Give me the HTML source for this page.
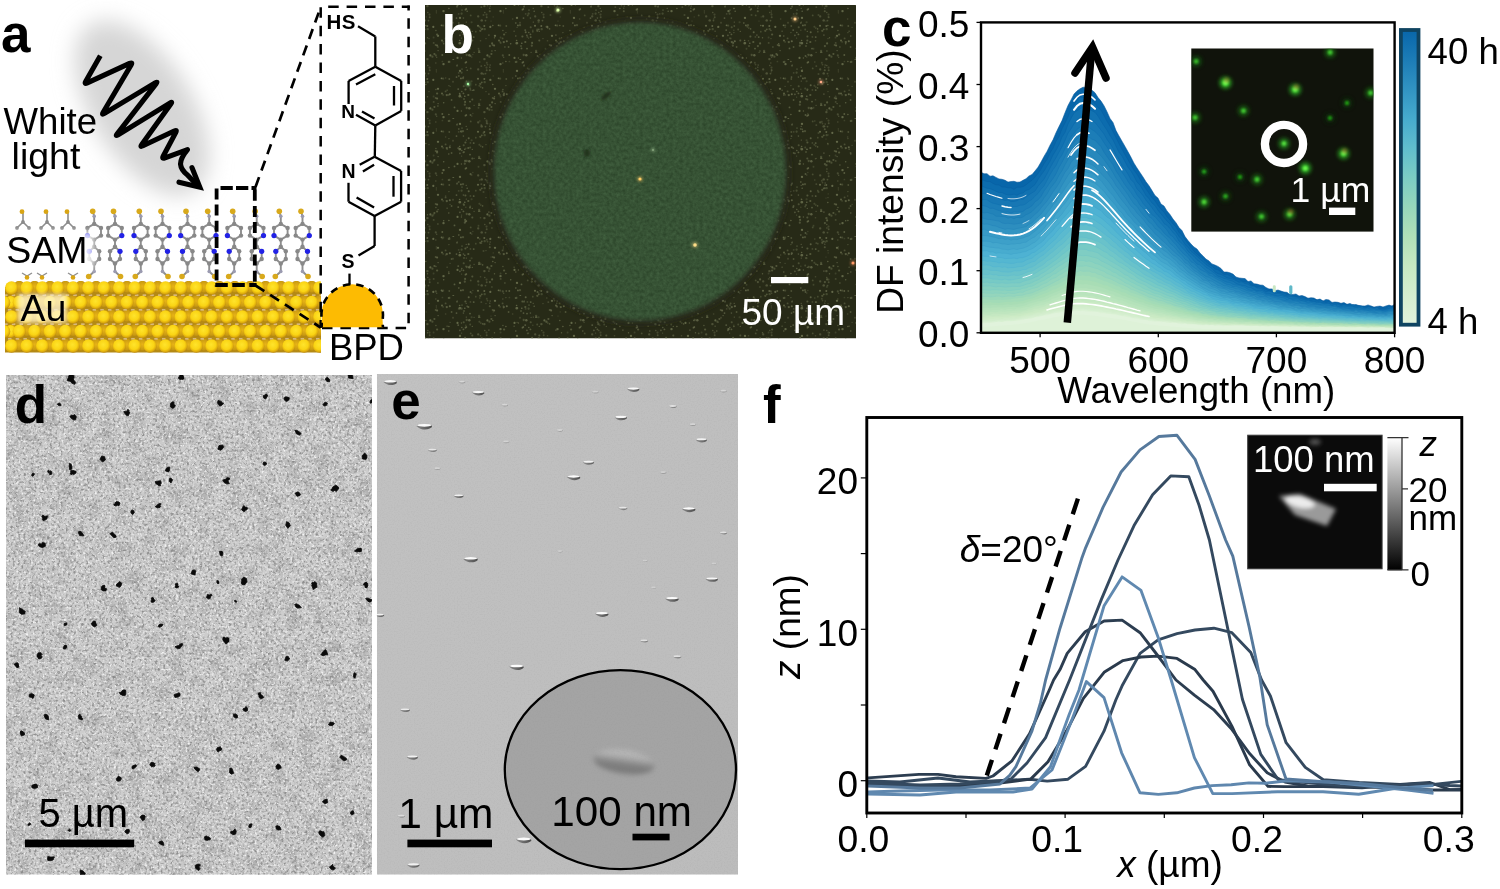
<!DOCTYPE html>
<html><head><meta charset="utf-8"><title>Figure</title>
<style>html,body{margin:0;padding:0;background:#fff;} body{width:1500px;height:889px;overflow:hidden;font-family:"Liberation Sans",sans-serif;} svg{display:block;will-change:transform;}</style>
</head><body>
<svg width="1500" height="889" viewBox="0 0 1500 889"><defs>
<filter id="blur14" x="-50%" y="-50%" width="200%" height="200%"><feGaussianBlur stdDeviation="14"/></filter>
<filter id="blur3" x="-50%" y="-50%" width="200%" height="200%"><feGaussianBlur stdDeviation="3"/></filter>
<filter id="blur1" x="-50%" y="-50%" width="200%" height="200%"><feGaussianBlur stdDeviation="1"/></filter>
<filter id="blur06" x="-50%" y="-50%" width="200%" height="200%"><feGaussianBlur stdDeviation="0.6"/></filter>
<filter id="blur2" x="-50%" y="-50%" width="200%" height="200%"><feGaussianBlur stdDeviation="2"/></filter>
<filter id="glow" x="-100%" y="-100%" width="300%" height="300%"><feGaussianBlur stdDeviation="2.2"/></filter>
<radialGradient id="au" cx="0.45" cy="0.4" r="0.6">
  <stop offset="0" stop-color="#ffe42c"/><stop offset="0.6" stop-color="#fad414"/><stop offset="0.85" stop-color="#e0ae0c"/><stop offset="1" stop-color="#bd8c12"/>
</radialGradient>
<!-- noise for panel d -->
<filter id="noiseD" x="0" y="0" width="100%" height="100%">
  <feTurbulence type="fractalNoise" baseFrequency="0.38" numOctaves="2" seed="3" result="t"/>
  <feColorMatrix in="t" type="matrix" values="0 0 0 0 0  0 0 0 0 0  0 0 0 0 0  0 0 0 -3.0 1.62" result="a1"/>
  <feFlood flood-color="#808080"/>
  <feComposite in2="a1" operator="in" result="dk"/>
  <feTurbulence type="fractalNoise" baseFrequency="0.42" numOctaves="2" seed="8" result="t2"/>
  <feColorMatrix in="t2" type="matrix" values="0 0 0 0 0  0 0 0 0 0  0 0 0 0 0  0 0 0 3.2 -1.72" result="a2"/>
  <feFlood flood-color="#ffffff"/>
  <feComposite in2="a2" operator="in" result="wt"/>
  <feMerge result="m"><feMergeNode in="dk"/><feMergeNode in="wt"/></feMerge>
  <feGaussianBlur in="m" stdDeviation="0.65"/>
</filter>
<filter id="noiseD2" x="0" y="0" width="100%" height="100%">
  <feTurbulence type="fractalNoise" baseFrequency="0.07" numOctaves="3" seed="9" result="t"/>
  <feColorMatrix in="t" type="matrix" values="0 0 0 0 0  0 0 0 0 0  0 0 0 0 0  0 0 0 -2.4 1.35" result="a1"/>
  <feFlood flood-color="#8a8a8a"/>
  <feComposite in2="a1" operator="in"/>
</filter>
<filter id="noiseE" x="0" y="0" width="100%" height="100%">
  <feTurbulence type="fractalNoise" baseFrequency="0.7" numOctaves="1" seed="5" result="t"/>
  <feColorMatrix in="t" type="matrix" values="0 0 0 0 0  0 0 0 0 0  0 0 0 0 0  0 0 0 -1.2 0.65" result="a1"/>
  <feFlood flood-color="#909090"/>
  <feComposite in2="a1" operator="in"/>
</filter>
<filter id="speck" x="0" y="0" width="100%" height="100%">
  <feTurbulence type="fractalNoise" baseFrequency="0.42" numOctaves="1" seed="11" result="t"/>
  <feColorMatrix in="t" type="matrix" values="0 0 0 0 0  0 0 0 0 0  0 0 0 0 0  0 0 0 7 -3.75" result="a1"/>
  <feGaussianBlur in="a1" stdDeviation="0.55" result="a2"/>
  <feFlood flood-color="#6a6e4c"/>
  <feComposite in2="a2" operator="in"/>
</filter>
<filter id="speckG" x="0" y="0" width="100%" height="100%">
  <feTurbulence type="fractalNoise" baseFrequency="0.5" numOctaves="1" seed="4" result="t"/>
  <feColorMatrix in="t" type="matrix" values="0 0 0 0 0  0 0 0 0 0  0 0 0 0 0  0 0 0 -3 1.6" result="a1"/>
  <feGaussianBlur in="a1" stdDeviation="0.6" result="a2"/>
  <feFlood flood-color="#2c4126"/>
  <feComposite in2="a2" operator="in"/>
</filter>
</defs><rect width="1500" height="889" fill="#fff"/><filter id="blur11" x="-50%" y="-50%" width="200%" height="200%"><feGaussianBlur stdDeviation="11"/></filter><g filter="url(#blur11)"><ellipse cx="142" cy="108" rx="98" ry="50" transform="rotate(58 142 108)" fill="#d6d6d6"/></g><path d="M100.3,55.7 L85.8,81.3 Q84.0,84.4 87.3,82.9 L129.6,63.4 Q132.9,61.9 131.1,65.0 L103.2,112.2 Q101.4,115.3 104.5,113.4 L155.1,82.9 Q158.2,81.0 156.0,83.8 L117.2,133.9 Q115.0,136.7 118.1,134.8 L169.8,103.1 Q172.9,101.2 170.8,104.1 L141.8,144.5 Q139.7,147.4 142.9,145.8 L174.2,131.0 Q177.4,129.4 175.7,132.6 L163.3,156.0 Q161.6,159.2 165.0,157.9 L187.5,149.6 Q180.5,158 180.5,164 Q181,170 187.5,175 L197,185" fill="none" stroke="#000" stroke-width="5.1" stroke-linejoin="round" stroke-linecap="butt"/><path d="M179,182.2 L199.8,187.2 L192,167.6" fill="none" stroke="#000" stroke-width="5.1" stroke-linejoin="miter" stroke-linecap="round"/><text x="1" y="51.5" font-family="Liberation Sans, sans-serif" font-weight="bold" font-size="53">a</text><text x="3.6" y="133.6" font-family="Liberation Sans, sans-serif" font-size="36.6">White</text><text x="11.6" y="168.5" font-family="Liberation Sans, sans-serif" font-size="37.5">light</text><polygon points="94.2,223.9 101.0,227.9 101.0,235.6 94.2,239.6 87.4,235.6 87.4,227.9" fill="none" stroke="#8e8e8e" stroke-width="1.9"/><polygon points="94.2,246.8 99.2,251.3 99.2,259.0 94.2,263.5 89.2,259.0 89.2,251.3" fill="none" stroke="#8e8e8e" stroke-width="1.9"/><path d="M92.7,211.3 L94.2,216.2 L94.2,223.9 M94.2,239.6 L94.2,246.8 M94.2,263.5 L94.2,271.5 L88.7,276.5" stroke="#8e8e8e" stroke-width="1.9" fill="none"/><circle cx="94.2" cy="223.9" r="2.2" fill="#888"/><circle cx="101.0" cy="227.9" r="2.2" fill="#888"/><circle cx="101.0" cy="235.6" r="2.2" fill="#888"/><circle cx="94.2" cy="239.6" r="2.2" fill="#888"/><circle cx="87.4" cy="235.6" r="2.2" fill="#888"/><circle cx="87.4" cy="227.9" r="2.2" fill="#888"/><circle cx="94.2" cy="246.8" r="2.2" fill="#888"/><circle cx="99.2" cy="251.3" r="2.2" fill="#888"/><circle cx="99.2" cy="259.0" r="2.2" fill="#888"/><circle cx="94.2" cy="263.5" r="2.2" fill="#888"/><circle cx="89.2" cy="259.0" r="2.2" fill="#888"/><circle cx="89.2" cy="251.3" r="2.2" fill="#888"/><circle cx="87.4" cy="235.6" r="2.6" fill="#2222e6"/><circle cx="89.2" cy="251.3" r="2.6" fill="#2222e6"/><circle cx="94.2" cy="216.2" r="1.8" fill="#9a9ab0"/><circle cx="94.2" cy="271.5" r="1.8" fill="#9a9ab0"/><circle cx="92.7" cy="211.3" r="2.8" fill="#d8a91c"/><circle cx="88.7" cy="276.5" r="2.8" fill="#d8a91c"/><polygon points="115.0,223.9 121.8,227.9 121.8,235.6 115.0,239.6 108.2,235.6 108.2,227.9" fill="none" stroke="#8e8e8e" stroke-width="1.9"/><polygon points="115.0,246.8 120.0,251.3 120.0,259.0 115.0,263.5 110.0,259.0 110.0,251.3" fill="none" stroke="#8e8e8e" stroke-width="1.9"/><path d="M113.5,211.3 L115,216.2 L115,223.9 M115,239.6 L115,246.8 M115,263.5 L115,271.5 L120.5,276.5" stroke="#8e8e8e" stroke-width="1.9" fill="none"/><circle cx="115.0" cy="223.9" r="2.2" fill="#888"/><circle cx="121.8" cy="227.9" r="2.2" fill="#888"/><circle cx="121.8" cy="235.6" r="2.2" fill="#888"/><circle cx="115.0" cy="239.6" r="2.2" fill="#888"/><circle cx="108.2" cy="235.6" r="2.2" fill="#888"/><circle cx="108.2" cy="227.9" r="2.2" fill="#888"/><circle cx="115.0" cy="246.8" r="2.2" fill="#888"/><circle cx="120.0" cy="251.3" r="2.2" fill="#888"/><circle cx="120.0" cy="259.0" r="2.2" fill="#888"/><circle cx="115.0" cy="263.5" r="2.2" fill="#888"/><circle cx="110.0" cy="259.0" r="2.2" fill="#888"/><circle cx="110.0" cy="251.3" r="2.2" fill="#888"/><circle cx="121.8" cy="235.6" r="2.6" fill="#2222e6"/><circle cx="120.0" cy="251.3" r="2.6" fill="#2222e6"/><circle cx="115" cy="216.2" r="1.8" fill="#9a9ab0"/><circle cx="115" cy="271.5" r="1.8" fill="#9a9ab0"/><circle cx="113.5" cy="211.3" r="2.8" fill="#d8a91c"/><circle cx="120.5" cy="276.5" r="2.8" fill="#d8a91c"/><polygon points="140.8,223.9 147.6,227.9 147.6,235.6 140.8,239.6 134.0,235.6 134.0,227.9" fill="none" stroke="#8e8e8e" stroke-width="1.9"/><polygon points="140.8,246.8 145.8,251.3 145.8,259.0 140.8,263.5 135.8,259.0 135.8,251.3" fill="none" stroke="#8e8e8e" stroke-width="1.9"/><path d="M139.3,211.3 L140.8,216.2 L140.8,223.9 M140.8,239.6 L140.8,246.8 M140.8,263.5 L140.8,271.5 L135.3,276.5" stroke="#8e8e8e" stroke-width="1.9" fill="none"/><circle cx="140.8" cy="223.9" r="2.2" fill="#888"/><circle cx="147.6" cy="227.9" r="2.2" fill="#888"/><circle cx="147.6" cy="235.6" r="2.2" fill="#888"/><circle cx="140.8" cy="239.6" r="2.2" fill="#888"/><circle cx="134.0" cy="235.6" r="2.2" fill="#888"/><circle cx="134.0" cy="227.9" r="2.2" fill="#888"/><circle cx="140.8" cy="246.8" r="2.2" fill="#888"/><circle cx="145.8" cy="251.3" r="2.2" fill="#888"/><circle cx="145.8" cy="259.0" r="2.2" fill="#888"/><circle cx="140.8" cy="263.5" r="2.2" fill="#888"/><circle cx="135.8" cy="259.0" r="2.2" fill="#888"/><circle cx="135.8" cy="251.3" r="2.2" fill="#888"/><circle cx="134.0" cy="235.6" r="2.6" fill="#2222e6"/><circle cx="135.8" cy="251.3" r="2.6" fill="#2222e6"/><circle cx="140.8" cy="216.2" r="1.8" fill="#9a9ab0"/><circle cx="140.8" cy="271.5" r="1.8" fill="#9a9ab0"/><circle cx="139.3" cy="211.3" r="2.8" fill="#d8a91c"/><circle cx="135.3" cy="276.5" r="2.8" fill="#d8a91c"/><polygon points="162.5,223.9 169.3,227.9 169.3,235.6 162.5,239.6 155.7,235.6 155.7,227.9" fill="none" stroke="#8e8e8e" stroke-width="1.9"/><polygon points="162.5,246.8 167.5,251.3 167.5,259.0 162.5,263.5 157.5,259.0 157.5,251.3" fill="none" stroke="#8e8e8e" stroke-width="1.9"/><path d="M161.0,211.3 L162.5,216.2 L162.5,223.9 M162.5,239.6 L162.5,246.8 M162.5,263.5 L162.5,271.5 L168.0,276.5" stroke="#8e8e8e" stroke-width="1.9" fill="none"/><circle cx="162.5" cy="223.9" r="2.2" fill="#888"/><circle cx="169.3" cy="227.9" r="2.2" fill="#888"/><circle cx="169.3" cy="235.6" r="2.2" fill="#888"/><circle cx="162.5" cy="239.6" r="2.2" fill="#888"/><circle cx="155.7" cy="235.6" r="2.2" fill="#888"/><circle cx="155.7" cy="227.9" r="2.2" fill="#888"/><circle cx="162.5" cy="246.8" r="2.2" fill="#888"/><circle cx="167.5" cy="251.3" r="2.2" fill="#888"/><circle cx="167.5" cy="259.0" r="2.2" fill="#888"/><circle cx="162.5" cy="263.5" r="2.2" fill="#888"/><circle cx="157.5" cy="259.0" r="2.2" fill="#888"/><circle cx="157.5" cy="251.3" r="2.2" fill="#888"/><circle cx="169.3" cy="235.6" r="2.6" fill="#2222e6"/><circle cx="167.5" cy="251.3" r="2.6" fill="#2222e6"/><circle cx="162.5" cy="216.2" r="1.8" fill="#9a9ab0"/><circle cx="162.5" cy="271.5" r="1.8" fill="#9a9ab0"/><circle cx="161.0" cy="211.3" r="2.8" fill="#d8a91c"/><circle cx="168.0" cy="276.5" r="2.8" fill="#d8a91c"/><polygon points="187.5,223.9 194.3,227.9 194.3,235.6 187.5,239.6 180.7,235.6 180.7,227.9" fill="none" stroke="#8e8e8e" stroke-width="1.9"/><polygon points="187.5,246.8 192.5,251.3 192.5,259.0 187.5,263.5 182.5,259.0 182.5,251.3" fill="none" stroke="#8e8e8e" stroke-width="1.9"/><path d="M186.0,211.3 L187.5,216.2 L187.5,223.9 M187.5,239.6 L187.5,246.8 M187.5,263.5 L187.5,271.5 L182.0,276.5" stroke="#8e8e8e" stroke-width="1.9" fill="none"/><circle cx="187.5" cy="223.9" r="2.2" fill="#888"/><circle cx="194.3" cy="227.9" r="2.2" fill="#888"/><circle cx="194.3" cy="235.6" r="2.2" fill="#888"/><circle cx="187.5" cy="239.6" r="2.2" fill="#888"/><circle cx="180.7" cy="235.6" r="2.2" fill="#888"/><circle cx="180.7" cy="227.9" r="2.2" fill="#888"/><circle cx="187.5" cy="246.8" r="2.2" fill="#888"/><circle cx="192.5" cy="251.3" r="2.2" fill="#888"/><circle cx="192.5" cy="259.0" r="2.2" fill="#888"/><circle cx="187.5" cy="263.5" r="2.2" fill="#888"/><circle cx="182.5" cy="259.0" r="2.2" fill="#888"/><circle cx="182.5" cy="251.3" r="2.2" fill="#888"/><circle cx="180.7" cy="235.6" r="2.6" fill="#2222e6"/><circle cx="182.5" cy="251.3" r="2.6" fill="#2222e6"/><circle cx="187.5" cy="216.2" r="1.8" fill="#9a9ab0"/><circle cx="187.5" cy="271.5" r="1.8" fill="#9a9ab0"/><circle cx="186.0" cy="211.3" r="2.8" fill="#d8a91c"/><circle cx="182.0" cy="276.5" r="2.8" fill="#d8a91c"/><polygon points="209.2,223.9 216.0,227.9 216.0,235.6 209.2,239.6 202.4,235.6 202.4,227.9" fill="none" stroke="#8e8e8e" stroke-width="1.9"/><polygon points="209.2,246.8 214.2,251.3 214.2,259.0 209.2,263.5 204.2,259.0 204.2,251.3" fill="none" stroke="#8e8e8e" stroke-width="1.9"/><path d="M207.7,211.3 L209.2,216.2 L209.2,223.9 M209.2,239.6 L209.2,246.8 M209.2,263.5 L209.2,271.5 L214.7,276.5" stroke="#8e8e8e" stroke-width="1.9" fill="none"/><circle cx="209.2" cy="223.9" r="2.2" fill="#888"/><circle cx="216.0" cy="227.9" r="2.2" fill="#888"/><circle cx="216.0" cy="235.6" r="2.2" fill="#888"/><circle cx="209.2" cy="239.6" r="2.2" fill="#888"/><circle cx="202.4" cy="235.6" r="2.2" fill="#888"/><circle cx="202.4" cy="227.9" r="2.2" fill="#888"/><circle cx="209.2" cy="246.8" r="2.2" fill="#888"/><circle cx="214.2" cy="251.3" r="2.2" fill="#888"/><circle cx="214.2" cy="259.0" r="2.2" fill="#888"/><circle cx="209.2" cy="263.5" r="2.2" fill="#888"/><circle cx="204.2" cy="259.0" r="2.2" fill="#888"/><circle cx="204.2" cy="251.3" r="2.2" fill="#888"/><circle cx="216.0" cy="235.6" r="2.6" fill="#2222e6"/><circle cx="214.2" cy="251.3" r="2.6" fill="#2222e6"/><circle cx="209.2" cy="216.2" r="1.8" fill="#9a9ab0"/><circle cx="209.2" cy="271.5" r="1.8" fill="#9a9ab0"/><circle cx="207.7" cy="211.3" r="2.8" fill="#d8a91c"/><circle cx="214.7" cy="276.5" r="2.8" fill="#d8a91c"/><polygon points="234.2,223.9 241.0,227.9 241.0,235.6 234.2,239.6 227.4,235.6 227.4,227.9" fill="none" stroke="#8e8e8e" stroke-width="1.9"/><polygon points="234.2,246.8 239.2,251.3 239.2,259.0 234.2,263.5 229.2,259.0 229.2,251.3" fill="none" stroke="#8e8e8e" stroke-width="1.9"/><path d="M232.7,211.3 L234.2,216.2 L234.2,223.9 M234.2,239.6 L234.2,246.8 M234.2,263.5 L234.2,271.5 L228.7,276.5" stroke="#8e8e8e" stroke-width="1.9" fill="none"/><circle cx="234.2" cy="223.9" r="2.2" fill="#888"/><circle cx="241.0" cy="227.9" r="2.2" fill="#888"/><circle cx="241.0" cy="235.6" r="2.2" fill="#888"/><circle cx="234.2" cy="239.6" r="2.2" fill="#888"/><circle cx="227.4" cy="235.6" r="2.2" fill="#888"/><circle cx="227.4" cy="227.9" r="2.2" fill="#888"/><circle cx="234.2" cy="246.8" r="2.2" fill="#888"/><circle cx="239.2" cy="251.3" r="2.2" fill="#888"/><circle cx="239.2" cy="259.0" r="2.2" fill="#888"/><circle cx="234.2" cy="263.5" r="2.2" fill="#888"/><circle cx="229.2" cy="259.0" r="2.2" fill="#888"/><circle cx="229.2" cy="251.3" r="2.2" fill="#888"/><circle cx="227.4" cy="235.6" r="2.6" fill="#2222e6"/><circle cx="229.2" cy="251.3" r="2.6" fill="#2222e6"/><circle cx="234.2" cy="216.2" r="1.8" fill="#9a9ab0"/><circle cx="234.2" cy="271.5" r="1.8" fill="#9a9ab0"/><circle cx="232.7" cy="211.3" r="2.8" fill="#d8a91c"/><circle cx="228.7" cy="276.5" r="2.8" fill="#d8a91c"/><polygon points="256.7,223.9 263.5,227.9 263.5,235.6 256.7,239.6 249.9,235.6 249.9,227.9" fill="none" stroke="#8e8e8e" stroke-width="1.9"/><polygon points="256.7,246.8 261.7,251.3 261.7,259.0 256.7,263.5 251.7,259.0 251.7,251.3" fill="none" stroke="#8e8e8e" stroke-width="1.9"/><path d="M255.2,211.3 L256.7,216.2 L256.7,223.9 M256.7,239.6 L256.7,246.8 M256.7,263.5 L256.7,271.5 L262.2,276.5" stroke="#8e8e8e" stroke-width="1.9" fill="none"/><circle cx="256.7" cy="223.9" r="2.2" fill="#888"/><circle cx="263.5" cy="227.9" r="2.2" fill="#888"/><circle cx="263.5" cy="235.6" r="2.2" fill="#888"/><circle cx="256.7" cy="239.6" r="2.2" fill="#888"/><circle cx="249.9" cy="235.6" r="2.2" fill="#888"/><circle cx="249.9" cy="227.9" r="2.2" fill="#888"/><circle cx="256.7" cy="246.8" r="2.2" fill="#888"/><circle cx="261.7" cy="251.3" r="2.2" fill="#888"/><circle cx="261.7" cy="259.0" r="2.2" fill="#888"/><circle cx="256.7" cy="263.5" r="2.2" fill="#888"/><circle cx="251.7" cy="259.0" r="2.2" fill="#888"/><circle cx="251.7" cy="251.3" r="2.2" fill="#888"/><circle cx="263.5" cy="235.6" r="2.6" fill="#2222e6"/><circle cx="261.7" cy="251.3" r="2.6" fill="#2222e6"/><circle cx="256.7" cy="216.2" r="1.8" fill="#9a9ab0"/><circle cx="256.7" cy="271.5" r="1.8" fill="#9a9ab0"/><circle cx="255.2" cy="211.3" r="2.8" fill="#d8a91c"/><circle cx="262.2" cy="276.5" r="2.8" fill="#d8a91c"/><polygon points="280.8,223.9 287.6,227.9 287.6,235.6 280.8,239.6 274.0,235.6 274.0,227.9" fill="none" stroke="#8e8e8e" stroke-width="1.9"/><polygon points="280.8,246.8 285.8,251.3 285.8,259.0 280.8,263.5 275.8,259.0 275.8,251.3" fill="none" stroke="#8e8e8e" stroke-width="1.9"/><path d="M279.3,211.3 L280.8,216.2 L280.8,223.9 M280.8,239.6 L280.8,246.8 M280.8,263.5 L280.8,271.5 L275.3,276.5" stroke="#8e8e8e" stroke-width="1.9" fill="none"/><circle cx="280.8" cy="223.9" r="2.2" fill="#888"/><circle cx="287.6" cy="227.9" r="2.2" fill="#888"/><circle cx="287.6" cy="235.6" r="2.2" fill="#888"/><circle cx="280.8" cy="239.6" r="2.2" fill="#888"/><circle cx="274.0" cy="235.6" r="2.2" fill="#888"/><circle cx="274.0" cy="227.9" r="2.2" fill="#888"/><circle cx="280.8" cy="246.8" r="2.2" fill="#888"/><circle cx="285.8" cy="251.3" r="2.2" fill="#888"/><circle cx="285.8" cy="259.0" r="2.2" fill="#888"/><circle cx="280.8" cy="263.5" r="2.2" fill="#888"/><circle cx="275.8" cy="259.0" r="2.2" fill="#888"/><circle cx="275.8" cy="251.3" r="2.2" fill="#888"/><circle cx="274.0" cy="235.6" r="2.6" fill="#2222e6"/><circle cx="275.8" cy="251.3" r="2.6" fill="#2222e6"/><circle cx="280.8" cy="216.2" r="1.8" fill="#9a9ab0"/><circle cx="280.8" cy="271.5" r="1.8" fill="#9a9ab0"/><circle cx="279.3" cy="211.3" r="2.8" fill="#d8a91c"/><circle cx="275.3" cy="276.5" r="2.8" fill="#d8a91c"/><polygon points="302.5,223.9 309.3,227.9 309.3,235.6 302.5,239.6 295.7,235.6 295.7,227.9" fill="none" stroke="#8e8e8e" stroke-width="1.9"/><polygon points="302.5,246.8 307.5,251.3 307.5,259.0 302.5,263.5 297.5,259.0 297.5,251.3" fill="none" stroke="#8e8e8e" stroke-width="1.9"/><path d="M301.0,211.3 L302.5,216.2 L302.5,223.9 M302.5,239.6 L302.5,246.8 M302.5,263.5 L302.5,271.5 L308.0,276.5" stroke="#8e8e8e" stroke-width="1.9" fill="none"/><circle cx="302.5" cy="223.9" r="2.2" fill="#888"/><circle cx="309.3" cy="227.9" r="2.2" fill="#888"/><circle cx="309.3" cy="235.6" r="2.2" fill="#888"/><circle cx="302.5" cy="239.6" r="2.2" fill="#888"/><circle cx="295.7" cy="235.6" r="2.2" fill="#888"/><circle cx="295.7" cy="227.9" r="2.2" fill="#888"/><circle cx="302.5" cy="246.8" r="2.2" fill="#888"/><circle cx="307.5" cy="251.3" r="2.2" fill="#888"/><circle cx="307.5" cy="259.0" r="2.2" fill="#888"/><circle cx="302.5" cy="263.5" r="2.2" fill="#888"/><circle cx="297.5" cy="259.0" r="2.2" fill="#888"/><circle cx="297.5" cy="251.3" r="2.2" fill="#888"/><circle cx="309.3" cy="235.6" r="2.6" fill="#2222e6"/><circle cx="307.5" cy="251.3" r="2.6" fill="#2222e6"/><circle cx="302.5" cy="216.2" r="1.8" fill="#9a9ab0"/><circle cx="302.5" cy="271.5" r="1.8" fill="#9a9ab0"/><circle cx="301.0" cy="211.3" r="2.8" fill="#d8a91c"/><circle cx="308.0" cy="276.5" r="2.8" fill="#d8a91c"/><path d="M23,212 L23,222 L17,228 M23,222 L29,228" stroke="#8c8c8c" stroke-width="1.6" fill="none"/><circle cx="17" cy="228" r="1.9" fill="#8a8a8a"/><circle cx="29" cy="228" r="1.9" fill="#8a8a8a"/><circle cx="23" cy="222" r="1.9" fill="#8a8a8a"/><circle cx="22" cy="211.7" r="2.4" fill="#d9a514"/><path d="M47,212 L47,222 L41,228 M47,222 L53,228" stroke="#8c8c8c" stroke-width="1.6" fill="none"/><circle cx="41" cy="228" r="1.9" fill="#8a8a8a"/><circle cx="53" cy="228" r="1.9" fill="#8a8a8a"/><circle cx="47" cy="222" r="1.9" fill="#8a8a8a"/><circle cx="46" cy="211.7" r="2.4" fill="#d9a514"/><path d="M68,212 L68,222 L62,228 M68,222 L74,228" stroke="#8c8c8c" stroke-width="1.6" fill="none"/><circle cx="62" cy="228" r="1.9" fill="#8a8a8a"/><circle cx="74" cy="228" r="1.9" fill="#8a8a8a"/><circle cx="68" cy="222" r="1.9" fill="#8a8a8a"/><circle cx="67" cy="211.7" r="2.4" fill="#d9a514"/><path d="M22,273 L27,276 L32,273" stroke="#8c8c8c" stroke-width="1.4" fill="none"/><circle cx="27" cy="277.5" r="2.3" fill="#d9a514"/><path d="M37,273 L42,276 L47,273" stroke="#8c8c8c" stroke-width="1.4" fill="none"/><circle cx="42" cy="277.5" r="2.3" fill="#d9a514"/><path d="M68,273 L73,276 L78,273" stroke="#8c8c8c" stroke-width="1.4" fill="none"/><circle cx="73" cy="277.5" r="2.3" fill="#d9a514"/><rect x="6" y="232" width="88" height="36" fill="#fff" opacity="0.85" filter="url(#blur3)"/><text x="6.3" y="262.6" font-family="Liberation Sans, sans-serif" font-size="37.5">SAM</text><clipPath id="auclip"><rect x="5" y="281" width="316" height="72.5"/></clipPath><g clip-path="url(#auclip)"><radialGradient id="auB" cx="0.5" cy="0.45" r="0.6"><stop offset="0" stop-color="#e8b416"/><stop offset="0.7" stop-color="#c99a12"/><stop offset="1" stop-color="#a67a10"/></radialGradient><rect x="5" y="287" width="316" height="65.5" fill="#b48a16"/><ellipse cx="19.2" cy="287" rx="5.6" ry="6.2" fill="url(#auB)"/><ellipse cx="34.6" cy="287" rx="5.6" ry="6.2" fill="url(#auB)"/><ellipse cx="50.0" cy="287" rx="5.6" ry="6.2" fill="url(#auB)"/><ellipse cx="65.4" cy="287" rx="5.6" ry="6.2" fill="url(#auB)"/><ellipse cx="80.8" cy="287" rx="5.6" ry="6.2" fill="url(#auB)"/><ellipse cx="96.2" cy="287" rx="5.6" ry="6.2" fill="url(#auB)"/><ellipse cx="111.6" cy="287" rx="5.6" ry="6.2" fill="url(#auB)"/><ellipse cx="127.0" cy="287" rx="5.6" ry="6.2" fill="url(#auB)"/><ellipse cx="142.4" cy="287" rx="5.6" ry="6.2" fill="url(#auB)"/><ellipse cx="157.8" cy="287" rx="5.6" ry="6.2" fill="url(#auB)"/><ellipse cx="173.2" cy="287" rx="5.6" ry="6.2" fill="url(#auB)"/><ellipse cx="188.6" cy="287" rx="5.6" ry="6.2" fill="url(#auB)"/><ellipse cx="204.0" cy="287" rx="5.6" ry="6.2" fill="url(#auB)"/><ellipse cx="219.4" cy="287" rx="5.6" ry="6.2" fill="url(#auB)"/><ellipse cx="234.8" cy="287" rx="5.6" ry="6.2" fill="url(#auB)"/><ellipse cx="250.2" cy="287" rx="5.6" ry="6.2" fill="url(#auB)"/><ellipse cx="265.6" cy="287" rx="5.6" ry="6.2" fill="url(#auB)"/><ellipse cx="281.0" cy="287" rx="5.6" ry="6.2" fill="url(#auB)"/><ellipse cx="296.4" cy="287" rx="5.6" ry="6.2" fill="url(#auB)"/><ellipse cx="311.8" cy="287" rx="5.6" ry="6.2" fill="url(#auB)"/><ellipse cx="327.2" cy="287" rx="5.6" ry="6.2" fill="url(#auB)"/><ellipse cx="11.5" cy="301.5" rx="5.6" ry="6.2" fill="url(#auB)"/><ellipse cx="26.9" cy="301.5" rx="5.6" ry="6.2" fill="url(#auB)"/><ellipse cx="42.3" cy="301.5" rx="5.6" ry="6.2" fill="url(#auB)"/><ellipse cx="57.7" cy="301.5" rx="5.6" ry="6.2" fill="url(#auB)"/><ellipse cx="73.1" cy="301.5" rx="5.6" ry="6.2" fill="url(#auB)"/><ellipse cx="88.5" cy="301.5" rx="5.6" ry="6.2" fill="url(#auB)"/><ellipse cx="103.9" cy="301.5" rx="5.6" ry="6.2" fill="url(#auB)"/><ellipse cx="119.3" cy="301.5" rx="5.6" ry="6.2" fill="url(#auB)"/><ellipse cx="134.7" cy="301.5" rx="5.6" ry="6.2" fill="url(#auB)"/><ellipse cx="150.1" cy="301.5" rx="5.6" ry="6.2" fill="url(#auB)"/><ellipse cx="165.5" cy="301.5" rx="5.6" ry="6.2" fill="url(#auB)"/><ellipse cx="180.9" cy="301.5" rx="5.6" ry="6.2" fill="url(#auB)"/><ellipse cx="196.3" cy="301.5" rx="5.6" ry="6.2" fill="url(#auB)"/><ellipse cx="211.7" cy="301.5" rx="5.6" ry="6.2" fill="url(#auB)"/><ellipse cx="227.1" cy="301.5" rx="5.6" ry="6.2" fill="url(#auB)"/><ellipse cx="242.5" cy="301.5" rx="5.6" ry="6.2" fill="url(#auB)"/><ellipse cx="257.9" cy="301.5" rx="5.6" ry="6.2" fill="url(#auB)"/><ellipse cx="273.3" cy="301.5" rx="5.6" ry="6.2" fill="url(#auB)"/><ellipse cx="288.7" cy="301.5" rx="5.6" ry="6.2" fill="url(#auB)"/><ellipse cx="304.1" cy="301.5" rx="5.6" ry="6.2" fill="url(#auB)"/><ellipse cx="319.5" cy="301.5" rx="5.6" ry="6.2" fill="url(#auB)"/><ellipse cx="19.2" cy="316" rx="5.6" ry="6.2" fill="url(#auB)"/><ellipse cx="34.6" cy="316" rx="5.6" ry="6.2" fill="url(#auB)"/><ellipse cx="50.0" cy="316" rx="5.6" ry="6.2" fill="url(#auB)"/><ellipse cx="65.4" cy="316" rx="5.6" ry="6.2" fill="url(#auB)"/><ellipse cx="80.8" cy="316" rx="5.6" ry="6.2" fill="url(#auB)"/><ellipse cx="96.2" cy="316" rx="5.6" ry="6.2" fill="url(#auB)"/><ellipse cx="111.6" cy="316" rx="5.6" ry="6.2" fill="url(#auB)"/><ellipse cx="127.0" cy="316" rx="5.6" ry="6.2" fill="url(#auB)"/><ellipse cx="142.4" cy="316" rx="5.6" ry="6.2" fill="url(#auB)"/><ellipse cx="157.8" cy="316" rx="5.6" ry="6.2" fill="url(#auB)"/><ellipse cx="173.2" cy="316" rx="5.6" ry="6.2" fill="url(#auB)"/><ellipse cx="188.6" cy="316" rx="5.6" ry="6.2" fill="url(#auB)"/><ellipse cx="204.0" cy="316" rx="5.6" ry="6.2" fill="url(#auB)"/><ellipse cx="219.4" cy="316" rx="5.6" ry="6.2" fill="url(#auB)"/><ellipse cx="234.8" cy="316" rx="5.6" ry="6.2" fill="url(#auB)"/><ellipse cx="250.2" cy="316" rx="5.6" ry="6.2" fill="url(#auB)"/><ellipse cx="265.6" cy="316" rx="5.6" ry="6.2" fill="url(#auB)"/><ellipse cx="281.0" cy="316" rx="5.6" ry="6.2" fill="url(#auB)"/><ellipse cx="296.4" cy="316" rx="5.6" ry="6.2" fill="url(#auB)"/><ellipse cx="311.8" cy="316" rx="5.6" ry="6.2" fill="url(#auB)"/><ellipse cx="327.2" cy="316" rx="5.6" ry="6.2" fill="url(#auB)"/><ellipse cx="11.5" cy="330.5" rx="5.6" ry="6.2" fill="url(#auB)"/><ellipse cx="26.9" cy="330.5" rx="5.6" ry="6.2" fill="url(#auB)"/><ellipse cx="42.3" cy="330.5" rx="5.6" ry="6.2" fill="url(#auB)"/><ellipse cx="57.7" cy="330.5" rx="5.6" ry="6.2" fill="url(#auB)"/><ellipse cx="73.1" cy="330.5" rx="5.6" ry="6.2" fill="url(#auB)"/><ellipse cx="88.5" cy="330.5" rx="5.6" ry="6.2" fill="url(#auB)"/><ellipse cx="103.9" cy="330.5" rx="5.6" ry="6.2" fill="url(#auB)"/><ellipse cx="119.3" cy="330.5" rx="5.6" ry="6.2" fill="url(#auB)"/><ellipse cx="134.7" cy="330.5" rx="5.6" ry="6.2" fill="url(#auB)"/><ellipse cx="150.1" cy="330.5" rx="5.6" ry="6.2" fill="url(#auB)"/><ellipse cx="165.5" cy="330.5" rx="5.6" ry="6.2" fill="url(#auB)"/><ellipse cx="180.9" cy="330.5" rx="5.6" ry="6.2" fill="url(#auB)"/><ellipse cx="196.3" cy="330.5" rx="5.6" ry="6.2" fill="url(#auB)"/><ellipse cx="211.7" cy="330.5" rx="5.6" ry="6.2" fill="url(#auB)"/><ellipse cx="227.1" cy="330.5" rx="5.6" ry="6.2" fill="url(#auB)"/><ellipse cx="242.5" cy="330.5" rx="5.6" ry="6.2" fill="url(#auB)"/><ellipse cx="257.9" cy="330.5" rx="5.6" ry="6.2" fill="url(#auB)"/><ellipse cx="273.3" cy="330.5" rx="5.6" ry="6.2" fill="url(#auB)"/><ellipse cx="288.7" cy="330.5" rx="5.6" ry="6.2" fill="url(#auB)"/><ellipse cx="304.1" cy="330.5" rx="5.6" ry="6.2" fill="url(#auB)"/><ellipse cx="319.5" cy="330.5" rx="5.6" ry="6.2" fill="url(#auB)"/><ellipse cx="19.2" cy="345" rx="5.6" ry="6.2" fill="url(#auB)"/><ellipse cx="34.6" cy="345" rx="5.6" ry="6.2" fill="url(#auB)"/><ellipse cx="50.0" cy="345" rx="5.6" ry="6.2" fill="url(#auB)"/><ellipse cx="65.4" cy="345" rx="5.6" ry="6.2" fill="url(#auB)"/><ellipse cx="80.8" cy="345" rx="5.6" ry="6.2" fill="url(#auB)"/><ellipse cx="96.2" cy="345" rx="5.6" ry="6.2" fill="url(#auB)"/><ellipse cx="111.6" cy="345" rx="5.6" ry="6.2" fill="url(#auB)"/><ellipse cx="127.0" cy="345" rx="5.6" ry="6.2" fill="url(#auB)"/><ellipse cx="142.4" cy="345" rx="5.6" ry="6.2" fill="url(#auB)"/><ellipse cx="157.8" cy="345" rx="5.6" ry="6.2" fill="url(#auB)"/><ellipse cx="173.2" cy="345" rx="5.6" ry="6.2" fill="url(#auB)"/><ellipse cx="188.6" cy="345" rx="5.6" ry="6.2" fill="url(#auB)"/><ellipse cx="204.0" cy="345" rx="5.6" ry="6.2" fill="url(#auB)"/><ellipse cx="219.4" cy="345" rx="5.6" ry="6.2" fill="url(#auB)"/><ellipse cx="234.8" cy="345" rx="5.6" ry="6.2" fill="url(#auB)"/><ellipse cx="250.2" cy="345" rx="5.6" ry="6.2" fill="url(#auB)"/><ellipse cx="265.6" cy="345" rx="5.6" ry="6.2" fill="url(#auB)"/><ellipse cx="281.0" cy="345" rx="5.6" ry="6.2" fill="url(#auB)"/><ellipse cx="296.4" cy="345" rx="5.6" ry="6.2" fill="url(#auB)"/><ellipse cx="311.8" cy="345" rx="5.6" ry="6.2" fill="url(#auB)"/><ellipse cx="327.2" cy="345" rx="5.6" ry="6.2" fill="url(#auB)"/><line x1="5" y1="295.2" x2="321" y2="295.2" stroke="#f0d8c4" stroke-width="1.3" opacity="0.8" stroke-dasharray="3.5 4.2" stroke-dashoffset="1.0"/><line x1="5" y1="309.8" x2="321" y2="309.8" stroke="#f0d8c4" stroke-width="1.3" opacity="0.8" stroke-dasharray="3.5 4.2" stroke-dashoffset="4.8"/><line x1="5" y1="324.2" x2="321" y2="324.2" stroke="#f0d8c4" stroke-width="1.3" opacity="0.8" stroke-dasharray="3.5 4.2" stroke-dashoffset="8.6"/><line x1="5" y1="338.8" x2="321" y2="338.8" stroke="#f0d8c4" stroke-width="1.3" opacity="0.8" stroke-dasharray="3.5 4.2" stroke-dashoffset="12.4"/><ellipse cx="11.5" cy="288" rx="6.5" ry="6.7" fill="url(#au)"/><ellipse cx="26.9" cy="288" rx="6.5" ry="6.7" fill="url(#au)"/><ellipse cx="42.3" cy="288" rx="6.5" ry="6.7" fill="url(#au)"/><ellipse cx="57.7" cy="288" rx="6.5" ry="6.7" fill="url(#au)"/><ellipse cx="73.1" cy="288" rx="6.5" ry="6.7" fill="url(#au)"/><ellipse cx="88.5" cy="288" rx="6.5" ry="6.7" fill="url(#au)"/><ellipse cx="103.9" cy="288" rx="6.5" ry="6.7" fill="url(#au)"/><ellipse cx="119.3" cy="288" rx="6.5" ry="6.7" fill="url(#au)"/><ellipse cx="134.7" cy="288" rx="6.5" ry="6.7" fill="url(#au)"/><ellipse cx="150.1" cy="288" rx="6.5" ry="6.7" fill="url(#au)"/><ellipse cx="165.5" cy="288" rx="6.5" ry="6.7" fill="url(#au)"/><ellipse cx="180.9" cy="288" rx="6.5" ry="6.7" fill="url(#au)"/><ellipse cx="196.3" cy="288" rx="6.5" ry="6.7" fill="url(#au)"/><ellipse cx="211.7" cy="288" rx="6.5" ry="6.7" fill="url(#au)"/><ellipse cx="227.1" cy="288" rx="6.5" ry="6.7" fill="url(#au)"/><ellipse cx="242.5" cy="288" rx="6.5" ry="6.7" fill="url(#au)"/><ellipse cx="257.9" cy="288" rx="6.5" ry="6.7" fill="url(#au)"/><ellipse cx="273.3" cy="288" rx="6.5" ry="6.7" fill="url(#au)"/><ellipse cx="288.7" cy="288" rx="6.5" ry="6.7" fill="url(#au)"/><ellipse cx="304.1" cy="288" rx="6.5" ry="6.7" fill="url(#au)"/><ellipse cx="319.5" cy="288" rx="6.5" ry="6.7" fill="url(#au)"/><ellipse cx="10.6" cy="302.5" rx="5.6" ry="6.5" fill="url(#au)"/><ellipse cx="3.8" cy="302.5" rx="6.5" ry="6.7" fill="url(#au)"/><ellipse cx="19.2" cy="302.5" rx="6.5" ry="6.7" fill="url(#au)"/><ellipse cx="34.6" cy="302.5" rx="6.5" ry="6.7" fill="url(#au)"/><ellipse cx="50.0" cy="302.5" rx="6.5" ry="6.7" fill="url(#au)"/><ellipse cx="65.4" cy="302.5" rx="6.5" ry="6.7" fill="url(#au)"/><ellipse cx="80.8" cy="302.5" rx="6.5" ry="6.7" fill="url(#au)"/><ellipse cx="96.2" cy="302.5" rx="6.5" ry="6.7" fill="url(#au)"/><ellipse cx="111.6" cy="302.5" rx="6.5" ry="6.7" fill="url(#au)"/><ellipse cx="127.0" cy="302.5" rx="6.5" ry="6.7" fill="url(#au)"/><ellipse cx="142.4" cy="302.5" rx="6.5" ry="6.7" fill="url(#au)"/><ellipse cx="157.8" cy="302.5" rx="6.5" ry="6.7" fill="url(#au)"/><ellipse cx="173.2" cy="302.5" rx="6.5" ry="6.7" fill="url(#au)"/><ellipse cx="188.6" cy="302.5" rx="6.5" ry="6.7" fill="url(#au)"/><ellipse cx="204.0" cy="302.5" rx="6.5" ry="6.7" fill="url(#au)"/><ellipse cx="219.4" cy="302.5" rx="6.5" ry="6.7" fill="url(#au)"/><ellipse cx="234.8" cy="302.5" rx="6.5" ry="6.7" fill="url(#au)"/><ellipse cx="250.2" cy="302.5" rx="6.5" ry="6.7" fill="url(#au)"/><ellipse cx="265.6" cy="302.5" rx="6.5" ry="6.7" fill="url(#au)"/><ellipse cx="281.0" cy="302.5" rx="6.5" ry="6.7" fill="url(#au)"/><ellipse cx="296.4" cy="302.5" rx="6.5" ry="6.7" fill="url(#au)"/><ellipse cx="311.8" cy="302.5" rx="6.5" ry="6.7" fill="url(#au)"/><ellipse cx="327.2" cy="302.5" rx="6.5" ry="6.7" fill="url(#au)"/><ellipse cx="11.5" cy="317" rx="6.5" ry="6.7" fill="url(#au)"/><ellipse cx="26.9" cy="317" rx="6.5" ry="6.7" fill="url(#au)"/><ellipse cx="42.3" cy="317" rx="6.5" ry="6.7" fill="url(#au)"/><ellipse cx="57.7" cy="317" rx="6.5" ry="6.7" fill="url(#au)"/><ellipse cx="73.1" cy="317" rx="6.5" ry="6.7" fill="url(#au)"/><ellipse cx="88.5" cy="317" rx="6.5" ry="6.7" fill="url(#au)"/><ellipse cx="103.9" cy="317" rx="6.5" ry="6.7" fill="url(#au)"/><ellipse cx="119.3" cy="317" rx="6.5" ry="6.7" fill="url(#au)"/><ellipse cx="134.7" cy="317" rx="6.5" ry="6.7" fill="url(#au)"/><ellipse cx="150.1" cy="317" rx="6.5" ry="6.7" fill="url(#au)"/><ellipse cx="165.5" cy="317" rx="6.5" ry="6.7" fill="url(#au)"/><ellipse cx="180.9" cy="317" rx="6.5" ry="6.7" fill="url(#au)"/><ellipse cx="196.3" cy="317" rx="6.5" ry="6.7" fill="url(#au)"/><ellipse cx="211.7" cy="317" rx="6.5" ry="6.7" fill="url(#au)"/><ellipse cx="227.1" cy="317" rx="6.5" ry="6.7" fill="url(#au)"/><ellipse cx="242.5" cy="317" rx="6.5" ry="6.7" fill="url(#au)"/><ellipse cx="257.9" cy="317" rx="6.5" ry="6.7" fill="url(#au)"/><ellipse cx="273.3" cy="317" rx="6.5" ry="6.7" fill="url(#au)"/><ellipse cx="288.7" cy="317" rx="6.5" ry="6.7" fill="url(#au)"/><ellipse cx="304.1" cy="317" rx="6.5" ry="6.7" fill="url(#au)"/><ellipse cx="319.5" cy="317" rx="6.5" ry="6.7" fill="url(#au)"/><ellipse cx="10.6" cy="331.5" rx="5.6" ry="6.5" fill="url(#au)"/><ellipse cx="3.8" cy="331.5" rx="6.5" ry="6.7" fill="url(#au)"/><ellipse cx="19.2" cy="331.5" rx="6.5" ry="6.7" fill="url(#au)"/><ellipse cx="34.6" cy="331.5" rx="6.5" ry="6.7" fill="url(#au)"/><ellipse cx="50.0" cy="331.5" rx="6.5" ry="6.7" fill="url(#au)"/><ellipse cx="65.4" cy="331.5" rx="6.5" ry="6.7" fill="url(#au)"/><ellipse cx="80.8" cy="331.5" rx="6.5" ry="6.7" fill="url(#au)"/><ellipse cx="96.2" cy="331.5" rx="6.5" ry="6.7" fill="url(#au)"/><ellipse cx="111.6" cy="331.5" rx="6.5" ry="6.7" fill="url(#au)"/><ellipse cx="127.0" cy="331.5" rx="6.5" ry="6.7" fill="url(#au)"/><ellipse cx="142.4" cy="331.5" rx="6.5" ry="6.7" fill="url(#au)"/><ellipse cx="157.8" cy="331.5" rx="6.5" ry="6.7" fill="url(#au)"/><ellipse cx="173.2" cy="331.5" rx="6.5" ry="6.7" fill="url(#au)"/><ellipse cx="188.6" cy="331.5" rx="6.5" ry="6.7" fill="url(#au)"/><ellipse cx="204.0" cy="331.5" rx="6.5" ry="6.7" fill="url(#au)"/><ellipse cx="219.4" cy="331.5" rx="6.5" ry="6.7" fill="url(#au)"/><ellipse cx="234.8" cy="331.5" rx="6.5" ry="6.7" fill="url(#au)"/><ellipse cx="250.2" cy="331.5" rx="6.5" ry="6.7" fill="url(#au)"/><ellipse cx="265.6" cy="331.5" rx="6.5" ry="6.7" fill="url(#au)"/><ellipse cx="281.0" cy="331.5" rx="6.5" ry="6.7" fill="url(#au)"/><ellipse cx="296.4" cy="331.5" rx="6.5" ry="6.7" fill="url(#au)"/><ellipse cx="311.8" cy="331.5" rx="6.5" ry="6.7" fill="url(#au)"/><ellipse cx="327.2" cy="331.5" rx="6.5" ry="6.7" fill="url(#au)"/><ellipse cx="11.5" cy="346" rx="6.5" ry="6.7" fill="url(#au)"/><ellipse cx="26.9" cy="346" rx="6.5" ry="6.7" fill="url(#au)"/><ellipse cx="42.3" cy="346" rx="6.5" ry="6.7" fill="url(#au)"/><ellipse cx="57.7" cy="346" rx="6.5" ry="6.7" fill="url(#au)"/><ellipse cx="73.1" cy="346" rx="6.5" ry="6.7" fill="url(#au)"/><ellipse cx="88.5" cy="346" rx="6.5" ry="6.7" fill="url(#au)"/><ellipse cx="103.9" cy="346" rx="6.5" ry="6.7" fill="url(#au)"/><ellipse cx="119.3" cy="346" rx="6.5" ry="6.7" fill="url(#au)"/><ellipse cx="134.7" cy="346" rx="6.5" ry="6.7" fill="url(#au)"/><ellipse cx="150.1" cy="346" rx="6.5" ry="6.7" fill="url(#au)"/><ellipse cx="165.5" cy="346" rx="6.5" ry="6.7" fill="url(#au)"/><ellipse cx="180.9" cy="346" rx="6.5" ry="6.7" fill="url(#au)"/><ellipse cx="196.3" cy="346" rx="6.5" ry="6.7" fill="url(#au)"/><ellipse cx="211.7" cy="346" rx="6.5" ry="6.7" fill="url(#au)"/><ellipse cx="227.1" cy="346" rx="6.5" ry="6.7" fill="url(#au)"/><ellipse cx="242.5" cy="346" rx="6.5" ry="6.7" fill="url(#au)"/><ellipse cx="257.9" cy="346" rx="6.5" ry="6.7" fill="url(#au)"/><ellipse cx="273.3" cy="346" rx="6.5" ry="6.7" fill="url(#au)"/><ellipse cx="288.7" cy="346" rx="6.5" ry="6.7" fill="url(#au)"/><ellipse cx="304.1" cy="346" rx="6.5" ry="6.7" fill="url(#au)"/><ellipse cx="319.5" cy="346" rx="6.5" ry="6.7" fill="url(#au)"/></g><rect x="18" y="294" width="49" height="29" fill="#fff6d8" opacity="0.75" filter="url(#blur2)"/><text x="20.6" y="321" font-family="Liberation Sans, sans-serif" font-size="37.5">Au</text><g stroke="#000" stroke-width="3.8" fill="none"><path d="M216.6,188.4 L216.6,286.5" stroke-dasharray="11 5.2"/><path d="M220.5,188 L256.5,188" stroke-dasharray="12.3 3.2"/><path d="M254.8,186.2 L254.8,286.5" stroke-dasharray="11 5.2" stroke-dashoffset="-3.5"/><path d="M215.3,285 L256.6,285" stroke-dasharray="12.5 4.5"/></g><path d="M255.5,187 L320.6,7.3" stroke="#000" stroke-width="2.7" stroke-dasharray="10.5 7" fill="none"/><path d="M255.5,285.5 L320.6,327.5" stroke="#000" stroke-width="2.7" stroke-dasharray="10.5 7" fill="none"/><g stroke="#000" stroke-width="2.5" fill="none" stroke-dasharray="10.5 7.9"><path d="M328.2,6.8 L409.8,6.8"/><path d="M408.6,5.6 L408.6,328" stroke-dashoffset="5.7"/><path d="M320.7,7.3 L320.7,328"/><path d="M322,328 L409.8,328"/></g><path d="M321.3,327.2 L321.8,320 A30.8,30.8 0 1 1 382.6,320 L382.9,327.2 Z" fill="#fdbb02"/><path d="M321.6,327.2 L321.8,320 A30.8,30.8 0 1 1 382.6,320 L382.9,327.2" fill="none" stroke="#000" stroke-width="2.6" stroke-dasharray="7.5 6" stroke-dashoffset="3"/><g stroke="#000" stroke-width="2.3" stroke-linecap="butt"><line x1="358" y1="26.3" x2="375.3" y2="36.4"/><line x1="375.3" y1="36.4" x2="375.3" y2="66.8"/><line x1="375.3" y1="66.8" x2="401.2" y2="80.9"/><line x1="401.2" y1="80.9" x2="401.2" y2="110.9"/><line x1="401.2" y1="110.9" x2="375.3" y2="125.5"/><line x1="375.3" y1="125.5" x2="356" y2="114.8"/><line x1="348.6" y1="104" x2="348.6" y2="80.9"/><line x1="348.6" y1="80.9" x2="375.3" y2="66.8"/><line x1="356" y1="84.5" x2="375.3" y2="74.3"/><line x1="394" y1="86" x2="394" y2="105.5"/><line x1="362" y1="111.5" x2="374.5" y2="118.5"/><line x1="375.3" y1="125.5" x2="374.8" y2="156.7"/><line x1="374.6" y1="156.7" x2="401.1" y2="171"/><line x1="401.1" y1="171" x2="401.1" y2="201.7"/><line x1="401.1" y1="201.7" x2="374.6" y2="216"/><line x1="374.6" y1="216" x2="348.5" y2="201.7"/><line x1="348.5" y1="201.7" x2="348.5" y2="182.8"/><line x1="359.7" y1="164.8" x2="374.6" y2="156.7"/><line x1="362.9" y1="171.5" x2="374.1" y2="164.8"/><line x1="393.5" y1="176" x2="393.5" y2="196.7"/><line x1="356.6" y1="197.6" x2="374.1" y2="207.5"/><line x1="374.6" y1="216" x2="374.6" y2="246"/><line x1="374.6" y1="246" x2="358.5" y2="255.5"/><line x1="349.5" y1="273.6" x2="349.5" y2="284.7"/></g><text x="326.6" y="28.7" font-family="Liberation Sans, sans-serif" font-weight="bold" font-size="20.5" letter-spacing="0.3">HS</text><text x="341.2" y="118.4" font-family="Liberation Sans, sans-serif" font-weight="bold" font-size="19">N</text><text x="341.5" y="178.3" font-family="Liberation Sans, sans-serif" font-weight="bold" font-size="19.5">N</text><text x="341.4" y="267.7" font-family="Liberation Sans, sans-serif" font-weight="bold" font-size="19.5">S</text><text x="328.9" y="360" font-family="Liberation Sans, sans-serif" font-size="36.5">BPD</text><clipPath id="bclip"><rect x="425" y="5" width="431" height="333.5"/></clipPath><g clip-path="url(#bclip)"><rect x="425" y="5" width="431" height="333.5" fill="#272a17"/><pattern id="dp1" width="57" height="53" patternUnits="userSpaceOnUse"><g fill="#646949"><circle cx="9.4" cy="36.6" r="1.02" opacity="0.71"/><circle cx="12.3" cy="42.0" r="1.10" opacity="0.73"/><circle cx="28.8" cy="12.5" r="0.70" opacity="0.65"/><circle cx="33.4" cy="3.7" r="1.10" opacity="0.58"/><circle cx="13.3" cy="2.2" r="1.20" opacity="0.86"/><circle cx="49.9" cy="32.6" r="0.72" opacity="0.63"/><circle cx="28.4" cy="6.1" r="1.18" opacity="0.65"/><circle cx="8.8" cy="43.3" r="0.76" opacity="0.96"/><circle cx="25.8" cy="29.3" r="0.87" opacity="0.72"/><circle cx="10.7" cy="2.0" r="1.13" opacity="0.58"/><circle cx="44.5" cy="11.1" r="1.18" opacity="0.94"/><circle cx="43.0" cy="40.4" r="0.99" opacity="0.85"/><circle cx="7.0" cy="25.2" r="1.11" opacity="0.56"/><circle cx="52.6" cy="47.0" r="0.90" opacity="0.65"/><circle cx="25.7" cy="20.4" r="1.20" opacity="0.66"/><circle cx="1.5" cy="4.9" r="1.06" opacity="1.00"/><circle cx="28.3" cy="26.1" r="0.98" opacity="0.86"/><circle cx="12.7" cy="32.3" r="0.98" opacity="0.79"/><circle cx="10.3" cy="9.0" r="0.87" opacity="0.96"/><circle cx="19.8" cy="31.7" r="0.85" opacity="0.51"/><circle cx="3.7" cy="43.1" r="1.09" opacity="0.66"/><circle cx="39.0" cy="35.8" r="1.15" opacity="0.98"/><circle cx="23.2" cy="52.4" r="1.18" opacity="0.77"/><circle cx="50.3" cy="26.0" r="0.89" opacity="0.59"/><circle cx="49.9" cy="8.6" r="0.73" opacity="0.89"/><circle cx="44.1" cy="25.6" r="1.12" opacity="0.48"/><circle cx="14.7" cy="15.4" r="0.91" opacity="0.54"/><circle cx="4.0" cy="17.9" r="1.15" opacity="0.99"/><circle cx="42.5" cy="25.4" r="0.83" opacity="0.98"/><circle cx="30.0" cy="38.6" r="0.71" opacity="0.57"/><circle cx="47.8" cy="42.1" r="1.14" opacity="0.78"/><circle cx="24.3" cy="30.8" r="1.12" opacity="0.62"/><circle cx="30.5" cy="14.6" r="1.08" opacity="0.46"/><circle cx="39.1" cy="50.6" r="0.71" opacity="0.78"/><circle cx="36.7" cy="45.1" r="0.99" opacity="0.59"/><circle cx="23.1" cy="50.8" r="1.15" opacity="0.52"/><circle cx="5.4" cy="5.0" r="0.71" opacity="0.70"/><circle cx="8.0" cy="46.0" r="1.03" opacity="0.52"/><circle cx="30.7" cy="17.2" r="0.95" opacity="0.57"/><circle cx="9.5" cy="9.7" r="0.89" opacity="0.84"/><circle cx="31.4" cy="2.4" r="1.06" opacity="0.93"/><circle cx="44.1" cy="41.9" r="0.70" opacity="0.71"/><circle cx="3.6" cy="40.5" r="0.79" opacity="0.84"/><circle cx="14.4" cy="36.9" r="0.86" opacity="0.47"/><circle cx="22.2" cy="16.4" r="1.15" opacity="0.61"/><circle cx="28.7" cy="29.1" r="1.17" opacity="0.50"/><circle cx="34.3" cy="26.9" r="1.07" opacity="0.98"/><circle cx="17.7" cy="37.1" r="0.96" opacity="0.76"/><circle cx="3.6" cy="43.2" r="1.19" opacity="0.65"/><circle cx="18.1" cy="52.6" r="0.75" opacity="0.49"/><circle cx="4.2" cy="43.2" r="1.08" opacity="0.70"/><circle cx="35.4" cy="1.0" r="1.02" opacity="0.69"/><circle cx="29.5" cy="20.6" r="0.90" opacity="0.57"/><circle cx="2.8" cy="23.0" r="0.82" opacity="0.84"/><circle cx="46.6" cy="38.4" r="0.93" opacity="0.58"/><circle cx="22.0" cy="25.8" r="1.02" opacity="0.98"/><circle cx="4.9" cy="25.4" r="0.95" opacity="0.84"/><circle cx="50.8" cy="41.3" r="1.01" opacity="0.87"/><circle cx="38.1" cy="45.5" r="1.05" opacity="0.83"/><circle cx="14.0" cy="48.6" r="0.89" opacity="0.79"/></g></pattern><pattern id="dp2" width="67" height="59" patternUnits="userSpaceOnUse"><g fill="#585d40"><circle cx="64.2" cy="8.3" r="0.61" opacity="1.00"/><circle cx="12.3" cy="7.1" r="0.93" opacity="0.64"/><circle cx="59.6" cy="13.7" r="1.08" opacity="0.63"/><circle cx="40.3" cy="55.0" r="0.94" opacity="0.96"/><circle cx="47.4" cy="2.9" r="1.04" opacity="0.77"/><circle cx="20.8" cy="11.2" r="1.02" opacity="0.77"/><circle cx="62.8" cy="45.7" r="1.08" opacity="0.76"/><circle cx="46.8" cy="36.1" r="0.73" opacity="0.98"/><circle cx="20.9" cy="46.1" r="1.08" opacity="0.81"/><circle cx="9.5" cy="48.7" r="0.93" opacity="0.55"/><circle cx="3.3" cy="31.4" r="0.62" opacity="0.96"/><circle cx="33.9" cy="30.5" r="0.80" opacity="0.81"/><circle cx="61.4" cy="18.1" r="0.79" opacity="0.77"/><circle cx="19.9" cy="35.1" r="0.87" opacity="0.69"/><circle cx="45.1" cy="31.2" r="0.64" opacity="1.00"/><circle cx="23.8" cy="25.5" r="0.80" opacity="0.96"/><circle cx="63.8" cy="30.2" r="0.80" opacity="0.50"/><circle cx="60.0" cy="10.1" r="0.87" opacity="0.64"/><circle cx="22.0" cy="21.1" r="0.70" opacity="0.47"/><circle cx="35.9" cy="47.0" r="0.92" opacity="0.56"/><circle cx="46.5" cy="3.1" r="0.81" opacity="0.91"/><circle cx="61.7" cy="27.2" r="1.02" opacity="0.72"/><circle cx="35.1" cy="34.5" r="1.10" opacity="0.86"/><circle cx="31.7" cy="42.9" r="0.92" opacity="0.64"/><circle cx="52.5" cy="48.4" r="0.90" opacity="0.97"/><circle cx="1.2" cy="29.5" r="0.92" opacity="0.64"/><circle cx="11.5" cy="40.8" r="0.82" opacity="0.60"/><circle cx="2.8" cy="57.1" r="0.78" opacity="0.51"/><circle cx="14.5" cy="15.0" r="1.03" opacity="0.55"/><circle cx="18.5" cy="5.7" r="0.83" opacity="0.56"/><circle cx="23.1" cy="43.4" r="1.06" opacity="0.91"/><circle cx="2.6" cy="22.3" r="1.02" opacity="0.47"/><circle cx="13.6" cy="28.9" r="0.79" opacity="0.86"/><circle cx="48.1" cy="27.4" r="0.72" opacity="0.58"/><circle cx="17.8" cy="3.8" r="0.93" opacity="0.54"/><circle cx="59.6" cy="38.1" r="0.63" opacity="0.72"/><circle cx="40.4" cy="2.5" r="0.84" opacity="0.47"/><circle cx="51.3" cy="0.2" r="0.92" opacity="0.99"/><circle cx="56.7" cy="13.8" r="0.87" opacity="0.53"/><circle cx="22.9" cy="51.0" r="1.01" opacity="0.46"/><circle cx="25.5" cy="37.8" r="0.69" opacity="0.89"/><circle cx="59.8" cy="32.5" r="0.78" opacity="0.92"/><circle cx="34.4" cy="11.1" r="0.74" opacity="0.54"/><circle cx="56.2" cy="30.1" r="0.95" opacity="0.90"/><circle cx="65.2" cy="11.2" r="0.80" opacity="0.93"/><circle cx="51.0" cy="22.8" r="0.93" opacity="0.56"/><circle cx="10.8" cy="3.0" r="0.79" opacity="0.58"/><circle cx="34.7" cy="57.2" r="0.68" opacity="0.76"/><circle cx="57.9" cy="35.3" r="0.86" opacity="0.87"/><circle cx="1.5" cy="56.0" r="0.94" opacity="0.89"/><circle cx="55.3" cy="5.8" r="0.63" opacity="0.55"/><circle cx="33.8" cy="55.4" r="1.05" opacity="0.68"/><circle cx="41.7" cy="43.7" r="0.77" opacity="0.98"/><circle cx="63.1" cy="42.9" r="1.05" opacity="0.89"/><circle cx="43.7" cy="19.0" r="0.74" opacity="0.58"/><circle cx="3.8" cy="54.6" r="0.75" opacity="0.46"/><circle cx="21.2" cy="6.1" r="0.82" opacity="0.63"/><circle cx="11.8" cy="28.1" r="0.81" opacity="0.64"/><circle cx="54.5" cy="18.1" r="0.87" opacity="0.93"/><circle cx="64.3" cy="22.1" r="0.62" opacity="0.97"/><circle cx="34.4" cy="12.8" r="0.66" opacity="0.58"/><circle cx="20.8" cy="8.2" r="0.62" opacity="1.00"/><circle cx="55.0" cy="6.7" r="0.84" opacity="0.89"/><circle cx="33.8" cy="4.1" r="0.77" opacity="0.66"/><circle cx="61.3" cy="34.4" r="0.83" opacity="0.80"/><circle cx="3.3" cy="40.5" r="1.00" opacity="0.82"/><circle cx="24.2" cy="16.9" r="0.61" opacity="0.50"/><circle cx="10.4" cy="26.7" r="0.99" opacity="0.57"/><circle cx="31.6" cy="37.5" r="0.91" opacity="0.46"/><circle cx="61.7" cy="34.5" r="0.75" opacity="0.58"/></g></pattern><pattern id="dp3" width="49" height="61" patternUnits="userSpaceOnUse"><g fill="#4c6a45"><circle cx="45.3" cy="57.9" r="1.05" opacity="0.50"/><circle cx="29.0" cy="25.8" r="0.87" opacity="0.52"/><circle cx="9.4" cy="27.1" r="0.71" opacity="0.70"/><circle cx="1.2" cy="5.2" r="0.96" opacity="0.68"/><circle cx="25.1" cy="44.8" r="0.78" opacity="0.48"/><circle cx="38.4" cy="35.9" r="0.93" opacity="0.79"/><circle cx="47.6" cy="22.1" r="0.98" opacity="0.65"/><circle cx="28.0" cy="40.3" r="0.76" opacity="0.50"/><circle cx="23.2" cy="43.8" r="0.90" opacity="0.70"/><circle cx="31.5" cy="11.1" r="0.69" opacity="0.63"/><circle cx="40.0" cy="11.9" r="0.66" opacity="0.50"/><circle cx="1.9" cy="16.8" r="0.89" opacity="0.90"/><circle cx="16.2" cy="22.5" r="0.74" opacity="0.62"/><circle cx="38.1" cy="33.5" r="0.73" opacity="0.51"/><circle cx="38.4" cy="43.1" r="1.01" opacity="0.58"/><circle cx="26.7" cy="56.0" r="0.90" opacity="0.97"/><circle cx="8.2" cy="59.5" r="0.63" opacity="0.68"/><circle cx="1.1" cy="49.4" r="0.94" opacity="0.99"/><circle cx="39.4" cy="57.9" r="0.87" opacity="0.99"/><circle cx="36.7" cy="21.1" r="1.09" opacity="0.66"/><circle cx="9.5" cy="4.6" r="0.83" opacity="0.56"/><circle cx="45.7" cy="58.0" r="0.71" opacity="0.51"/><circle cx="25.9" cy="10.4" r="0.87" opacity="0.90"/><circle cx="12.4" cy="25.7" r="1.05" opacity="0.69"/><circle cx="16.8" cy="54.4" r="1.01" opacity="0.94"/><circle cx="33.7" cy="25.2" r="0.95" opacity="0.91"/><circle cx="31.3" cy="14.5" r="0.75" opacity="0.68"/><circle cx="37.8" cy="34.0" r="0.87" opacity="0.90"/><circle cx="5.3" cy="38.5" r="0.77" opacity="0.76"/><circle cx="40.9" cy="15.1" r="1.08" opacity="0.49"/><circle cx="27.5" cy="33.1" r="0.72" opacity="0.76"/><circle cx="23.1" cy="27.4" r="0.96" opacity="0.45"/><circle cx="18.5" cy="47.9" r="0.67" opacity="0.93"/><circle cx="10.0" cy="41.5" r="0.69" opacity="0.70"/><circle cx="20.7" cy="5.0" r="0.95" opacity="0.71"/><circle cx="33.8" cy="32.9" r="0.88" opacity="0.74"/><circle cx="14.6" cy="54.8" r="0.64" opacity="0.93"/><circle cx="42.3" cy="30.4" r="0.99" opacity="0.82"/><circle cx="29.6" cy="17.8" r="0.76" opacity="0.64"/><circle cx="14.8" cy="58.5" r="0.77" opacity="0.66"/></g></pattern><g filter="url(#blur06)"><rect x="425" y="5" width="431" height="333.5" fill="url(#dp1)"/><rect x="425" y="5" width="431" height="333.5" fill="url(#dp2)"/></g><g filter="url(#blur3)"><ellipse cx="640" cy="171.5" rx="150" ry="153" fill="#24271a" opacity="0.6"/></g><filter id="mottle" x="0" y="0" width="100%" height="100%" color-interpolation-filters="sRGB"><feTurbulence type="fractalNoise" baseFrequency="0.3" numOctaves="3" seed="31"/><feColorMatrix type="matrix" values="0.11 0 0 0 0.158  0.14 0 0 0 0.252  0.11 0 0 0 0.15  0 0 0 0 1"/></filter><mask id="cmask"><g filter="url(#blur2)"><ellipse cx="640" cy="171.5" rx="146" ry="149" fill="#fff"/></g></mask><g mask="url(#cmask)"><rect x="490" y="18" width="300" height="308" filter="url(#mottle)"/></g><ellipse cx="587" cy="153" rx="3" ry="4" fill="#24351f" filter="url(#blur1)"/><ellipse cx="606" cy="96" rx="2.5" ry="6" fill="#22331f" transform="rotate(50 606 96)" filter="url(#blur1)"/><circle cx="640" cy="179" r="3.1" fill="#ffcc66" opacity="0.35" filter="url(#blur1)"/><circle cx="640" cy="179" r="1.6" fill="#ffcc66"/><circle cx="695" cy="245" r="3.3" fill="#ffdd88" opacity="0.35" filter="url(#blur1)"/><circle cx="695" cy="245" r="1.8" fill="#ffdd88"/><circle cx="853" cy="263" r="3.0" fill="#ff9966" opacity="0.35" filter="url(#blur1)"/><circle cx="853" cy="263" r="1.5" fill="#ff9966"/><circle cx="795" cy="19" r="3.0" fill="#ffcc88" opacity="0.35" filter="url(#blur1)"/><circle cx="795" cy="19" r="1.5" fill="#ffcc88"/><circle cx="821" cy="82" r="2.8" fill="#ffaa88" opacity="0.35" filter="url(#blur1)"/><circle cx="821" cy="82" r="1.3" fill="#ffaa88"/><circle cx="653" cy="150" r="2.2" fill="#b8d8a8" opacity="0.35" filter="url(#blur1)"/><circle cx="653" cy="150" r="0.7" fill="#b8d8a8"/><circle cx="558" cy="10" r="3.1" fill="#ddffaa" opacity="0.35" filter="url(#blur1)"/><circle cx="558" cy="10" r="1.6" fill="#ddffaa"/><circle cx="468" cy="84" r="2.7" fill="#aaffaa" opacity="0.35" filter="url(#blur1)"/><circle cx="468" cy="84" r="1.2" fill="#aaffaa"/></g><text x="441.5" y="53.3" font-family="Liberation Sans, sans-serif" font-weight="bold" font-size="53" fill="#fff">b</text><rect x="771" y="277" width="37.3" height="6.2" fill="#fff"/><text x="741.5" y="325.3" font-family="Liberation Sans, sans-serif" font-size="37" fill="#fff">50 µm</text><clipPath id="cclip"><rect x="982" y="23" width="412" height="309"/></clipPath><g clip-path="url(#cclip)"><path d="M981,172.3 L984,173.7 L987,173.7 L990,176.2 L993,175.8 L996,177.4 L999,178.9 L1002,179.3 L1005,180.2 L1008,182.1 L1011,181.5 L1014,181.3 L1017,182.2 L1020,182.0 L1023,180.3 L1026,178.7 L1029,175.9 L1032,174.6 L1035,171.0 L1038,167.2 L1041,162.1 L1044,156.4 L1047,151.4 L1050,145.2 L1053,139.8 L1056,132.7 L1059,126.5 L1062,120.6 L1065,112.7 L1068,105.5 L1071,99.9 L1074,94.1 L1077,90.9 L1080,88.8 L1083,87.2 L1086,87.4 L1089,88.0 L1092,90.3 L1095,92.7 L1098,97.5 L1101,101.1 L1104,105.7 L1107,111.7 L1110,118.4 L1113,122.5 L1116,130.6 L1119,136.0 L1122,141.2 L1125,146.4 L1128,151.8 L1131,157.3 L1134,163.2 L1137,168.0 L1140,172.5 L1143,177.0 L1146,181.8 L1149,185.7 L1152,190.6 L1155,195.5 L1158,198.1 L1161,204.1 L1164,206.0 L1167,210.9 L1170,214.5 L1173,219.1 L1176,222.7 L1179,227.6 L1182,230.6 L1185,236.6 L1188,240.5 L1191,244.0 L1194,247.0 L1197,249.0 L1200,253.1 L1203,255.9 L1206,259.1 L1209,260.9 L1212,263.9 L1215,265.1 L1218,266.4 L1221,268.5 L1224,272.0 L1227,272.0 L1230,272.8 L1233,274.1 L1236,277.0 L1239,277.9 L1242,278.3 L1245,278.6 L1248,281.5 L1251,280.9 L1254,283.7 L1257,284.1 L1260,285.0 L1263,285.2 L1266,287.6 L1269,288.9 L1272,288.9 L1275,290.7 L1278,290.0 L1281,291.1 L1284,292.0 L1287,292.3 L1290,294.8 L1293,294.4 L1296,294.0 L1299,296.0 L1302,295.5 L1305,296.6 L1308,298.2 L1311,297.7 L1314,298.0 L1317,299.8 L1320,299.0 L1323,300.9 L1326,299.4 L1329,299.9 L1332,302.4 L1335,302.0 L1338,302.3 L1341,303.3 L1344,302.6 L1347,304.3 L1350,303.4 L1353,305.0 L1356,304.5 L1359,305.7 L1362,306.1 L1365,306.0 L1368,304.9 L1371,305.9 L1374,307.1 L1377,306.4 L1380,306.1 L1383,307.0 L1386,305.9 L1389,305.1 L1392,305.9 L1395,304.1 L1395,334 L981,334Z" fill="#0866aa"/><path d="M981,172.3 L984,173.7 L987,173.7 L990,176.2 L993,175.8 L996,177.4 L999,178.9 L1002,179.3 L1005,180.2 L1008,182.1 L1011,181.5 L1014,181.3 L1017,182.2 L1020,182.0 L1023,180.3 L1026,178.7 L1029,175.9 L1032,174.6 L1035,171.0 L1038,167.2 L1041,162.1 L1044,156.4 L1047,151.4 L1050,145.2 L1053,139.8 L1056,132.7 L1059,126.5 L1062,120.6 L1065,112.7 L1068,105.5 L1071,99.9 L1074,94.1 L1077,90.9 L1080,88.8 L1083,87.2 L1086,87.4 L1089,88.0 L1092,90.3 L1095,92.7 L1098,97.5 L1101,101.1 L1104,105.7 L1107,111.7 L1110,118.4 L1113,122.5 L1116,130.6 L1119,136.0 L1122,141.2 L1125,146.4 L1128,151.8 L1131,157.3 L1134,163.2 L1137,168.0 L1140,172.5 L1143,177.0 L1146,181.8 L1149,185.7 L1152,190.6 L1155,195.5 L1158,198.1 L1161,204.1 L1164,206.0 L1167,210.9 L1170,214.5 L1173,219.1 L1176,222.7 L1179,227.6 L1182,230.6 L1185,236.6 L1188,240.5 L1191,244.0 L1194,247.0 L1197,249.0 L1200,253.1 L1203,255.9 L1206,259.1 L1209,260.9 L1212,263.9 L1215,265.1 L1218,266.4 L1221,268.5 L1224,272.0 L1227,272.0 L1230,272.8 L1233,274.1 L1236,277.0 L1239,277.9 L1242,278.3 L1245,278.6 L1248,281.5 L1251,280.9 L1254,283.7 L1257,284.1 L1260,285.0 L1263,285.2 L1266,287.6 L1269,288.9 L1272,288.9 L1275,290.7 L1278,290.0 L1281,291.1 L1284,292.0 L1287,292.3 L1290,294.8 L1293,294.4 L1296,294.0 L1299,296.0 L1302,295.5 L1305,296.6 L1308,298.2 L1311,297.7 L1314,298.0 L1317,299.8 L1320,299.0 L1323,300.9 L1326,299.4 L1329,299.9 L1332,302.4 L1335,302.0 L1338,302.3 L1341,303.3 L1344,302.6 L1347,304.3 L1350,303.4 L1353,305.0 L1356,304.5 L1359,305.7 L1362,306.1 L1365,306.0 L1368,304.9 L1371,305.9 L1374,307.1 L1377,306.4 L1380,306.1 L1383,307.0 L1386,305.9 L1389,305.1 L1392,305.9 L1395,304.1" fill="none" stroke="#085699" stroke-width="0.9" opacity="0.6"/><path d="M981,179.2 L984,180.5 L987,181.5 L990,181.5 L993,183.4 L996,184.8 L999,185.0 L1002,187.0 L1005,187.0 L1008,187.8 L1011,187.8 L1014,189.4 L1017,187.2 L1020,187.2 L1023,186.7 L1026,184.9 L1029,182.3 L1032,180.3 L1035,177.0 L1038,173.5 L1041,169.0 L1044,163.6 L1047,159.4 L1050,152.9 L1053,148.1 L1056,141.3 L1059,136.4 L1062,128.7 L1065,122.9 L1068,116.7 L1071,109.0 L1074,104.8 L1077,100.4 L1080,96.9 L1083,97.5 L1086,97.1 L1089,97.5 L1092,100.9 L1095,103.4 L1098,107.4 L1101,110.0 L1104,115.4 L1107,121.2 L1110,126.3 L1113,131.5 L1116,137.7 L1119,143.5 L1122,149.2 L1125,154.5 L1128,159.7 L1131,164.9 L1134,170.2 L1137,174.1 L1140,179.2 L1143,184.5 L1146,188.9 L1149,193.2 L1152,197.7 L1155,200.8 L1158,205.5 L1161,209.2 L1164,212.0 L1167,216.7 L1170,219.9 L1173,223.9 L1176,227.0 L1179,232.3 L1182,235.5 L1185,239.6 L1188,243.5 L1191,247.5 L1194,251.2 L1197,254.0 L1200,256.5 L1203,258.5 L1206,261.6 L1209,264.2 L1212,265.8 L1215,269.1 L1218,269.7 L1221,271.9 L1224,274.4 L1227,274.2 L1230,275.8 L1233,278.0 L1236,279.2 L1239,279.3 L1242,281.0 L1245,281.9 L1248,282.0 L1251,284.9 L1254,285.9 L1257,287.1 L1260,286.6 L1263,288.2 L1266,289.7 L1269,290.6 L1272,291.5 L1275,290.6 L1278,292.7 L1281,292.7 L1284,293.0 L1287,294.5 L1290,294.3 L1293,295.5 L1296,296.4 L1299,296.9 L1302,297.3 L1305,298.3 L1308,298.9 L1311,298.6 L1314,299.3 L1317,300.0 L1320,299.8 L1323,301.2 L1326,302.5 L1329,301.5 L1332,303.3 L1335,302.6 L1338,303.2 L1341,304.4 L1344,304.1 L1347,304.6 L1350,305.8 L1353,304.4 L1356,305.4 L1359,305.4 L1362,306.1 L1365,306.5 L1368,307.1 L1371,306.5 L1374,308.1 L1377,308.4 L1380,308.3 L1383,308.2 L1386,308.3 L1389,306.1 L1392,307.0 L1395,306.2 L1395,334 L981,334Z" fill="#0c6cae"/><path d="M981,179.2 L984,180.5 L987,181.5 L990,181.5 L993,183.4 L996,184.8 L999,185.0 L1002,187.0 L1005,187.0 L1008,187.8 L1011,187.8 L1014,189.4 L1017,187.2 L1020,187.2 L1023,186.7 L1026,184.9 L1029,182.3 L1032,180.3 L1035,177.0 L1038,173.5 L1041,169.0 L1044,163.6 L1047,159.4 L1050,152.9 L1053,148.1 L1056,141.3 L1059,136.4 L1062,128.7 L1065,122.9 L1068,116.7 L1071,109.0 L1074,104.8 L1077,100.4 L1080,96.9 L1083,97.5 L1086,97.1 L1089,97.5 L1092,100.9 L1095,103.4 L1098,107.4 L1101,110.0 L1104,115.4 L1107,121.2 L1110,126.3 L1113,131.5 L1116,137.7 L1119,143.5 L1122,149.2 L1125,154.5 L1128,159.7 L1131,164.9 L1134,170.2 L1137,174.1 L1140,179.2 L1143,184.5 L1146,188.9 L1149,193.2 L1152,197.7 L1155,200.8 L1158,205.5 L1161,209.2 L1164,212.0 L1167,216.7 L1170,219.9 L1173,223.9 L1176,227.0 L1179,232.3 L1182,235.5 L1185,239.6 L1188,243.5 L1191,247.5 L1194,251.2 L1197,254.0 L1200,256.5 L1203,258.5 L1206,261.6 L1209,264.2 L1212,265.8 L1215,269.1 L1218,269.7 L1221,271.9 L1224,274.4 L1227,274.2 L1230,275.8 L1233,278.0 L1236,279.2 L1239,279.3 L1242,281.0 L1245,281.9 L1248,282.0 L1251,284.9 L1254,285.9 L1257,287.1 L1260,286.6 L1263,288.2 L1266,289.7 L1269,290.6 L1272,291.5 L1275,290.6 L1278,292.7 L1281,292.7 L1284,293.0 L1287,294.5 L1290,294.3 L1293,295.5 L1296,296.4 L1299,296.9 L1302,297.3 L1305,298.3 L1308,298.9 L1311,298.6 L1314,299.3 L1317,300.0 L1320,299.8 L1323,301.2 L1326,302.5 L1329,301.5 L1332,303.3 L1335,302.6 L1338,303.2 L1341,304.4 L1344,304.1 L1347,304.6 L1350,305.8 L1353,304.4 L1356,305.4 L1359,305.4 L1362,306.1 L1365,306.5 L1368,307.1 L1371,306.5 L1374,308.1 L1377,308.4 L1380,308.3 L1383,308.2 L1386,308.3 L1389,306.1 L1392,307.0 L1395,306.2" fill="none" stroke="#085da0" stroke-width="0.9" opacity="0.6"/><path d="M981,185.4 L984,187.0 L987,188.2 L990,188.6 L993,189.8 L996,191.3 L999,192.5 L1002,192.5 L1005,194.0 L1008,195.0 L1011,194.9 L1014,194.1 L1017,195.4 L1020,193.5 L1023,193.0 L1026,190.3 L1029,189.6 L1032,186.9 L1035,184.5 L1038,179.5 L1041,175.0 L1044,171.0 L1047,166.1 L1050,161.2 L1053,154.9 L1056,150.3 L1059,144.6 L1062,136.9 L1065,132.5 L1068,124.0 L1071,118.4 L1074,113.0 L1077,110.7 L1080,108.9 L1083,106.8 L1086,107.5 L1089,109.3 L1092,110.7 L1095,112.3 L1098,116.1 L1101,121.1 L1104,125.8 L1107,130.1 L1110,135.6 L1113,139.9 L1116,146.1 L1119,152.3 L1122,156.1 L1125,161.6 L1128,167.3 L1131,171.1 L1134,176.2 L1137,181.9 L1140,185.2 L1143,190.2 L1146,195.4 L1149,198.7 L1152,203.0 L1155,205.6 L1158,210.3 L1161,213.9 L1164,217.5 L1167,221.1 L1170,223.9 L1173,228.7 L1176,231.9 L1179,236.5 L1182,239.5 L1185,244.5 L1188,247.1 L1191,251.2 L1194,253.7 L1197,256.1 L1200,259.3 L1203,261.6 L1206,264.6 L1209,266.5 L1212,268.5 L1215,271.9 L1218,273.7 L1221,274.4 L1224,276.0 L1227,277.8 L1230,278.6 L1233,279.2 L1236,280.5 L1239,282.2 L1242,281.8 L1245,283.6 L1248,284.1 L1251,286.1 L1254,286.1 L1257,287.9 L1260,288.3 L1263,289.6 L1266,291.7 L1269,291.0 L1272,292.1 L1275,293.8 L1278,293.3 L1281,294.1 L1284,295.2 L1287,296.2 L1290,296.1 L1293,296.8 L1296,297.1 L1299,298.1 L1302,298.9 L1305,299.8 L1308,299.8 L1311,300.7 L1314,301.7 L1317,301.1 L1320,302.5 L1323,302.9 L1326,303.7 L1329,303.7 L1332,303.9 L1335,304.4 L1338,304.2 L1341,305.7 L1344,304.7 L1347,305.4 L1350,305.2 L1353,306.3 L1356,307.4 L1359,307.2 L1362,306.2 L1365,308.2 L1368,306.8 L1371,307.3 L1374,308.1 L1377,307.4 L1380,309.3 L1383,309.3 L1386,309.6 L1389,308.3 L1392,307.6 L1395,306.8 L1395,334 L981,334Z" fill="#1272b1"/><path d="M981,185.4 L984,187.0 L987,188.2 L990,188.6 L993,189.8 L996,191.3 L999,192.5 L1002,192.5 L1005,194.0 L1008,195.0 L1011,194.9 L1014,194.1 L1017,195.4 L1020,193.5 L1023,193.0 L1026,190.3 L1029,189.6 L1032,186.9 L1035,184.5 L1038,179.5 L1041,175.0 L1044,171.0 L1047,166.1 L1050,161.2 L1053,154.9 L1056,150.3 L1059,144.6 L1062,136.9 L1065,132.5 L1068,124.0 L1071,118.4 L1074,113.0 L1077,110.7 L1080,108.9 L1083,106.8 L1086,107.5 L1089,109.3 L1092,110.7 L1095,112.3 L1098,116.1 L1101,121.1 L1104,125.8 L1107,130.1 L1110,135.6 L1113,139.9 L1116,146.1 L1119,152.3 L1122,156.1 L1125,161.6 L1128,167.3 L1131,171.1 L1134,176.2 L1137,181.9 L1140,185.2 L1143,190.2 L1146,195.4 L1149,198.7 L1152,203.0 L1155,205.6 L1158,210.3 L1161,213.9 L1164,217.5 L1167,221.1 L1170,223.9 L1173,228.7 L1176,231.9 L1179,236.5 L1182,239.5 L1185,244.5 L1188,247.1 L1191,251.2 L1194,253.7 L1197,256.1 L1200,259.3 L1203,261.6 L1206,264.6 L1209,266.5 L1212,268.5 L1215,271.9 L1218,273.7 L1221,274.4 L1224,276.0 L1227,277.8 L1230,278.6 L1233,279.2 L1236,280.5 L1239,282.2 L1242,281.8 L1245,283.6 L1248,284.1 L1251,286.1 L1254,286.1 L1257,287.9 L1260,288.3 L1263,289.6 L1266,291.7 L1269,291.0 L1272,292.1 L1275,293.8 L1278,293.3 L1281,294.1 L1284,295.2 L1287,296.2 L1290,296.1 L1293,296.8 L1296,297.1 L1299,298.1 L1302,298.9 L1305,299.8 L1308,299.8 L1311,300.7 L1314,301.7 L1317,301.1 L1320,302.5 L1323,302.9 L1326,303.7 L1329,303.7 L1332,303.9 L1335,304.4 L1338,304.2 L1341,305.7 L1344,304.7 L1347,305.4 L1350,305.2 L1353,306.3 L1356,307.4 L1359,307.2 L1362,306.2 L1365,308.2 L1368,306.8 L1371,307.3 L1374,308.1 L1377,307.4 L1380,309.3 L1383,309.3 L1386,309.6 L1389,308.3 L1392,307.6 L1395,306.8" fill="none" stroke="#0863a6" stroke-width="0.9" opacity="0.6"/><path d="M981,193.7 L984,193.6 L987,193.5 L990,196.1 L993,195.8 L996,196.5 L999,198.8 L1002,199.4 L1005,200.6 L1008,199.9 L1011,201.6 L1014,201.4 L1017,200.7 L1020,198.9 L1023,199.4 L1026,197.1 L1029,194.7 L1032,192.8 L1035,191.0 L1038,186.3 L1041,182.7 L1044,179.1 L1047,173.8 L1050,167.9 L1053,162.6 L1056,157.7 L1059,152.1 L1062,146.7 L1065,140.4 L1068,133.2 L1071,128.9 L1074,123.9 L1077,119.8 L1080,117.0 L1083,117.0 L1086,117.9 L1089,117.7 L1092,119.5 L1095,122.7 L1098,126.1 L1101,130.2 L1104,133.9 L1107,139.4 L1110,143.5 L1113,148.3 L1116,154.8 L1119,159.1 L1122,165.4 L1125,169.3 L1128,174.1 L1131,179.7 L1134,182.7 L1137,188.9 L1140,191.9 L1143,195.5 L1146,200.2 L1149,203.8 L1152,207.8 L1155,212.0 L1158,215.7 L1161,218.5 L1164,223.5 L1167,225.3 L1170,228.7 L1173,232.5 L1176,235.6 L1179,241.0 L1182,243.3 L1185,246.6 L1188,251.2 L1191,253.8 L1194,256.3 L1197,259.8 L1200,261.9 L1203,264.3 L1206,267.4 L1209,269.1 L1212,271.3 L1215,273.5 L1218,276.2 L1221,277.1 L1224,278.4 L1227,279.1 L1230,280.5 L1233,281.2 L1236,283.4 L1239,284.6 L1242,285.4 L1245,285.7 L1248,287.3 L1251,287.5 L1254,289.5 L1257,290.8 L1260,290.2 L1263,290.9 L1266,293.4 L1269,293.4 L1272,294.6 L1275,295.4 L1278,296.1 L1281,295.4 L1284,296.4 L1287,297.2 L1290,298.9 L1293,299.2 L1296,298.8 L1299,299.2 L1302,301.0 L1305,301.7 L1308,300.5 L1311,301.6 L1314,301.6 L1317,302.7 L1320,302.3 L1323,303.4 L1326,303.4 L1329,303.5 L1332,305.7 L1335,304.5 L1338,306.4 L1341,306.4 L1344,306.1 L1347,306.5 L1350,306.8 L1353,306.9 L1356,307.8 L1359,307.2 L1362,308.3 L1365,308.4 L1368,308.0 L1371,309.8 L1374,308.7 L1377,309.6 L1380,310.0 L1383,310.3 L1386,309.8 L1389,308.9 L1392,308.6 L1395,308.8 L1395,334 L981,334Z" fill="#1777b4"/><path d="M981,193.7 L984,193.6 L987,193.5 L990,196.1 L993,195.8 L996,196.5 L999,198.8 L1002,199.4 L1005,200.6 L1008,199.9 L1011,201.6 L1014,201.4 L1017,200.7 L1020,198.9 L1023,199.4 L1026,197.1 L1029,194.7 L1032,192.8 L1035,191.0 L1038,186.3 L1041,182.7 L1044,179.1 L1047,173.8 L1050,167.9 L1053,162.6 L1056,157.7 L1059,152.1 L1062,146.7 L1065,140.4 L1068,133.2 L1071,128.9 L1074,123.9 L1077,119.8 L1080,117.0 L1083,117.0 L1086,117.9 L1089,117.7 L1092,119.5 L1095,122.7 L1098,126.1 L1101,130.2 L1104,133.9 L1107,139.4 L1110,143.5 L1113,148.3 L1116,154.8 L1119,159.1 L1122,165.4 L1125,169.3 L1128,174.1 L1131,179.7 L1134,182.7 L1137,188.9 L1140,191.9 L1143,195.5 L1146,200.2 L1149,203.8 L1152,207.8 L1155,212.0 L1158,215.7 L1161,218.5 L1164,223.5 L1167,225.3 L1170,228.7 L1173,232.5 L1176,235.6 L1179,241.0 L1182,243.3 L1185,246.6 L1188,251.2 L1191,253.8 L1194,256.3 L1197,259.8 L1200,261.9 L1203,264.3 L1206,267.4 L1209,269.1 L1212,271.3 L1215,273.5 L1218,276.2 L1221,277.1 L1224,278.4 L1227,279.1 L1230,280.5 L1233,281.2 L1236,283.4 L1239,284.6 L1242,285.4 L1245,285.7 L1248,287.3 L1251,287.5 L1254,289.5 L1257,290.8 L1260,290.2 L1263,290.9 L1266,293.4 L1269,293.4 L1272,294.6 L1275,295.4 L1278,296.1 L1281,295.4 L1284,296.4 L1287,297.2 L1290,298.9 L1293,299.2 L1296,298.8 L1299,299.2 L1302,301.0 L1305,301.7 L1308,300.5 L1311,301.6 L1314,301.6 L1317,302.7 L1320,302.3 L1323,303.4 L1326,303.4 L1329,303.5 L1332,305.7 L1335,304.5 L1338,306.4 L1341,306.4 L1344,306.1 L1347,306.5 L1350,306.8 L1353,306.9 L1356,307.8 L1359,307.2 L1362,308.3 L1365,308.4 L1368,308.0 L1371,309.8 L1374,308.7 L1377,309.6 L1380,310.0 L1383,310.3 L1386,309.8 L1389,308.9 L1392,308.6 L1395,308.8" fill="none" stroke="#0969ac" stroke-width="0.9" opacity="0.6"/><path d="M981,199.7 L984,199.5 L987,199.6 L990,201.9 L993,203.3 L996,203.9 L999,204.7 L1002,206.0 L1005,206.3 L1008,205.7 L1011,206.6 L1014,206.5 L1017,206.5 L1020,205.2 L1023,205.1 L1026,203.8 L1029,201.1 L1032,199.5 L1035,196.1 L1038,193.4 L1041,189.3 L1044,186.0 L1047,180.4 L1050,174.6 L1053,169.6 L1056,165.7 L1059,159.2 L1062,154.9 L1065,148.6 L1068,142.3 L1071,137.0 L1074,133.2 L1077,129.3 L1080,127.1 L1083,126.6 L1086,127.0 L1089,127.6 L1092,129.7 L1095,131.6 L1098,134.5 L1101,137.9 L1104,142.8 L1107,147.0 L1110,151.8 L1113,156.7 L1116,162.1 L1119,168.1 L1122,172.2 L1125,176.5 L1128,181.4 L1131,185.8 L1134,189.4 L1137,195.0 L1140,198.5 L1143,203.4 L1146,206.7 L1149,209.8 L1152,214.8 L1155,216.7 L1158,220.2 L1161,223.5 L1164,226.8 L1167,230.1 L1170,234.8 L1173,236.8 L1176,240.9 L1179,243.8 L1182,247.6 L1185,250.6 L1188,254.3 L1191,257.2 L1194,260.8 L1197,264.0 L1200,265.1 L1203,268.0 L1206,270.5 L1209,273.3 L1212,273.5 L1215,276.4 L1218,277.6 L1221,279.3 L1224,281.0 L1227,282.2 L1230,282.6 L1233,284.4 L1236,285.0 L1239,285.3 L1242,286.3 L1245,287.3 L1248,289.4 L1251,290.5 L1254,290.2 L1257,291.9 L1260,291.8 L1263,292.6 L1266,294.5 L1269,295.0 L1272,295.5 L1275,296.2 L1278,296.9 L1281,297.5 L1284,297.9 L1287,299.8 L1290,298.8 L1293,300.3 L1296,300.1 L1299,301.0 L1302,300.9 L1305,301.6 L1308,302.9 L1311,302.3 L1314,303.5 L1317,304.2 L1320,304.6 L1323,304.1 L1326,305.0 L1329,305.2 L1332,306.5 L1335,307.0 L1338,306.8 L1341,307.6 L1344,307.2 L1347,308.6 L1350,308.5 L1353,309.1 L1356,308.0 L1359,309.2 L1362,309.4 L1365,309.7 L1368,310.3 L1371,309.3 L1374,309.3 L1377,310.4 L1380,310.0 L1383,311.6 L1386,311.3 L1389,309.9 L1392,310.3 L1395,309.6 L1395,334 L981,334Z" fill="#1c7db7"/><path d="M981,199.7 L984,199.5 L987,199.6 L990,201.9 L993,203.3 L996,203.9 L999,204.7 L1002,206.0 L1005,206.3 L1008,205.7 L1011,206.6 L1014,206.5 L1017,206.5 L1020,205.2 L1023,205.1 L1026,203.8 L1029,201.1 L1032,199.5 L1035,196.1 L1038,193.4 L1041,189.3 L1044,186.0 L1047,180.4 L1050,174.6 L1053,169.6 L1056,165.7 L1059,159.2 L1062,154.9 L1065,148.6 L1068,142.3 L1071,137.0 L1074,133.2 L1077,129.3 L1080,127.1 L1083,126.6 L1086,127.0 L1089,127.6 L1092,129.7 L1095,131.6 L1098,134.5 L1101,137.9 L1104,142.8 L1107,147.0 L1110,151.8 L1113,156.7 L1116,162.1 L1119,168.1 L1122,172.2 L1125,176.5 L1128,181.4 L1131,185.8 L1134,189.4 L1137,195.0 L1140,198.5 L1143,203.4 L1146,206.7 L1149,209.8 L1152,214.8 L1155,216.7 L1158,220.2 L1161,223.5 L1164,226.8 L1167,230.1 L1170,234.8 L1173,236.8 L1176,240.9 L1179,243.8 L1182,247.6 L1185,250.6 L1188,254.3 L1191,257.2 L1194,260.8 L1197,264.0 L1200,265.1 L1203,268.0 L1206,270.5 L1209,273.3 L1212,273.5 L1215,276.4 L1218,277.6 L1221,279.3 L1224,281.0 L1227,282.2 L1230,282.6 L1233,284.4 L1236,285.0 L1239,285.3 L1242,286.3 L1245,287.3 L1248,289.4 L1251,290.5 L1254,290.2 L1257,291.9 L1260,291.8 L1263,292.6 L1266,294.5 L1269,295.0 L1272,295.5 L1275,296.2 L1278,296.9 L1281,297.5 L1284,297.9 L1287,299.8 L1290,298.8 L1293,300.3 L1296,300.1 L1299,301.0 L1302,300.9 L1305,301.6 L1308,302.9 L1311,302.3 L1314,303.5 L1317,304.2 L1320,304.6 L1323,304.1 L1326,305.0 L1329,305.2 L1332,306.5 L1335,307.0 L1338,306.8 L1341,307.6 L1344,307.2 L1347,308.6 L1350,308.5 L1353,309.1 L1356,308.0 L1359,309.2 L1362,309.4 L1365,309.7 L1368,310.3 L1371,309.3 L1374,309.3 L1377,310.4 L1380,310.0 L1383,311.6 L1386,311.3 L1389,309.9 L1392,310.3 L1395,309.6" fill="none" stroke="#0e6faf" stroke-width="0.9" opacity="0.6"/><path d="M981,205.2 L984,205.8 L987,206.6 L990,208.4 L993,208.2 L996,209.6 L999,210.6 L1002,211.6 L1005,212.5 L1008,211.8 L1011,213.2 L1014,211.7 L1017,212.1 L1020,212.1 L1023,211.4 L1026,209.0 L1029,207.8 L1032,205.7 L1035,201.8 L1038,199.9 L1041,196.4 L1044,191.1 L1047,187.0 L1050,182.4 L1053,178.5 L1056,173.7 L1059,167.2 L1062,162.3 L1065,156.3 L1068,150.4 L1071,145.5 L1074,142.4 L1077,139.2 L1080,136.1 L1083,136.3 L1086,136.4 L1089,137.0 L1092,139.3 L1095,140.2 L1098,143.5 L1101,146.7 L1104,152.3 L1107,156.6 L1110,160.6 L1113,164.6 L1116,170.8 L1119,175.3 L1122,180.1 L1125,184.8 L1128,188.7 L1131,192.6 L1134,197.3 L1137,200.1 L1140,205.2 L1143,208.1 L1146,212.1 L1149,216.5 L1152,218.5 L1155,222.4 L1158,226.6 L1161,229.0 L1164,233.0 L1167,235.8 L1170,238.1 L1173,241.8 L1176,244.8 L1179,248.7 L1182,252.2 L1185,255.0 L1188,257.3 L1191,261.7 L1194,263.1 L1197,266.5 L1200,269.3 L1203,270.9 L1206,272.3 L1209,275.2 L1212,276.2 L1215,278.1 L1218,279.7 L1221,281.0 L1224,283.0 L1227,284.5 L1230,284.9 L1233,286.8 L1236,286.2 L1239,287.6 L1242,288.5 L1245,289.8 L1248,291.0 L1251,291.3 L1254,292.5 L1257,293.3 L1260,294.0 L1263,294.3 L1266,296.2 L1269,295.7 L1272,297.1 L1275,297.4 L1278,298.4 L1281,299.5 L1284,300.3 L1287,301.0 L1290,301.2 L1293,301.1 L1296,301.2 L1299,301.9 L1302,303.7 L1305,303.3 L1308,303.8 L1311,304.2 L1314,304.5 L1317,304.7 L1320,305.2 L1323,305.9 L1326,306.2 L1329,305.9 L1332,306.3 L1335,306.5 L1338,307.7 L1341,308.4 L1344,309.1 L1347,308.6 L1350,309.2 L1353,309.8 L1356,309.6 L1359,309.9 L1362,309.4 L1365,310.6 L1368,310.9 L1371,310.4 L1374,311.2 L1377,310.6 L1380,310.7 L1383,311.3 L1386,311.5 L1389,310.7 L1392,310.3 L1395,311.2 L1395,334 L981,334Z" fill="#2283b9"/><path d="M981,205.2 L984,205.8 L987,206.6 L990,208.4 L993,208.2 L996,209.6 L999,210.6 L1002,211.6 L1005,212.5 L1008,211.8 L1011,213.2 L1014,211.7 L1017,212.1 L1020,212.1 L1023,211.4 L1026,209.0 L1029,207.8 L1032,205.7 L1035,201.8 L1038,199.9 L1041,196.4 L1044,191.1 L1047,187.0 L1050,182.4 L1053,178.5 L1056,173.7 L1059,167.2 L1062,162.3 L1065,156.3 L1068,150.4 L1071,145.5 L1074,142.4 L1077,139.2 L1080,136.1 L1083,136.3 L1086,136.4 L1089,137.0 L1092,139.3 L1095,140.2 L1098,143.5 L1101,146.7 L1104,152.3 L1107,156.6 L1110,160.6 L1113,164.6 L1116,170.8 L1119,175.3 L1122,180.1 L1125,184.8 L1128,188.7 L1131,192.6 L1134,197.3 L1137,200.1 L1140,205.2 L1143,208.1 L1146,212.1 L1149,216.5 L1152,218.5 L1155,222.4 L1158,226.6 L1161,229.0 L1164,233.0 L1167,235.8 L1170,238.1 L1173,241.8 L1176,244.8 L1179,248.7 L1182,252.2 L1185,255.0 L1188,257.3 L1191,261.7 L1194,263.1 L1197,266.5 L1200,269.3 L1203,270.9 L1206,272.3 L1209,275.2 L1212,276.2 L1215,278.1 L1218,279.7 L1221,281.0 L1224,283.0 L1227,284.5 L1230,284.9 L1233,286.8 L1236,286.2 L1239,287.6 L1242,288.5 L1245,289.8 L1248,291.0 L1251,291.3 L1254,292.5 L1257,293.3 L1260,294.0 L1263,294.3 L1266,296.2 L1269,295.7 L1272,297.1 L1275,297.4 L1278,298.4 L1281,299.5 L1284,300.3 L1287,301.0 L1290,301.2 L1293,301.1 L1296,301.2 L1299,301.9 L1302,303.7 L1305,303.3 L1308,303.8 L1311,304.2 L1314,304.5 L1317,304.7 L1320,305.2 L1323,305.9 L1326,306.2 L1329,305.9 L1332,306.3 L1335,306.5 L1338,307.7 L1341,308.4 L1344,309.1 L1347,308.6 L1350,309.2 L1353,309.8 L1356,309.6 L1359,309.9 L1362,309.4 L1365,310.6 L1368,310.9 L1371,310.4 L1374,311.2 L1377,310.6 L1380,310.7 L1383,311.3 L1386,311.5 L1389,310.7 L1392,310.3 L1395,311.2" fill="none" stroke="#1474b2" stroke-width="0.9" opacity="0.6"/><path d="M981,211.6 L984,213.1 L987,212.3 L990,213.3 L993,214.1 L996,216.2 L999,216.3 L1002,216.5 L1005,216.8 L1008,218.2 L1011,217.4 L1014,218.8 L1017,217.3 L1020,217.8 L1023,217.0 L1026,214.7 L1029,213.5 L1032,211.5 L1035,208.5 L1038,205.4 L1041,202.8 L1044,197.8 L1047,194.1 L1050,188.6 L1053,184.9 L1056,181.0 L1059,175.2 L1062,170.7 L1065,164.7 L1068,159.4 L1071,154.5 L1074,151.2 L1077,147.2 L1080,144.9 L1083,145.3 L1086,145.5 L1089,146.4 L1092,147.6 L1095,149.5 L1098,153.1 L1101,155.7 L1104,159.6 L1107,163.7 L1110,167.9 L1113,172.7 L1116,178.0 L1119,182.0 L1122,186.5 L1125,190.5 L1128,194.7 L1131,199.5 L1134,203.9 L1137,206.3 L1140,211.0 L1143,215.1 L1146,218.0 L1149,222.0 L1152,224.1 L1155,228.4 L1158,230.3 L1161,233.5 L1164,236.3 L1167,239.1 L1170,243.4 L1173,245.8 L1176,248.9 L1179,252.8 L1182,255.1 L1185,259.2 L1188,261.0 L1191,265.2 L1194,267.5 L1197,269.3 L1200,272.4 L1203,274.4 L1206,276.6 L1209,277.3 L1212,279.3 L1215,280.8 L1218,282.5 L1221,284.0 L1224,285.8 L1227,285.9 L1230,287.3 L1233,287.7 L1236,288.9 L1239,289.1 L1242,290.8 L1245,291.9 L1248,292.7 L1251,294.1 L1254,294.4 L1257,294.8 L1260,296.7 L1263,296.5 L1266,296.9 L1269,298.1 L1272,299.1 L1275,299.0 L1278,299.6 L1281,299.9 L1284,301.3 L1287,301.5 L1290,302.8 L1293,302.3 L1296,303.5 L1299,303.2 L1302,303.8 L1305,304.1 L1308,305.4 L1311,306.0 L1314,305.9 L1317,306.9 L1320,307.2 L1323,307.7 L1326,307.7 L1329,307.7 L1332,307.9 L1335,308.9 L1338,308.4 L1341,308.7 L1344,310.3 L1347,310.5 L1350,310.3 L1353,310.9 L1356,309.7 L1359,311.2 L1362,311.1 L1365,310.8 L1368,311.0 L1371,311.9 L1374,312.5 L1377,312.5 L1380,311.5 L1383,312.6 L1386,312.0 L1389,311.3 L1392,310.9 L1395,311.4 L1395,334 L981,334Z" fill="#2788bc"/><path d="M981,211.6 L984,213.1 L987,212.3 L990,213.3 L993,214.1 L996,216.2 L999,216.3 L1002,216.5 L1005,216.8 L1008,218.2 L1011,217.4 L1014,218.8 L1017,217.3 L1020,217.8 L1023,217.0 L1026,214.7 L1029,213.5 L1032,211.5 L1035,208.5 L1038,205.4 L1041,202.8 L1044,197.8 L1047,194.1 L1050,188.6 L1053,184.9 L1056,181.0 L1059,175.2 L1062,170.7 L1065,164.7 L1068,159.4 L1071,154.5 L1074,151.2 L1077,147.2 L1080,144.9 L1083,145.3 L1086,145.5 L1089,146.4 L1092,147.6 L1095,149.5 L1098,153.1 L1101,155.7 L1104,159.6 L1107,163.7 L1110,167.9 L1113,172.7 L1116,178.0 L1119,182.0 L1122,186.5 L1125,190.5 L1128,194.7 L1131,199.5 L1134,203.9 L1137,206.3 L1140,211.0 L1143,215.1 L1146,218.0 L1149,222.0 L1152,224.1 L1155,228.4 L1158,230.3 L1161,233.5 L1164,236.3 L1167,239.1 L1170,243.4 L1173,245.8 L1176,248.9 L1179,252.8 L1182,255.1 L1185,259.2 L1188,261.0 L1191,265.2 L1194,267.5 L1197,269.3 L1200,272.4 L1203,274.4 L1206,276.6 L1209,277.3 L1212,279.3 L1215,280.8 L1218,282.5 L1221,284.0 L1224,285.8 L1227,285.9 L1230,287.3 L1233,287.7 L1236,288.9 L1239,289.1 L1242,290.8 L1245,291.9 L1248,292.7 L1251,294.1 L1254,294.4 L1257,294.8 L1260,296.7 L1263,296.5 L1266,296.9 L1269,298.1 L1272,299.1 L1275,299.0 L1278,299.6 L1281,299.9 L1284,301.3 L1287,301.5 L1290,302.8 L1293,302.3 L1296,303.5 L1299,303.2 L1302,303.8 L1305,304.1 L1308,305.4 L1311,306.0 L1314,305.9 L1317,306.9 L1320,307.2 L1323,307.7 L1326,307.7 L1329,307.7 L1332,307.9 L1335,308.9 L1338,308.4 L1341,308.7 L1344,310.3 L1347,310.5 L1350,310.3 L1353,310.9 L1356,309.7 L1359,311.2 L1362,311.1 L1365,310.8 L1368,311.0 L1371,311.9 L1374,312.5 L1377,312.5 L1380,311.5 L1383,312.6 L1386,312.0 L1389,311.3 L1392,310.9 L1395,311.4" fill="none" stroke="#197ab5" stroke-width="0.9" opacity="0.6"/><path d="M981,217.3 L984,218.6 L987,219.3 L990,219.5 L993,220.0 L996,220.6 L999,221.1 L1002,222.9 L1005,223.6 L1008,223.3 L1011,223.7 L1014,224.2 L1017,223.8 L1020,223.2 L1023,222.7 L1026,220.3 L1029,219.8 L1032,217.2 L1035,214.2 L1038,211.9 L1041,208.0 L1044,204.5 L1047,201.1 L1050,196.7 L1053,191.9 L1056,187.9 L1059,183.4 L1062,177.8 L1065,172.2 L1068,168.5 L1071,162.4 L1074,159.1 L1077,155.6 L1080,154.7 L1083,154.6 L1086,153.5 L1089,155.1 L1092,156.4 L1095,158.9 L1098,162.0 L1101,164.8 L1104,167.6 L1107,172.1 L1110,176.5 L1113,180.2 L1116,185.7 L1119,189.2 L1122,193.4 L1125,197.2 L1128,201.7 L1131,206.1 L1134,208.7 L1137,213.0 L1140,216.1 L1143,219.2 L1146,223.2 L1149,226.9 L1152,230.1 L1155,233.8 L1158,236.2 L1161,239.5 L1164,242.0 L1167,244.7 L1170,247.9 L1173,250.8 L1176,253.6 L1179,255.9 L1182,258.9 L1185,262.8 L1188,264.1 L1191,267.4 L1194,270.6 L1197,272.0 L1200,274.5 L1203,276.4 L1206,278.7 L1209,280.8 L1212,281.2 L1215,283.3 L1218,285.5 L1221,286.0 L1224,288.1 L1227,288.0 L1230,289.3 L1233,289.6 L1236,291.6 L1239,291.8 L1242,293.2 L1245,293.8 L1248,294.0 L1251,295.8 L1254,295.4 L1257,297.6 L1260,298.1 L1263,297.9 L1266,299.1 L1269,299.4 L1272,300.2 L1275,301.6 L1278,301.4 L1281,302.2 L1284,301.8 L1287,302.4 L1290,303.6 L1293,304.0 L1296,305.4 L1299,305.2 L1302,306.2 L1305,306.1 L1308,307.1 L1311,306.5 L1314,306.4 L1317,307.9 L1320,308.1 L1323,307.6 L1326,308.0 L1329,308.8 L1332,309.8 L1335,309.7 L1338,309.7 L1341,310.2 L1344,310.2 L1347,310.5 L1350,310.4 L1353,311.5 L1356,310.6 L1359,311.7 L1362,311.2 L1365,311.5 L1368,312.7 L1371,313.1 L1374,312.7 L1377,313.7 L1380,313.4 L1383,313.4 L1386,313.3 L1389,311.9 L1392,311.9 L1395,312.7 L1395,334 L981,334Z" fill="#2d8ebf"/><path d="M981,217.3 L984,218.6 L987,219.3 L990,219.5 L993,220.0 L996,220.6 L999,221.1 L1002,222.9 L1005,223.6 L1008,223.3 L1011,223.7 L1014,224.2 L1017,223.8 L1020,223.2 L1023,222.7 L1026,220.3 L1029,219.8 L1032,217.2 L1035,214.2 L1038,211.9 L1041,208.0 L1044,204.5 L1047,201.1 L1050,196.7 L1053,191.9 L1056,187.9 L1059,183.4 L1062,177.8 L1065,172.2 L1068,168.5 L1071,162.4 L1074,159.1 L1077,155.6 L1080,154.7 L1083,154.6 L1086,153.5 L1089,155.1 L1092,156.4 L1095,158.9 L1098,162.0 L1101,164.8 L1104,167.6 L1107,172.1 L1110,176.5 L1113,180.2 L1116,185.7 L1119,189.2 L1122,193.4 L1125,197.2 L1128,201.7 L1131,206.1 L1134,208.7 L1137,213.0 L1140,216.1 L1143,219.2 L1146,223.2 L1149,226.9 L1152,230.1 L1155,233.8 L1158,236.2 L1161,239.5 L1164,242.0 L1167,244.7 L1170,247.9 L1173,250.8 L1176,253.6 L1179,255.9 L1182,258.9 L1185,262.8 L1188,264.1 L1191,267.4 L1194,270.6 L1197,272.0 L1200,274.5 L1203,276.4 L1206,278.7 L1209,280.8 L1212,281.2 L1215,283.3 L1218,285.5 L1221,286.0 L1224,288.1 L1227,288.0 L1230,289.3 L1233,289.6 L1236,291.6 L1239,291.8 L1242,293.2 L1245,293.8 L1248,294.0 L1251,295.8 L1254,295.4 L1257,297.6 L1260,298.1 L1263,297.9 L1266,299.1 L1269,299.4 L1272,300.2 L1275,301.6 L1278,301.4 L1281,302.2 L1284,301.8 L1287,302.4 L1290,303.6 L1293,304.0 L1296,305.4 L1299,305.2 L1302,306.2 L1305,306.1 L1308,307.1 L1311,306.5 L1314,306.4 L1317,307.9 L1320,308.1 L1323,307.6 L1326,308.0 L1329,308.8 L1332,309.8 L1335,309.7 L1338,309.7 L1341,310.2 L1344,310.2 L1347,310.5 L1350,310.4 L1353,311.5 L1356,310.6 L1359,311.7 L1362,311.2 L1365,311.5 L1368,312.7 L1371,313.1 L1374,312.7 L1377,313.7 L1380,313.4 L1383,313.4 L1386,313.3 L1389,311.9 L1392,311.9 L1395,312.7" fill="none" stroke="#1f7fb8" stroke-width="0.9" opacity="0.6"/><path d="M981,223.2 L984,224.2 L987,223.9 L990,224.6 L993,225.7 L996,226.1 L999,227.4 L1002,228.4 L1005,229.3 L1008,228.6 L1011,229.1 L1014,229.4 L1017,228.5 L1020,228.0 L1023,227.2 L1026,226.7 L1029,224.3 L1032,223.0 L1035,219.6 L1038,217.1 L1041,214.0 L1044,210.3 L1047,206.3 L1050,202.6 L1053,199.1 L1056,194.6 L1059,190.8 L1062,185.1 L1065,180.3 L1068,175.3 L1071,171.3 L1074,167.0 L1077,165.4 L1080,163.2 L1083,162.1 L1086,163.0 L1089,163.7 L1092,164.7 L1095,166.8 L1098,170.0 L1101,173.6 L1104,176.5 L1107,179.8 L1110,183.4 L1113,187.9 L1116,191.9 L1119,196.3 L1122,200.3 L1125,203.9 L1128,207.5 L1131,212.5 L1134,216.1 L1137,219.2 L1140,222.9 L1143,225.6 L1146,229.2 L1149,231.8 L1152,235.2 L1155,238.4 L1158,241.0 L1161,243.8 L1164,246.3 L1167,248.5 L1170,252.0 L1173,254.9 L1176,256.6 L1179,259.4 L1182,262.0 L1185,265.2 L1188,267.7 L1191,270.3 L1194,272.5 L1197,274.9 L1200,276.8 L1203,280.1 L1206,280.4 L1209,282.0 L1212,285.0 L1215,285.6 L1218,287.6 L1221,288.1 L1224,288.7 L1227,289.7 L1230,292.0 L1233,291.4 L1236,292.8 L1239,293.3 L1242,294.8 L1245,295.1 L1248,296.6 L1251,296.5 L1254,297.8 L1257,299.3 L1260,299.3 L1263,300.6 L1266,299.8 L1269,301.7 L1272,301.5 L1275,303.1 L1278,303.2 L1281,303.0 L1284,304.3 L1287,303.9 L1290,305.0 L1293,305.8 L1296,305.3 L1299,305.6 L1302,307.3 L1305,306.6 L1308,308.0 L1311,307.9 L1314,307.8 L1317,309.2 L1320,308.7 L1323,308.8 L1326,310.2 L1329,310.6 L1332,309.9 L1335,311.2 L1338,310.1 L1341,311.5 L1344,311.5 L1347,311.2 L1350,311.7 L1353,311.8 L1356,312.6 L1359,312.4 L1362,312.6 L1365,313.2 L1368,312.9 L1371,312.7 L1374,313.5 L1377,314.3 L1380,313.5 L1383,313.7 L1386,314.6 L1389,313.0 L1392,314.2 L1395,312.8 L1395,334 L981,334Z" fill="#3294c2"/><path d="M981,223.2 L984,224.2 L987,223.9 L990,224.6 L993,225.7 L996,226.1 L999,227.4 L1002,228.4 L1005,229.3 L1008,228.6 L1011,229.1 L1014,229.4 L1017,228.5 L1020,228.0 L1023,227.2 L1026,226.7 L1029,224.3 L1032,223.0 L1035,219.6 L1038,217.1 L1041,214.0 L1044,210.3 L1047,206.3 L1050,202.6 L1053,199.1 L1056,194.6 L1059,190.8 L1062,185.1 L1065,180.3 L1068,175.3 L1071,171.3 L1074,167.0 L1077,165.4 L1080,163.2 L1083,162.1 L1086,163.0 L1089,163.7 L1092,164.7 L1095,166.8 L1098,170.0 L1101,173.6 L1104,176.5 L1107,179.8 L1110,183.4 L1113,187.9 L1116,191.9 L1119,196.3 L1122,200.3 L1125,203.9 L1128,207.5 L1131,212.5 L1134,216.1 L1137,219.2 L1140,222.9 L1143,225.6 L1146,229.2 L1149,231.8 L1152,235.2 L1155,238.4 L1158,241.0 L1161,243.8 L1164,246.3 L1167,248.5 L1170,252.0 L1173,254.9 L1176,256.6 L1179,259.4 L1182,262.0 L1185,265.2 L1188,267.7 L1191,270.3 L1194,272.5 L1197,274.9 L1200,276.8 L1203,280.1 L1206,280.4 L1209,282.0 L1212,285.0 L1215,285.6 L1218,287.6 L1221,288.1 L1224,288.7 L1227,289.7 L1230,292.0 L1233,291.4 L1236,292.8 L1239,293.3 L1242,294.8 L1245,295.1 L1248,296.6 L1251,296.5 L1254,297.8 L1257,299.3 L1260,299.3 L1263,300.6 L1266,299.8 L1269,301.7 L1272,301.5 L1275,303.1 L1278,303.2 L1281,303.0 L1284,304.3 L1287,303.9 L1290,305.0 L1293,305.8 L1296,305.3 L1299,305.6 L1302,307.3 L1305,306.6 L1308,308.0 L1311,307.9 L1314,307.8 L1317,309.2 L1320,308.7 L1323,308.8 L1326,310.2 L1329,310.6 L1332,309.9 L1335,311.2 L1338,310.1 L1341,311.5 L1344,311.5 L1347,311.2 L1350,311.7 L1353,311.8 L1356,312.6 L1359,312.4 L1362,312.6 L1365,313.2 L1368,312.9 L1371,312.7 L1374,313.5 L1377,314.3 L1380,313.5 L1383,313.7 L1386,314.6 L1389,313.0 L1392,314.2 L1395,312.8" fill="none" stroke="#2485bb" stroke-width="0.9" opacity="0.6"/><path d="M981,230.0 L984,229.1 L987,230.4 L990,230.9 L993,232.0 L996,231.7 L999,233.1 L1002,232.7 L1005,233.3 L1008,234.2 L1011,234.2 L1014,234.3 L1017,233.7 L1020,234.4 L1023,232.6 L1026,231.5 L1029,229.7 L1032,228.7 L1035,225.3 L1038,223.8 L1041,219.7 L1044,217.4 L1047,213.0 L1050,209.3 L1053,204.8 L1056,201.7 L1059,196.6 L1062,193.1 L1065,188.4 L1068,184.1 L1071,180.1 L1074,176.3 L1077,172.7 L1080,172.3 L1083,170.7 L1086,172.0 L1089,172.9 L1092,173.0 L1095,174.8 L1098,178.4 L1101,180.6 L1104,184.5 L1107,188.4 L1110,192.3 L1113,195.5 L1116,199.9 L1119,203.9 L1122,207.4 L1125,210.5 L1128,215.0 L1131,217.7 L1134,221.9 L1137,224.4 L1140,227.7 L1143,230.2 L1146,233.4 L1149,237.7 L1152,239.8 L1155,243.0 L1158,245.3 L1161,248.2 L1164,250.5 L1167,252.4 L1170,255.3 L1173,258.4 L1176,260.3 L1179,264.3 L1182,265.6 L1185,269.0 L1188,272.0 L1191,274.2 L1194,275.5 L1197,277.5 L1200,280.4 L1203,281.8 L1206,283.0 L1209,284.6 L1212,287.0 L1215,287.4 L1218,289.0 L1221,291.2 L1224,291.2 L1227,293.0 L1230,292.5 L1233,293.6 L1236,294.1 L1239,295.9 L1242,296.4 L1245,297.5 L1248,298.4 L1251,299.0 L1254,298.8 L1257,300.0 L1260,300.0 L1263,301.9 L1266,301.8 L1269,302.5 L1272,303.7 L1275,304.4 L1278,304.4 L1281,304.6 L1284,305.8 L1287,306.2 L1290,305.8 L1293,306.6 L1296,307.8 L1299,308.3 L1302,308.5 L1305,308.3 L1308,308.1 L1311,309.6 L1314,308.9 L1317,309.8 L1320,309.8 L1323,310.8 L1326,310.3 L1329,310.7 L1332,311.7 L1335,311.8 L1338,312.5 L1341,311.4 L1344,311.7 L1347,312.8 L1350,312.8 L1353,313.6 L1356,313.2 L1359,312.7 L1362,313.6 L1365,313.4 L1368,314.5 L1371,314.7 L1374,314.9 L1377,313.9 L1380,314.8 L1383,314.4 L1386,315.5 L1389,313.9 L1392,314.5 L1395,314.4 L1395,334 L981,334Z" fill="#389ac6"/><path d="M981,230.0 L984,229.1 L987,230.4 L990,230.9 L993,232.0 L996,231.7 L999,233.1 L1002,232.7 L1005,233.3 L1008,234.2 L1011,234.2 L1014,234.3 L1017,233.7 L1020,234.4 L1023,232.6 L1026,231.5 L1029,229.7 L1032,228.7 L1035,225.3 L1038,223.8 L1041,219.7 L1044,217.4 L1047,213.0 L1050,209.3 L1053,204.8 L1056,201.7 L1059,196.6 L1062,193.1 L1065,188.4 L1068,184.1 L1071,180.1 L1074,176.3 L1077,172.7 L1080,172.3 L1083,170.7 L1086,172.0 L1089,172.9 L1092,173.0 L1095,174.8 L1098,178.4 L1101,180.6 L1104,184.5 L1107,188.4 L1110,192.3 L1113,195.5 L1116,199.9 L1119,203.9 L1122,207.4 L1125,210.5 L1128,215.0 L1131,217.7 L1134,221.9 L1137,224.4 L1140,227.7 L1143,230.2 L1146,233.4 L1149,237.7 L1152,239.8 L1155,243.0 L1158,245.3 L1161,248.2 L1164,250.5 L1167,252.4 L1170,255.3 L1173,258.4 L1176,260.3 L1179,264.3 L1182,265.6 L1185,269.0 L1188,272.0 L1191,274.2 L1194,275.5 L1197,277.5 L1200,280.4 L1203,281.8 L1206,283.0 L1209,284.6 L1212,287.0 L1215,287.4 L1218,289.0 L1221,291.2 L1224,291.2 L1227,293.0 L1230,292.5 L1233,293.6 L1236,294.1 L1239,295.9 L1242,296.4 L1245,297.5 L1248,298.4 L1251,299.0 L1254,298.8 L1257,300.0 L1260,300.0 L1263,301.9 L1266,301.8 L1269,302.5 L1272,303.7 L1275,304.4 L1278,304.4 L1281,304.6 L1284,305.8 L1287,306.2 L1290,305.8 L1293,306.6 L1296,307.8 L1299,308.3 L1302,308.5 L1305,308.3 L1308,308.1 L1311,309.6 L1314,308.9 L1317,309.8 L1320,309.8 L1323,310.8 L1326,310.3 L1329,310.7 L1332,311.7 L1335,311.8 L1338,312.5 L1341,311.4 L1344,311.7 L1347,312.8 L1350,312.8 L1353,313.6 L1356,313.2 L1359,312.7 L1362,313.6 L1365,313.4 L1368,314.5 L1371,314.7 L1374,314.9 L1377,313.9 L1380,314.8 L1383,314.4 L1386,315.5 L1389,313.9 L1392,314.5 L1395,314.4" fill="none" stroke="#2a8bbd" stroke-width="0.9" opacity="0.6"/><path d="M981,235.0 L984,235.6 L987,235.7 L990,236.3 L993,236.9 L996,237.6 L999,238.7 L1002,238.1 L1005,239.4 L1008,238.9 L1011,240.1 L1014,239.2 L1017,239.7 L1020,238.5 L1023,238.1 L1026,236.7 L1029,235.9 L1032,233.4 L1035,231.2 L1038,228.7 L1041,225.5 L1044,223.3 L1047,218.9 L1050,214.9 L1053,211.2 L1056,208.2 L1059,204.5 L1062,199.9 L1065,196.2 L1068,190.7 L1071,187.7 L1074,184.2 L1077,181.0 L1080,179.4 L1083,179.5 L1086,179.7 L1089,180.5 L1092,182.1 L1095,183.2 L1098,185.5 L1101,188.4 L1104,191.4 L1107,195.2 L1110,199.0 L1113,202.2 L1116,205.7 L1119,210.2 L1122,212.9 L1125,217.5 L1128,220.6 L1131,223.3 L1134,226.3 L1137,230.6 L1140,232.5 L1143,236.6 L1146,239.2 L1149,242.3 L1152,244.3 L1155,247.7 L1158,249.5 L1161,252.4 L1164,255.4 L1167,257.3 L1170,259.0 L1173,261.6 L1176,264.4 L1179,267.6 L1182,270.2 L1185,272.0 L1188,274.7 L1191,276.6 L1194,278.9 L1197,280.6 L1200,283.4 L1203,284.3 L1206,285.8 L1209,287.8 L1212,288.6 L1215,289.7 L1218,291.4 L1221,293.1 L1224,293.4 L1227,294.1 L1230,294.9 L1233,296.1 L1236,296.3 L1239,297.4 L1242,298.1 L1245,298.1 L1248,299.3 L1251,300.8 L1254,300.5 L1257,302.0 L1260,301.6 L1263,302.9 L1266,303.3 L1269,304.2 L1272,303.8 L1275,304.5 L1278,305.4 L1281,306.7 L1284,306.5 L1287,307.5 L1290,307.5 L1293,308.6 L1296,307.6 L1299,309.2 L1302,308.7 L1305,309.0 L1308,309.8 L1311,310.0 L1314,311.1 L1317,311.4 L1320,311.3 L1323,310.9 L1326,311.1 L1329,311.7 L1332,311.8 L1335,312.0 L1338,312.2 L1341,312.6 L1344,312.9 L1347,312.9 L1350,313.4 L1353,314.6 L1356,314.6 L1359,314.4 L1362,315.1 L1365,315.3 L1368,314.2 L1371,314.3 L1374,314.9 L1377,315.4 L1380,316.2 L1383,315.0 L1386,315.9 L1389,315.7 L1392,314.8 L1395,315.3 L1395,334 L981,334Z" fill="#3da0c9"/><path d="M981,235.0 L984,235.6 L987,235.7 L990,236.3 L993,236.9 L996,237.6 L999,238.7 L1002,238.1 L1005,239.4 L1008,238.9 L1011,240.1 L1014,239.2 L1017,239.7 L1020,238.5 L1023,238.1 L1026,236.7 L1029,235.9 L1032,233.4 L1035,231.2 L1038,228.7 L1041,225.5 L1044,223.3 L1047,218.9 L1050,214.9 L1053,211.2 L1056,208.2 L1059,204.5 L1062,199.9 L1065,196.2 L1068,190.7 L1071,187.7 L1074,184.2 L1077,181.0 L1080,179.4 L1083,179.5 L1086,179.7 L1089,180.5 L1092,182.1 L1095,183.2 L1098,185.5 L1101,188.4 L1104,191.4 L1107,195.2 L1110,199.0 L1113,202.2 L1116,205.7 L1119,210.2 L1122,212.9 L1125,217.5 L1128,220.6 L1131,223.3 L1134,226.3 L1137,230.6 L1140,232.5 L1143,236.6 L1146,239.2 L1149,242.3 L1152,244.3 L1155,247.7 L1158,249.5 L1161,252.4 L1164,255.4 L1167,257.3 L1170,259.0 L1173,261.6 L1176,264.4 L1179,267.6 L1182,270.2 L1185,272.0 L1188,274.7 L1191,276.6 L1194,278.9 L1197,280.6 L1200,283.4 L1203,284.3 L1206,285.8 L1209,287.8 L1212,288.6 L1215,289.7 L1218,291.4 L1221,293.1 L1224,293.4 L1227,294.1 L1230,294.9 L1233,296.1 L1236,296.3 L1239,297.4 L1242,298.1 L1245,298.1 L1248,299.3 L1251,300.8 L1254,300.5 L1257,302.0 L1260,301.6 L1263,302.9 L1266,303.3 L1269,304.2 L1272,303.8 L1275,304.5 L1278,305.4 L1281,306.7 L1284,306.5 L1287,307.5 L1290,307.5 L1293,308.6 L1296,307.6 L1299,309.2 L1302,308.7 L1305,309.0 L1308,309.8 L1311,310.0 L1314,311.1 L1317,311.4 L1320,311.3 L1323,310.9 L1326,311.1 L1329,311.7 L1332,311.8 L1335,312.0 L1338,312.2 L1341,312.6 L1344,312.9 L1347,312.9 L1350,313.4 L1353,314.6 L1356,314.6 L1359,314.4 L1362,315.1 L1365,315.3 L1368,314.2 L1371,314.3 L1374,314.9 L1377,315.4 L1380,316.2 L1383,315.0 L1386,315.9 L1389,315.7 L1392,314.8 L1395,315.3" fill="none" stroke="#2f91c0" stroke-width="0.9" opacity="0.6"/><path d="M981,241.0 L984,241.2 L987,241.2 L990,241.5 L993,242.9 L996,242.4 L999,243.1 L1002,243.9 L1005,244.0 L1008,244.6 L1011,244.0 L1014,244.1 L1017,243.5 L1020,243.6 L1023,242.5 L1026,242.2 L1029,240.0 L1032,238.2 L1035,236.8 L1038,233.7 L1041,231.9 L1044,228.4 L1047,224.5 L1050,221.8 L1053,218.6 L1056,214.0 L1059,210.6 L1062,206.7 L1065,203.3 L1068,199.2 L1071,194.1 L1074,191.4 L1077,189.8 L1080,187.9 L1083,187.7 L1086,187.9 L1089,187.8 L1092,189.1 L1095,192.0 L1098,193.5 L1101,196.2 L1104,199.4 L1107,202.9 L1110,206.5 L1113,208.8 L1116,213.1 L1119,215.6 L1122,219.8 L1125,223.5 L1128,226.3 L1131,229.3 L1134,233.1 L1137,235.8 L1140,239.0 L1143,241.4 L1146,243.8 L1149,247.1 L1152,249.4 L1155,251.1 L1158,253.7 L1161,257.2 L1164,259.0 L1167,260.4 L1170,263.8 L1173,266.1 L1176,267.5 L1179,271.3 L1182,272.6 L1185,275.4 L1188,277.9 L1191,279.7 L1194,281.5 L1197,283.5 L1200,285.5 L1203,287.7 L1206,289.1 L1209,290.6 L1212,291.7 L1215,292.5 L1218,293.4 L1221,295.2 L1224,296.1 L1227,296.1 L1230,297.5 L1233,297.5 L1236,297.8 L1239,299.1 L1242,300.4 L1245,300.5 L1248,301.6 L1251,302.4 L1254,303.0 L1257,302.9 L1260,304.3 L1263,303.7 L1266,304.9 L1269,304.8 L1272,305.7 L1275,306.9 L1278,307.3 L1281,308.0 L1284,307.8 L1287,308.2 L1290,308.1 L1293,309.0 L1296,310.0 L1299,309.6 L1302,310.7 L1305,310.2 L1308,311.3 L1311,310.7 L1314,312.1 L1317,311.2 L1320,311.4 L1323,312.4 L1326,312.9 L1329,313.1 L1332,312.9 L1335,313.6 L1338,313.1 L1341,313.6 L1344,313.8 L1347,313.9 L1350,313.9 L1353,314.3 L1356,315.0 L1359,315.2 L1362,315.0 L1365,315.6 L1368,315.4 L1371,316.2 L1374,315.2 L1377,316.5 L1380,316.8 L1383,316.5 L1386,316.5 L1389,316.8 L1392,315.5 L1395,315.2 L1395,334 L981,334Z" fill="#43a6cc"/><path d="M981,241.0 L984,241.2 L987,241.2 L990,241.5 L993,242.9 L996,242.4 L999,243.1 L1002,243.9 L1005,244.0 L1008,244.6 L1011,244.0 L1014,244.1 L1017,243.5 L1020,243.6 L1023,242.5 L1026,242.2 L1029,240.0 L1032,238.2 L1035,236.8 L1038,233.7 L1041,231.9 L1044,228.4 L1047,224.5 L1050,221.8 L1053,218.6 L1056,214.0 L1059,210.6 L1062,206.7 L1065,203.3 L1068,199.2 L1071,194.1 L1074,191.4 L1077,189.8 L1080,187.9 L1083,187.7 L1086,187.9 L1089,187.8 L1092,189.1 L1095,192.0 L1098,193.5 L1101,196.2 L1104,199.4 L1107,202.9 L1110,206.5 L1113,208.8 L1116,213.1 L1119,215.6 L1122,219.8 L1125,223.5 L1128,226.3 L1131,229.3 L1134,233.1 L1137,235.8 L1140,239.0 L1143,241.4 L1146,243.8 L1149,247.1 L1152,249.4 L1155,251.1 L1158,253.7 L1161,257.2 L1164,259.0 L1167,260.4 L1170,263.8 L1173,266.1 L1176,267.5 L1179,271.3 L1182,272.6 L1185,275.4 L1188,277.9 L1191,279.7 L1194,281.5 L1197,283.5 L1200,285.5 L1203,287.7 L1206,289.1 L1209,290.6 L1212,291.7 L1215,292.5 L1218,293.4 L1221,295.2 L1224,296.1 L1227,296.1 L1230,297.5 L1233,297.5 L1236,297.8 L1239,299.1 L1242,300.4 L1245,300.5 L1248,301.6 L1251,302.4 L1254,303.0 L1257,302.9 L1260,304.3 L1263,303.7 L1266,304.9 L1269,304.8 L1272,305.7 L1275,306.9 L1278,307.3 L1281,308.0 L1284,307.8 L1287,308.2 L1290,308.1 L1293,309.0 L1296,310.0 L1299,309.6 L1302,310.7 L1305,310.2 L1308,311.3 L1311,310.7 L1314,312.1 L1317,311.2 L1320,311.4 L1323,312.4 L1326,312.9 L1329,313.1 L1332,312.9 L1335,313.6 L1338,313.1 L1341,313.6 L1344,313.8 L1347,313.9 L1350,313.9 L1353,314.3 L1356,315.0 L1359,315.2 L1362,315.0 L1365,315.6 L1368,315.4 L1371,316.2 L1374,315.2 L1377,316.5 L1380,316.8 L1383,316.5 L1386,316.5 L1389,316.8 L1392,315.5 L1395,315.2" fill="none" stroke="#3597c4" stroke-width="0.9" opacity="0.6"/><path d="M981,245.5 L984,245.6 L987,246.6 L990,247.2 L993,247.4 L996,248.0 L999,248.1 L1002,249.1 L1005,249.3 L1008,249.9 L1011,249.2 L1014,248.8 L1017,249.6 L1020,248.7 L1023,248.2 L1026,247.0 L1029,245.7 L1032,243.5 L1035,242.2 L1038,239.5 L1041,236.6 L1044,233.4 L1047,230.2 L1050,227.0 L1053,223.7 L1056,220.3 L1059,217.2 L1062,214.0 L1065,209.6 L1068,205.8 L1071,201.4 L1074,199.4 L1077,197.1 L1080,196.2 L1083,195.3 L1086,195.9 L1089,196.3 L1092,197.9 L1095,199.0 L1098,201.6 L1101,204.2 L1104,206.6 L1107,209.6 L1110,213.1 L1113,216.1 L1116,220.0 L1119,223.2 L1122,225.8 L1125,229.3 L1128,231.5 L1131,235.6 L1134,238.2 L1137,240.2 L1140,242.9 L1143,246.8 L1146,249.3 L1149,251.7 L1152,253.8 L1155,255.9 L1158,258.5 L1161,261.3 L1164,263.0 L1167,264.4 L1170,266.8 L1173,268.8 L1176,272.2 L1179,274.4 L1182,276.8 L1185,278.4 L1188,280.3 L1191,282.0 L1194,284.1 L1197,286.0 L1200,287.7 L1203,289.2 L1206,291.2 L1209,292.7 L1212,293.3 L1215,295.0 L1218,295.3 L1221,296.3 L1224,297.9 L1227,297.6 L1230,298.3 L1233,300.2 L1236,300.1 L1239,300.7 L1242,301.9 L1245,302.7 L1248,302.6 L1251,303.8 L1254,303.5 L1257,305.2 L1260,305.1 L1263,305.6 L1266,305.5 L1269,306.1 L1272,307.0 L1275,307.1 L1278,308.3 L1281,309.2 L1284,308.7 L1287,309.7 L1290,309.9 L1293,310.3 L1296,310.9 L1299,310.9 L1302,311.7 L1305,311.1 L1308,312.1 L1311,312.2 L1314,312.0 L1317,312.3 L1320,313.6 L1323,313.4 L1326,313.4 L1329,313.7 L1332,314.4 L1335,314.4 L1338,314.0 L1341,315.3 L1344,315.4 L1347,315.5 L1350,315.6 L1353,315.8 L1356,315.5 L1359,316.5 L1362,316.3 L1365,315.7 L1368,316.8 L1371,316.4 L1374,316.1 L1377,317.4 L1380,316.6 L1383,317.0 L1386,316.5 L1389,316.9 L1392,316.8 L1395,317.0 L1395,334 L981,334Z" fill="#48accf"/><path d="M981,245.5 L984,245.6 L987,246.6 L990,247.2 L993,247.4 L996,248.0 L999,248.1 L1002,249.1 L1005,249.3 L1008,249.9 L1011,249.2 L1014,248.8 L1017,249.6 L1020,248.7 L1023,248.2 L1026,247.0 L1029,245.7 L1032,243.5 L1035,242.2 L1038,239.5 L1041,236.6 L1044,233.4 L1047,230.2 L1050,227.0 L1053,223.7 L1056,220.3 L1059,217.2 L1062,214.0 L1065,209.6 L1068,205.8 L1071,201.4 L1074,199.4 L1077,197.1 L1080,196.2 L1083,195.3 L1086,195.9 L1089,196.3 L1092,197.9 L1095,199.0 L1098,201.6 L1101,204.2 L1104,206.6 L1107,209.6 L1110,213.1 L1113,216.1 L1116,220.0 L1119,223.2 L1122,225.8 L1125,229.3 L1128,231.5 L1131,235.6 L1134,238.2 L1137,240.2 L1140,242.9 L1143,246.8 L1146,249.3 L1149,251.7 L1152,253.8 L1155,255.9 L1158,258.5 L1161,261.3 L1164,263.0 L1167,264.4 L1170,266.8 L1173,268.8 L1176,272.2 L1179,274.4 L1182,276.8 L1185,278.4 L1188,280.3 L1191,282.0 L1194,284.1 L1197,286.0 L1200,287.7 L1203,289.2 L1206,291.2 L1209,292.7 L1212,293.3 L1215,295.0 L1218,295.3 L1221,296.3 L1224,297.9 L1227,297.6 L1230,298.3 L1233,300.2 L1236,300.1 L1239,300.7 L1242,301.9 L1245,302.7 L1248,302.6 L1251,303.8 L1254,303.5 L1257,305.2 L1260,305.1 L1263,305.6 L1266,305.5 L1269,306.1 L1272,307.0 L1275,307.1 L1278,308.3 L1281,309.2 L1284,308.7 L1287,309.7 L1290,309.9 L1293,310.3 L1296,310.9 L1299,310.9 L1302,311.7 L1305,311.1 L1308,312.1 L1311,312.2 L1314,312.0 L1317,312.3 L1320,313.6 L1323,313.4 L1326,313.4 L1329,313.7 L1332,314.4 L1335,314.4 L1338,314.0 L1341,315.3 L1344,315.4 L1347,315.5 L1350,315.6 L1353,315.8 L1356,315.5 L1359,316.5 L1362,316.3 L1365,315.7 L1368,316.8 L1371,316.4 L1374,316.1 L1377,317.4 L1380,316.6 L1383,317.0 L1386,316.5 L1389,316.9 L1392,316.8 L1395,317.0" fill="none" stroke="#3a9dc7" stroke-width="0.9" opacity="0.6"/><path d="M981,251.1 L984,250.9 L987,250.7 L990,252.1 L993,251.8 L996,253.3 L999,252.7 L1002,253.3 L1005,253.2 L1008,253.7 L1011,254.4 L1014,253.5 L1017,253.3 L1020,252.7 L1023,251.9 L1026,251.5 L1029,249.8 L1032,248.9 L1035,246.9 L1038,244.5 L1041,242.6 L1044,239.9 L1047,236.0 L1050,233.5 L1053,230.2 L1056,226.2 L1059,223.7 L1062,219.2 L1065,216.5 L1068,213.1 L1071,209.5 L1074,206.8 L1077,204.7 L1080,203.3 L1083,202.6 L1086,203.1 L1089,203.6 L1092,205.4 L1095,207.0 L1098,209.1 L1101,210.6 L1104,214.1 L1107,217.0 L1110,218.8 L1113,222.6 L1116,225.1 L1119,228.2 L1122,231.7 L1125,235.0 L1128,237.2 L1131,240.2 L1134,243.2 L1137,246.0 L1140,248.0 L1143,250.7 L1146,253.0 L1149,255.8 L1152,259.0 L1155,260.1 L1158,263.0 L1161,264.9 L1164,267.2 L1167,269.2 L1170,270.2 L1173,272.7 L1176,275.5 L1179,277.4 L1182,279.8 L1185,280.8 L1188,283.9 L1191,285.2 L1194,287.5 L1197,288.9 L1200,290.1 L1203,291.8 L1206,292.5 L1209,295.0 L1212,296.0 L1215,296.8 L1218,297.8 L1221,298.8 L1224,299.2 L1227,299.7 L1230,300.9 L1233,301.9 L1236,302.4 L1239,302.9 L1242,302.6 L1245,303.4 L1248,304.0 L1251,305.0 L1254,306.0 L1257,306.2 L1260,306.7 L1263,307.0 L1266,307.1 L1269,307.7 L1272,309.1 L1275,309.5 L1278,309.5 L1281,310.0 L1284,309.8 L1287,309.9 L1290,310.3 L1293,310.6 L1296,311.2 L1299,312.6 L1302,312.4 L1305,312.2 L1308,312.3 L1311,312.5 L1314,312.8 L1317,313.2 L1320,313.7 L1323,313.7 L1326,314.0 L1329,314.8 L1332,314.3 L1335,314.6 L1338,315.7 L1341,315.2 L1344,315.9 L1347,315.7 L1350,316.4 L1353,315.7 L1356,316.2 L1359,317.2 L1362,316.5 L1365,317.2 L1368,316.7 L1371,316.7 L1374,317.3 L1377,317.5 L1380,317.1 L1383,317.9 L1386,317.7 L1389,317.4 L1392,317.9 L1395,317.9 L1395,334 L981,334Z" fill="#4eb2d3"/><path d="M981,251.1 L984,250.9 L987,250.7 L990,252.1 L993,251.8 L996,253.3 L999,252.7 L1002,253.3 L1005,253.2 L1008,253.7 L1011,254.4 L1014,253.5 L1017,253.3 L1020,252.7 L1023,251.9 L1026,251.5 L1029,249.8 L1032,248.9 L1035,246.9 L1038,244.5 L1041,242.6 L1044,239.9 L1047,236.0 L1050,233.5 L1053,230.2 L1056,226.2 L1059,223.7 L1062,219.2 L1065,216.5 L1068,213.1 L1071,209.5 L1074,206.8 L1077,204.7 L1080,203.3 L1083,202.6 L1086,203.1 L1089,203.6 L1092,205.4 L1095,207.0 L1098,209.1 L1101,210.6 L1104,214.1 L1107,217.0 L1110,218.8 L1113,222.6 L1116,225.1 L1119,228.2 L1122,231.7 L1125,235.0 L1128,237.2 L1131,240.2 L1134,243.2 L1137,246.0 L1140,248.0 L1143,250.7 L1146,253.0 L1149,255.8 L1152,259.0 L1155,260.1 L1158,263.0 L1161,264.9 L1164,267.2 L1167,269.2 L1170,270.2 L1173,272.7 L1176,275.5 L1179,277.4 L1182,279.8 L1185,280.8 L1188,283.9 L1191,285.2 L1194,287.5 L1197,288.9 L1200,290.1 L1203,291.8 L1206,292.5 L1209,295.0 L1212,296.0 L1215,296.8 L1218,297.8 L1221,298.8 L1224,299.2 L1227,299.7 L1230,300.9 L1233,301.9 L1236,302.4 L1239,302.9 L1242,302.6 L1245,303.4 L1248,304.0 L1251,305.0 L1254,306.0 L1257,306.2 L1260,306.7 L1263,307.0 L1266,307.1 L1269,307.7 L1272,309.1 L1275,309.5 L1278,309.5 L1281,310.0 L1284,309.8 L1287,309.9 L1290,310.3 L1293,310.6 L1296,311.2 L1299,312.6 L1302,312.4 L1305,312.2 L1308,312.3 L1311,312.5 L1314,312.8 L1317,313.2 L1320,313.7 L1323,313.7 L1326,314.0 L1329,314.8 L1332,314.3 L1335,314.6 L1338,315.7 L1341,315.2 L1344,315.9 L1347,315.7 L1350,316.4 L1353,315.7 L1356,316.2 L1359,317.2 L1362,316.5 L1365,317.2 L1368,316.7 L1371,316.7 L1374,317.3 L1377,317.5 L1380,317.1 L1383,317.9 L1386,317.7 L1389,317.4 L1392,317.9 L1395,317.9" fill="none" stroke="#40a3ca" stroke-width="0.9" opacity="0.6"/><path d="M981,255.3 L984,256.2 L987,256.3 L990,256.4 L993,257.5 L996,257.3 L999,257.4 L1002,257.6 L1005,258.7 L1008,258.4 L1011,258.3 L1014,258.0 L1017,258.7 L1020,257.6 L1023,257.6 L1026,256.6 L1029,255.2 L1032,252.9 L1035,252.1 L1038,249.6 L1041,247.5 L1044,245.0 L1047,241.4 L1050,238.5 L1053,236.1 L1056,232.3 L1059,228.9 L1062,225.5 L1065,222.8 L1068,219.0 L1071,216.8 L1074,213.0 L1077,211.6 L1080,211.0 L1083,210.6 L1086,211.1 L1089,211.4 L1092,212.8 L1095,214.3 L1098,216.1 L1101,217.9 L1104,220.2 L1107,223.1 L1110,225.5 L1113,228.5 L1116,231.8 L1119,234.6 L1122,237.4 L1125,239.8 L1128,243.7 L1131,245.5 L1134,248.3 L1137,250.7 L1140,253.4 L1143,256.2 L1146,258.8 L1149,260.6 L1152,263.2 L1155,264.5 L1158,266.7 L1161,268.4 L1164,271.2 L1167,272.0 L1170,274.0 L1173,276.7 L1176,278.0 L1179,279.8 L1182,282.2 L1185,284.3 L1188,286.2 L1191,287.7 L1194,289.5 L1197,290.9 L1200,292.3 L1203,294.1 L1206,295.0 L1209,296.1 L1212,298.1 L1215,299.1 L1218,299.4 L1221,300.4 L1224,300.6 L1227,301.1 L1230,302.4 L1233,303.5 L1236,303.0 L1239,304.0 L1242,305.0 L1245,304.6 L1248,305.9 L1251,306.0 L1254,307.2 L1257,307.9 L1260,308.4 L1263,308.8 L1266,308.3 L1269,309.5 L1272,309.8 L1275,309.9 L1278,310.1 L1281,310.9 L1284,311.2 L1287,311.5 L1290,312.6 L1293,312.0 L1296,313.1 L1299,312.5 L1302,313.5 L1305,313.5 L1308,313.7 L1311,314.1 L1314,313.9 L1317,314.2 L1320,314.7 L1323,314.6 L1326,315.7 L1329,315.7 L1332,315.9 L1335,316.2 L1338,315.7 L1341,315.7 L1344,316.0 L1347,317.3 L1350,316.9 L1353,317.7 L1356,317.0 L1359,317.3 L1362,317.8 L1365,318.2 L1368,317.8 L1371,318.0 L1374,317.9 L1377,317.9 L1380,318.9 L1383,319.1 L1386,318.4 L1389,317.9 L1392,318.8 L1395,318.1 L1395,334 L981,334Z" fill="#54b7d1"/><path d="M981,255.3 L984,256.2 L987,256.3 L990,256.4 L993,257.5 L996,257.3 L999,257.4 L1002,257.6 L1005,258.7 L1008,258.4 L1011,258.3 L1014,258.0 L1017,258.7 L1020,257.6 L1023,257.6 L1026,256.6 L1029,255.2 L1032,252.9 L1035,252.1 L1038,249.6 L1041,247.5 L1044,245.0 L1047,241.4 L1050,238.5 L1053,236.1 L1056,232.3 L1059,228.9 L1062,225.5 L1065,222.8 L1068,219.0 L1071,216.8 L1074,213.0 L1077,211.6 L1080,211.0 L1083,210.6 L1086,211.1 L1089,211.4 L1092,212.8 L1095,214.3 L1098,216.1 L1101,217.9 L1104,220.2 L1107,223.1 L1110,225.5 L1113,228.5 L1116,231.8 L1119,234.6 L1122,237.4 L1125,239.8 L1128,243.7 L1131,245.5 L1134,248.3 L1137,250.7 L1140,253.4 L1143,256.2 L1146,258.8 L1149,260.6 L1152,263.2 L1155,264.5 L1158,266.7 L1161,268.4 L1164,271.2 L1167,272.0 L1170,274.0 L1173,276.7 L1176,278.0 L1179,279.8 L1182,282.2 L1185,284.3 L1188,286.2 L1191,287.7 L1194,289.5 L1197,290.9 L1200,292.3 L1203,294.1 L1206,295.0 L1209,296.1 L1212,298.1 L1215,299.1 L1218,299.4 L1221,300.4 L1224,300.6 L1227,301.1 L1230,302.4 L1233,303.5 L1236,303.0 L1239,304.0 L1242,305.0 L1245,304.6 L1248,305.9 L1251,306.0 L1254,307.2 L1257,307.9 L1260,308.4 L1263,308.8 L1266,308.3 L1269,309.5 L1272,309.8 L1275,309.9 L1278,310.1 L1281,310.9 L1284,311.2 L1287,311.5 L1290,312.6 L1293,312.0 L1296,313.1 L1299,312.5 L1302,313.5 L1305,313.5 L1308,313.7 L1311,314.1 L1314,313.9 L1317,314.2 L1320,314.7 L1323,314.6 L1326,315.7 L1329,315.7 L1332,315.9 L1335,316.2 L1338,315.7 L1341,315.7 L1344,316.0 L1347,317.3 L1350,316.9 L1353,317.7 L1356,317.0 L1359,317.3 L1362,317.8 L1365,318.2 L1368,317.8 L1371,318.0 L1374,317.9 L1377,317.9 L1380,318.9 L1383,319.1 L1386,318.4 L1389,317.9 L1392,318.8 L1395,318.1" fill="none" stroke="#45a9ce" stroke-width="0.9" opacity="0.6"/><path d="M981,261.0 L984,260.5 L987,261.3 L990,261.0 L993,261.5 L996,261.8 L999,263.0 L1002,262.2 L1005,262.7 L1008,263.1 L1011,263.4 L1014,263.3 L1017,262.3 L1020,262.2 L1023,261.9 L1026,260.1 L1029,258.9 L1032,258.3 L1035,255.5 L1038,253.6 L1041,251.6 L1044,250.0 L1047,246.7 L1050,243.9 L1053,241.2 L1056,238.8 L1059,234.7 L1062,231.8 L1065,229.0 L1068,226.0 L1071,222.5 L1074,220.4 L1077,218.9 L1080,217.2 L1083,217.4 L1086,217.2 L1089,218.9 L1092,218.7 L1095,220.3 L1098,222.6 L1101,224.2 L1104,227.0 L1107,229.3 L1110,232.8 L1113,235.0 L1116,237.4 L1119,240.0 L1122,243.0 L1125,246.1 L1128,248.6 L1131,251.1 L1134,253.3 L1137,256.3 L1140,257.9 L1143,260.4 L1146,263.2 L1149,265.1 L1152,266.7 L1155,269.1 L1158,271.0 L1161,272.1 L1164,274.1 L1167,276.3 L1170,277.6 L1173,279.4 L1176,281.6 L1179,282.9 L1182,285.0 L1185,287.8 L1188,288.6 L1191,291.0 L1194,291.5 L1197,293.4 L1200,295.0 L1203,296.1 L1206,298.0 L1209,299.1 L1212,299.3 L1215,300.0 L1218,301.9 L1221,302.5 L1224,302.9 L1227,302.9 L1230,303.4 L1233,304.8 L1236,305.3 L1239,305.6 L1242,306.0 L1245,306.4 L1248,307.1 L1251,307.7 L1254,308.4 L1257,308.7 L1260,309.0 L1263,309.3 L1266,310.3 L1269,311.1 L1272,310.5 L1275,311.6 L1278,311.8 L1281,311.7 L1284,311.9 L1287,313.1 L1290,312.6 L1293,312.9 L1296,313.2 L1299,314.4 L1302,314.1 L1305,313.9 L1308,314.5 L1311,315.1 L1314,315.2 L1317,315.0 L1320,316.1 L1323,316.2 L1326,315.8 L1329,316.1 L1332,316.2 L1335,316.1 L1338,317.1 L1341,316.8 L1344,317.5 L1347,317.9 L1350,317.5 L1353,317.6 L1356,317.8 L1359,318.1 L1362,317.7 L1365,318.3 L1368,318.3 L1371,318.2 L1374,319.2 L1377,319.2 L1380,319.1 L1383,318.7 L1386,319.5 L1389,318.9 L1392,319.5 L1395,319.1 L1395,334 L981,334Z" fill="#5bbacf"/><path d="M981,261.0 L984,260.5 L987,261.3 L990,261.0 L993,261.5 L996,261.8 L999,263.0 L1002,262.2 L1005,262.7 L1008,263.1 L1011,263.4 L1014,263.3 L1017,262.3 L1020,262.2 L1023,261.9 L1026,260.1 L1029,258.9 L1032,258.3 L1035,255.5 L1038,253.6 L1041,251.6 L1044,250.0 L1047,246.7 L1050,243.9 L1053,241.2 L1056,238.8 L1059,234.7 L1062,231.8 L1065,229.0 L1068,226.0 L1071,222.5 L1074,220.4 L1077,218.9 L1080,217.2 L1083,217.4 L1086,217.2 L1089,218.9 L1092,218.7 L1095,220.3 L1098,222.6 L1101,224.2 L1104,227.0 L1107,229.3 L1110,232.8 L1113,235.0 L1116,237.4 L1119,240.0 L1122,243.0 L1125,246.1 L1128,248.6 L1131,251.1 L1134,253.3 L1137,256.3 L1140,257.9 L1143,260.4 L1146,263.2 L1149,265.1 L1152,266.7 L1155,269.1 L1158,271.0 L1161,272.1 L1164,274.1 L1167,276.3 L1170,277.6 L1173,279.4 L1176,281.6 L1179,282.9 L1182,285.0 L1185,287.8 L1188,288.6 L1191,291.0 L1194,291.5 L1197,293.4 L1200,295.0 L1203,296.1 L1206,298.0 L1209,299.1 L1212,299.3 L1215,300.0 L1218,301.9 L1221,302.5 L1224,302.9 L1227,302.9 L1230,303.4 L1233,304.8 L1236,305.3 L1239,305.6 L1242,306.0 L1245,306.4 L1248,307.1 L1251,307.7 L1254,308.4 L1257,308.7 L1260,309.0 L1263,309.3 L1266,310.3 L1269,311.1 L1272,310.5 L1275,311.6 L1278,311.8 L1281,311.7 L1284,311.9 L1287,313.1 L1290,312.6 L1293,312.9 L1296,313.2 L1299,314.4 L1302,314.1 L1305,313.9 L1308,314.5 L1311,315.1 L1314,315.2 L1317,315.0 L1320,316.1 L1323,316.2 L1326,315.8 L1329,316.1 L1332,316.2 L1335,316.1 L1338,317.1 L1341,316.8 L1344,317.5 L1347,317.9 L1350,317.5 L1353,317.6 L1356,317.8 L1359,318.1 L1362,317.7 L1365,318.3 L1368,318.3 L1371,318.2 L1374,319.2 L1377,319.2 L1380,319.1 L1383,318.7 L1386,319.5 L1389,318.9 L1392,319.5 L1395,319.1" fill="none" stroke="#4aafd1" stroke-width="0.9" opacity="0.6"/><path d="M981,264.8 L984,265.1 L987,264.9 L990,265.3 L993,266.8 L996,266.9 L999,266.5 L1002,267.3 L1005,266.8 L1008,267.9 L1011,267.6 L1014,267.6 L1017,267.0 L1020,266.5 L1023,266.3 L1026,264.7 L1029,263.2 L1032,261.9 L1035,261.2 L1038,258.5 L1041,256.2 L1044,254.5 L1047,251.5 L1050,249.1 L1053,246.9 L1056,243.5 L1059,240.9 L1062,238.7 L1065,235.6 L1068,232.6 L1071,228.9 L1074,227.8 L1077,225.7 L1080,224.2 L1083,225.1 L1086,224.2 L1089,225.8 L1092,225.6 L1095,226.9 L1098,229.1 L1101,231.2 L1104,233.4 L1107,236.1 L1110,237.7 L1113,241.0 L1116,243.1 L1119,246.5 L1122,248.6 L1125,251.2 L1128,252.9 L1131,256.3 L1134,257.8 L1137,260.0 L1140,262.4 L1143,265.1 L1146,266.6 L1149,268.8 L1152,270.9 L1155,272.3 L1158,273.9 L1161,275.9 L1164,278.0 L1167,279.7 L1170,280.8 L1173,283.0 L1176,285.0 L1179,286.6 L1182,287.8 L1185,289.3 L1188,292.1 L1191,293.4 L1194,294.3 L1197,296.2 L1200,297.3 L1203,298.6 L1206,299.3 L1209,300.7 L1212,301.3 L1215,302.2 L1218,302.9 L1221,304.2 L1224,305.0 L1227,304.9 L1230,305.1 L1233,305.8 L1236,307.0 L1239,307.0 L1242,307.0 L1245,308.6 L1248,308.5 L1251,308.6 L1254,309.9 L1257,310.1 L1260,310.9 L1263,311.3 L1266,311.7 L1269,312.2 L1272,311.9 L1275,312.8 L1278,312.8 L1281,313.3 L1284,313.1 L1287,313.9 L1290,313.5 L1293,314.8 L1296,314.3 L1299,315.0 L1302,315.6 L1305,315.9 L1308,316.1 L1311,315.8 L1314,315.6 L1317,317.0 L1320,316.3 L1323,317.2 L1326,316.8 L1329,317.1 L1332,317.4 L1335,317.6 L1338,318.1 L1341,318.0 L1344,317.7 L1347,318.3 L1350,317.9 L1353,319.0 L1356,318.3 L1359,318.7 L1362,319.1 L1365,318.9 L1368,319.7 L1371,319.7 L1374,319.3 L1377,319.5 L1380,320.0 L1383,319.9 L1386,320.0 L1389,319.5 L1392,319.8 L1395,319.7 L1395,334 L981,334Z" fill="#62becc"/><path d="M981,264.8 L984,265.1 L987,264.9 L990,265.3 L993,266.8 L996,266.9 L999,266.5 L1002,267.3 L1005,266.8 L1008,267.9 L1011,267.6 L1014,267.6 L1017,267.0 L1020,266.5 L1023,266.3 L1026,264.7 L1029,263.2 L1032,261.9 L1035,261.2 L1038,258.5 L1041,256.2 L1044,254.5 L1047,251.5 L1050,249.1 L1053,246.9 L1056,243.5 L1059,240.9 L1062,238.7 L1065,235.6 L1068,232.6 L1071,228.9 L1074,227.8 L1077,225.7 L1080,224.2 L1083,225.1 L1086,224.2 L1089,225.8 L1092,225.6 L1095,226.9 L1098,229.1 L1101,231.2 L1104,233.4 L1107,236.1 L1110,237.7 L1113,241.0 L1116,243.1 L1119,246.5 L1122,248.6 L1125,251.2 L1128,252.9 L1131,256.3 L1134,257.8 L1137,260.0 L1140,262.4 L1143,265.1 L1146,266.6 L1149,268.8 L1152,270.9 L1155,272.3 L1158,273.9 L1161,275.9 L1164,278.0 L1167,279.7 L1170,280.8 L1173,283.0 L1176,285.0 L1179,286.6 L1182,287.8 L1185,289.3 L1188,292.1 L1191,293.4 L1194,294.3 L1197,296.2 L1200,297.3 L1203,298.6 L1206,299.3 L1209,300.7 L1212,301.3 L1215,302.2 L1218,302.9 L1221,304.2 L1224,305.0 L1227,304.9 L1230,305.1 L1233,305.8 L1236,307.0 L1239,307.0 L1242,307.0 L1245,308.6 L1248,308.5 L1251,308.6 L1254,309.9 L1257,310.1 L1260,310.9 L1263,311.3 L1266,311.7 L1269,312.2 L1272,311.9 L1275,312.8 L1278,312.8 L1281,313.3 L1284,313.1 L1287,313.9 L1290,313.5 L1293,314.8 L1296,314.3 L1299,315.0 L1302,315.6 L1305,315.9 L1308,316.1 L1311,315.8 L1314,315.6 L1317,317.0 L1320,316.3 L1323,317.2 L1326,316.8 L1329,317.1 L1332,317.4 L1335,317.6 L1338,318.1 L1341,318.0 L1344,317.7 L1347,318.3 L1350,317.9 L1353,319.0 L1356,318.3 L1359,318.7 L1362,319.1 L1365,318.9 L1368,319.7 L1371,319.7 L1374,319.3 L1377,319.5 L1380,320.0 L1383,319.9 L1386,320.0 L1389,319.5 L1392,319.8 L1395,319.7" fill="none" stroke="#50b4d2" stroke-width="0.9" opacity="0.6"/><path d="M981,270.0 L984,269.3 L987,269.3 L990,270.2 L993,270.5 L996,270.4 L999,271.0 L1002,271.7 L1005,272.0 L1008,272.1 L1011,272.0 L1014,270.9 L1017,271.0 L1020,270.7 L1023,269.5 L1026,269.5 L1029,267.7 L1032,267.0 L1035,265.3 L1038,263.0 L1041,261.1 L1044,259.1 L1047,256.4 L1050,253.7 L1053,251.6 L1056,248.9 L1059,246.3 L1062,244.2 L1065,241.4 L1068,238.1 L1071,235.1 L1074,234.0 L1077,231.9 L1080,230.8 L1083,231.4 L1086,231.8 L1089,231.6 L1092,232.8 L1095,234.4 L1098,235.5 L1101,237.2 L1104,239.1 L1107,241.2 L1110,244.5 L1113,246.8 L1116,248.5 L1119,251.4 L1122,253.3 L1125,256.3 L1128,258.1 L1131,260.8 L1134,262.8 L1137,264.3 L1140,267.0 L1143,269.1 L1146,270.4 L1149,272.3 L1152,274.4 L1155,276.7 L1158,278.6 L1161,279.5 L1164,281.6 L1167,283.0 L1170,284.0 L1173,285.9 L1176,288.0 L1179,289.2 L1182,290.9 L1185,292.8 L1188,293.6 L1191,295.5 L1194,296.9 L1197,298.2 L1200,299.6 L1203,300.2 L1206,301.5 L1209,302.4 L1212,302.8 L1215,304.5 L1218,305.4 L1221,305.6 L1224,306.1 L1227,306.6 L1230,307.1 L1233,307.5 L1236,307.8 L1239,309.1 L1242,308.9 L1245,309.2 L1248,310.2 L1251,309.8 L1254,310.7 L1257,311.4 L1260,312.1 L1263,311.9 L1266,311.9 L1269,313.4 L1272,312.6 L1275,313.4 L1278,313.9 L1281,314.7 L1284,314.3 L1287,314.5 L1290,314.8 L1293,315.2 L1296,315.2 L1299,316.4 L1302,316.1 L1305,316.6 L1308,316.3 L1311,317.0 L1314,317.5 L1317,316.9 L1320,317.9 L1323,317.3 L1326,318.0 L1329,318.5 L1332,318.1 L1335,318.8 L1338,318.3 L1341,318.6 L1344,319.3 L1347,319.1 L1350,318.6 L1353,318.8 L1356,319.4 L1359,319.3 L1362,319.1 L1365,320.2 L1368,319.7 L1371,320.5 L1374,320.0 L1377,319.9 L1380,320.3 L1383,320.9 L1386,321.0 L1389,320.5 L1392,320.1 L1395,320.4 L1395,334 L981,334Z" fill="#69c2ca"/><path d="M981,270.0 L984,269.3 L987,269.3 L990,270.2 L993,270.5 L996,270.4 L999,271.0 L1002,271.7 L1005,272.0 L1008,272.1 L1011,272.0 L1014,270.9 L1017,271.0 L1020,270.7 L1023,269.5 L1026,269.5 L1029,267.7 L1032,267.0 L1035,265.3 L1038,263.0 L1041,261.1 L1044,259.1 L1047,256.4 L1050,253.7 L1053,251.6 L1056,248.9 L1059,246.3 L1062,244.2 L1065,241.4 L1068,238.1 L1071,235.1 L1074,234.0 L1077,231.9 L1080,230.8 L1083,231.4 L1086,231.8 L1089,231.6 L1092,232.8 L1095,234.4 L1098,235.5 L1101,237.2 L1104,239.1 L1107,241.2 L1110,244.5 L1113,246.8 L1116,248.5 L1119,251.4 L1122,253.3 L1125,256.3 L1128,258.1 L1131,260.8 L1134,262.8 L1137,264.3 L1140,267.0 L1143,269.1 L1146,270.4 L1149,272.3 L1152,274.4 L1155,276.7 L1158,278.6 L1161,279.5 L1164,281.6 L1167,283.0 L1170,284.0 L1173,285.9 L1176,288.0 L1179,289.2 L1182,290.9 L1185,292.8 L1188,293.6 L1191,295.5 L1194,296.9 L1197,298.2 L1200,299.6 L1203,300.2 L1206,301.5 L1209,302.4 L1212,302.8 L1215,304.5 L1218,305.4 L1221,305.6 L1224,306.1 L1227,306.6 L1230,307.1 L1233,307.5 L1236,307.8 L1239,309.1 L1242,308.9 L1245,309.2 L1248,310.2 L1251,309.8 L1254,310.7 L1257,311.4 L1260,312.1 L1263,311.9 L1266,311.9 L1269,313.4 L1272,312.6 L1275,313.4 L1278,313.9 L1281,314.7 L1284,314.3 L1287,314.5 L1290,314.8 L1293,315.2 L1296,315.2 L1299,316.4 L1302,316.1 L1305,316.6 L1308,316.3 L1311,317.0 L1314,317.5 L1317,316.9 L1320,317.9 L1323,317.3 L1326,318.0 L1329,318.5 L1332,318.1 L1335,318.8 L1338,318.3 L1341,318.6 L1344,319.3 L1347,319.1 L1350,318.6 L1353,318.8 L1356,319.4 L1359,319.3 L1362,319.1 L1365,320.2 L1368,319.7 L1371,320.5 L1374,320.0 L1377,319.9 L1380,320.3 L1383,320.9 L1386,321.0 L1389,320.5 L1392,320.1 L1395,320.4" fill="none" stroke="#57b8d0" stroke-width="0.9" opacity="0.6"/><path d="M981,274.4 L984,274.3 L987,274.7 L990,274.0 L993,274.9 L996,274.7 L999,275.7 L1002,275.4 L1005,275.8 L1008,276.0 L1011,275.2 L1014,275.0 L1017,275.5 L1020,275.1 L1023,274.0 L1026,272.6 L1029,271.5 L1032,271.1 L1035,269.5 L1038,267.5 L1041,266.0 L1044,264.1 L1047,260.9 L1050,259.4 L1053,257.3 L1056,254.8 L1059,252.3 L1062,249.3 L1065,246.9 L1068,243.7 L1071,242.1 L1074,240.0 L1077,238.4 L1080,237.2 L1083,237.2 L1086,237.6 L1089,238.8 L1092,239.1 L1095,240.7 L1098,241.3 L1101,243.1 L1104,245.1 L1107,247.3 L1110,250.0 L1113,251.8 L1116,254.0 L1119,256.6 L1122,258.6 L1125,261.3 L1128,263.2 L1131,265.5 L1134,267.1 L1137,269.0 L1140,271.1 L1143,273.6 L1146,275.4 L1149,276.8 L1152,278.4 L1155,279.5 L1158,282.0 L1161,283.1 L1164,284.4 L1167,285.5 L1170,287.4 L1173,289.2 L1176,290.2 L1179,291.7 L1182,293.6 L1185,295.0 L1188,295.9 L1191,297.3 L1194,299.0 L1197,300.6 L1200,301.3 L1203,301.9 L1206,303.1 L1209,303.9 L1212,305.4 L1215,305.5 L1218,307.1 L1221,306.9 L1224,307.4 L1227,307.7 L1230,308.7 L1233,309.1 L1236,309.9 L1239,310.2 L1242,310.5 L1245,310.3 L1248,311.8 L1251,311.4 L1254,311.8 L1257,312.1 L1260,313.0 L1263,313.4 L1266,313.4 L1269,313.6 L1272,313.7 L1275,314.7 L1278,315.1 L1281,314.7 L1284,315.1 L1287,316.0 L1290,316.3 L1293,315.8 L1296,317.1 L1299,317.0 L1302,317.3 L1305,317.0 L1308,318.0 L1311,317.6 L1314,318.0 L1317,318.6 L1320,318.6 L1323,318.0 L1326,318.1 L1329,318.3 L1332,318.4 L1335,319.5 L1338,319.2 L1341,319.3 L1344,319.4 L1347,319.7 L1350,319.7 L1353,320.2 L1356,320.0 L1359,320.6 L1362,320.7 L1365,320.8 L1368,320.8 L1371,320.2 L1374,320.6 L1377,321.3 L1380,320.8 L1383,321.2 L1386,320.7 L1389,321.4 L1392,320.8 L1395,320.8 L1395,334 L981,334Z" fill="#70c6c8"/><path d="M981,274.4 L984,274.3 L987,274.7 L990,274.0 L993,274.9 L996,274.7 L999,275.7 L1002,275.4 L1005,275.8 L1008,276.0 L1011,275.2 L1014,275.0 L1017,275.5 L1020,275.1 L1023,274.0 L1026,272.6 L1029,271.5 L1032,271.1 L1035,269.5 L1038,267.5 L1041,266.0 L1044,264.1 L1047,260.9 L1050,259.4 L1053,257.3 L1056,254.8 L1059,252.3 L1062,249.3 L1065,246.9 L1068,243.7 L1071,242.1 L1074,240.0 L1077,238.4 L1080,237.2 L1083,237.2 L1086,237.6 L1089,238.8 L1092,239.1 L1095,240.7 L1098,241.3 L1101,243.1 L1104,245.1 L1107,247.3 L1110,250.0 L1113,251.8 L1116,254.0 L1119,256.6 L1122,258.6 L1125,261.3 L1128,263.2 L1131,265.5 L1134,267.1 L1137,269.0 L1140,271.1 L1143,273.6 L1146,275.4 L1149,276.8 L1152,278.4 L1155,279.5 L1158,282.0 L1161,283.1 L1164,284.4 L1167,285.5 L1170,287.4 L1173,289.2 L1176,290.2 L1179,291.7 L1182,293.6 L1185,295.0 L1188,295.9 L1191,297.3 L1194,299.0 L1197,300.6 L1200,301.3 L1203,301.9 L1206,303.1 L1209,303.9 L1212,305.4 L1215,305.5 L1218,307.1 L1221,306.9 L1224,307.4 L1227,307.7 L1230,308.7 L1233,309.1 L1236,309.9 L1239,310.2 L1242,310.5 L1245,310.3 L1248,311.8 L1251,311.4 L1254,311.8 L1257,312.1 L1260,313.0 L1263,313.4 L1266,313.4 L1269,313.6 L1272,313.7 L1275,314.7 L1278,315.1 L1281,314.7 L1284,315.1 L1287,316.0 L1290,316.3 L1293,315.8 L1296,317.1 L1299,317.0 L1302,317.3 L1305,317.0 L1308,318.0 L1311,317.6 L1314,318.0 L1317,318.6 L1320,318.6 L1323,318.0 L1326,318.1 L1329,318.3 L1332,318.4 L1335,319.5 L1338,319.2 L1341,319.3 L1344,319.4 L1347,319.7 L1350,319.7 L1353,320.2 L1356,320.0 L1359,320.6 L1362,320.7 L1365,320.8 L1368,320.8 L1371,320.2 L1374,320.6 L1377,321.3 L1380,320.8 L1383,321.2 L1386,320.7 L1389,321.4 L1392,320.8 L1395,320.8" fill="none" stroke="#5ebcce" stroke-width="0.9" opacity="0.6"/><path d="M981,277.7 L984,277.9 L987,277.8 L990,278.3 L993,279.2 L996,279.1 L999,279.5 L1002,279.9 L1005,279.0 L1008,279.9 L1011,279.9 L1014,279.5 L1017,278.8 L1020,278.2 L1023,277.8 L1026,276.9 L1029,275.7 L1032,275.0 L1035,273.5 L1038,271.5 L1041,269.6 L1044,268.1 L1047,266.2 L1050,264.0 L1053,261.7 L1056,259.8 L1059,257.3 L1062,254.6 L1065,252.5 L1068,250.0 L1071,247.4 L1074,245.4 L1077,244.4 L1080,244.1 L1083,244.0 L1086,243.7 L1089,244.5 L1092,244.7 L1095,246.4 L1098,247.6 L1101,249.6 L1104,251.5 L1107,252.6 L1110,255.7 L1113,256.8 L1116,259.8 L1119,262.0 L1122,263.2 L1125,265.3 L1128,267.1 L1131,270.0 L1134,271.8 L1137,273.9 L1140,275.5 L1143,276.8 L1146,279.1 L1149,280.2 L1152,281.8 L1155,283.4 L1158,285.2 L1161,286.1 L1164,287.7 L1167,289.1 L1170,290.7 L1173,291.7 L1176,293.1 L1179,294.7 L1182,296.0 L1185,297.8 L1188,298.4 L1191,299.7 L1194,300.8 L1197,302.3 L1200,303.8 L1203,304.5 L1206,305.4 L1209,306.6 L1212,307.2 L1215,307.3 L1218,307.8 L1221,308.8 L1224,308.9 L1227,309.8 L1230,309.6 L1233,310.4 L1236,311.2 L1239,311.0 L1242,311.3 L1245,312.4 L1248,312.2 L1251,313.4 L1254,313.4 L1257,314.1 L1260,314.1 L1263,314.4 L1266,314.4 L1269,314.5 L1272,315.8 L1275,315.3 L1278,315.4 L1281,316.6 L1284,316.5 L1287,316.8 L1290,317.4 L1293,317.4 L1296,317.1 L1299,317.4 L1302,318.0 L1305,318.3 L1308,317.9 L1311,318.1 L1314,318.6 L1317,318.3 L1320,319.3 L1323,319.3 L1326,318.9 L1329,319.5 L1332,319.7 L1335,319.2 L1338,319.8 L1341,320.4 L1344,320.1 L1347,320.6 L1350,320.2 L1353,321.2 L1356,320.9 L1359,320.9 L1362,320.4 L1365,320.9 L1368,320.6 L1371,321.2 L1374,321.0 L1377,321.1 L1380,321.3 L1383,321.2 L1386,321.4 L1389,321.7 L1392,321.2 L1395,321.7 L1395,334 L981,334Z" fill="#77cac5"/><path d="M981,277.7 L984,277.9 L987,277.8 L990,278.3 L993,279.2 L996,279.1 L999,279.5 L1002,279.9 L1005,279.0 L1008,279.9 L1011,279.9 L1014,279.5 L1017,278.8 L1020,278.2 L1023,277.8 L1026,276.9 L1029,275.7 L1032,275.0 L1035,273.5 L1038,271.5 L1041,269.6 L1044,268.1 L1047,266.2 L1050,264.0 L1053,261.7 L1056,259.8 L1059,257.3 L1062,254.6 L1065,252.5 L1068,250.0 L1071,247.4 L1074,245.4 L1077,244.4 L1080,244.1 L1083,244.0 L1086,243.7 L1089,244.5 L1092,244.7 L1095,246.4 L1098,247.6 L1101,249.6 L1104,251.5 L1107,252.6 L1110,255.7 L1113,256.8 L1116,259.8 L1119,262.0 L1122,263.2 L1125,265.3 L1128,267.1 L1131,270.0 L1134,271.8 L1137,273.9 L1140,275.5 L1143,276.8 L1146,279.1 L1149,280.2 L1152,281.8 L1155,283.4 L1158,285.2 L1161,286.1 L1164,287.7 L1167,289.1 L1170,290.7 L1173,291.7 L1176,293.1 L1179,294.7 L1182,296.0 L1185,297.8 L1188,298.4 L1191,299.7 L1194,300.8 L1197,302.3 L1200,303.8 L1203,304.5 L1206,305.4 L1209,306.6 L1212,307.2 L1215,307.3 L1218,307.8 L1221,308.8 L1224,308.9 L1227,309.8 L1230,309.6 L1233,310.4 L1236,311.2 L1239,311.0 L1242,311.3 L1245,312.4 L1248,312.2 L1251,313.4 L1254,313.4 L1257,314.1 L1260,314.1 L1263,314.4 L1266,314.4 L1269,314.5 L1272,315.8 L1275,315.3 L1278,315.4 L1281,316.6 L1284,316.5 L1287,316.8 L1290,317.4 L1293,317.4 L1296,317.1 L1299,317.4 L1302,318.0 L1305,318.3 L1308,317.9 L1311,318.1 L1314,318.6 L1317,318.3 L1320,319.3 L1323,319.3 L1326,318.9 L1329,319.5 L1332,319.7 L1335,319.2 L1338,319.8 L1341,320.4 L1344,320.1 L1347,320.6 L1350,320.2 L1353,321.2 L1356,320.9 L1359,320.9 L1362,320.4 L1365,320.9 L1368,320.6 L1371,321.2 L1374,321.0 L1377,321.1 L1380,321.3 L1383,321.2 L1386,321.4 L1389,321.7 L1392,321.2 L1395,321.7" fill="none" stroke="#65c0cb" stroke-width="0.9" opacity="0.6"/><path d="M981,281.8 L984,282.5 L987,281.9 L990,282.9 L993,282.4 L996,283.0 L999,283.2 L1002,282.8 L1005,283.2 L1008,283.3 L1011,282.9 L1014,283.0 L1017,282.8 L1020,282.8 L1023,281.4 L1026,280.4 L1029,279.8 L1032,278.7 L1035,277.2 L1038,276.2 L1041,273.8 L1044,272.3 L1047,270.3 L1050,267.9 L1053,266.1 L1056,264.0 L1059,261.8 L1062,260.0 L1065,258.0 L1068,255.8 L1071,252.9 L1074,251.4 L1077,250.9 L1080,249.3 L1083,249.2 L1086,249.4 L1089,250.9 L1092,251.1 L1095,252.0 L1098,252.9 L1101,255.3 L1104,257.2 L1107,258.7 L1110,260.8 L1113,262.3 L1116,264.0 L1119,265.8 L1122,267.9 L1125,269.6 L1128,271.8 L1131,273.2 L1134,275.1 L1137,277.8 L1140,279.4 L1143,281.1 L1146,282.2 L1149,283.9 L1152,285.5 L1155,287.2 L1158,287.9 L1161,289.5 L1164,290.8 L1167,292.4 L1170,293.1 L1173,294.0 L1176,295.7 L1179,297.6 L1182,298.2 L1185,300.0 L1188,300.6 L1191,302.0 L1194,303.5 L1197,303.9 L1200,305.3 L1203,306.4 L1206,306.9 L1209,308.1 L1212,308.9 L1215,308.9 L1218,310.0 L1221,310.5 L1224,310.8 L1227,311.2 L1230,311.6 L1233,312.2 L1236,312.5 L1239,312.4 L1242,313.2 L1245,313.6 L1248,313.7 L1251,314.6 L1254,314.2 L1257,314.9 L1260,315.2 L1263,315.5 L1266,315.4 L1269,316.2 L1272,315.8 L1275,316.6 L1278,316.8 L1281,317.3 L1284,317.7 L1287,318.1 L1290,317.5 L1293,318.5 L1296,318.2 L1299,318.5 L1302,318.1 L1305,319.3 L1308,318.7 L1311,319.0 L1314,319.2 L1317,319.2 L1320,319.4 L1323,319.6 L1326,320.0 L1329,320.0 L1332,320.6 L1335,320.9 L1338,321.0 L1341,320.6 L1344,321.0 L1347,321.2 L1350,321.3 L1353,321.1 L1356,321.0 L1359,321.7 L1362,321.7 L1365,321.5 L1368,321.9 L1371,321.3 L1374,322.2 L1377,322.5 L1380,322.6 L1383,321.8 L1386,322.5 L1389,322.6 L1392,321.9 L1395,322.4 L1395,334 L981,334Z" fill="#7fcdc3"/><path d="M981,281.8 L984,282.5 L987,281.9 L990,282.9 L993,282.4 L996,283.0 L999,283.2 L1002,282.8 L1005,283.2 L1008,283.3 L1011,282.9 L1014,283.0 L1017,282.8 L1020,282.8 L1023,281.4 L1026,280.4 L1029,279.8 L1032,278.7 L1035,277.2 L1038,276.2 L1041,273.8 L1044,272.3 L1047,270.3 L1050,267.9 L1053,266.1 L1056,264.0 L1059,261.8 L1062,260.0 L1065,258.0 L1068,255.8 L1071,252.9 L1074,251.4 L1077,250.9 L1080,249.3 L1083,249.2 L1086,249.4 L1089,250.9 L1092,251.1 L1095,252.0 L1098,252.9 L1101,255.3 L1104,257.2 L1107,258.7 L1110,260.8 L1113,262.3 L1116,264.0 L1119,265.8 L1122,267.9 L1125,269.6 L1128,271.8 L1131,273.2 L1134,275.1 L1137,277.8 L1140,279.4 L1143,281.1 L1146,282.2 L1149,283.9 L1152,285.5 L1155,287.2 L1158,287.9 L1161,289.5 L1164,290.8 L1167,292.4 L1170,293.1 L1173,294.0 L1176,295.7 L1179,297.6 L1182,298.2 L1185,300.0 L1188,300.6 L1191,302.0 L1194,303.5 L1197,303.9 L1200,305.3 L1203,306.4 L1206,306.9 L1209,308.1 L1212,308.9 L1215,308.9 L1218,310.0 L1221,310.5 L1224,310.8 L1227,311.2 L1230,311.6 L1233,312.2 L1236,312.5 L1239,312.4 L1242,313.2 L1245,313.6 L1248,313.7 L1251,314.6 L1254,314.2 L1257,314.9 L1260,315.2 L1263,315.5 L1266,315.4 L1269,316.2 L1272,315.8 L1275,316.6 L1278,316.8 L1281,317.3 L1284,317.7 L1287,318.1 L1290,317.5 L1293,318.5 L1296,318.2 L1299,318.5 L1302,318.1 L1305,319.3 L1308,318.7 L1311,319.0 L1314,319.2 L1317,319.2 L1320,319.4 L1323,319.6 L1326,320.0 L1329,320.0 L1332,320.6 L1335,320.9 L1338,321.0 L1341,320.6 L1344,321.0 L1347,321.2 L1350,321.3 L1353,321.1 L1356,321.0 L1359,321.7 L1362,321.7 L1365,321.5 L1368,321.9 L1371,321.3 L1374,322.2 L1377,322.5 L1380,322.6 L1383,321.8 L1386,322.5 L1389,322.6 L1392,321.9 L1395,322.4" fill="none" stroke="#6dc4c9" stroke-width="0.9" opacity="0.6"/><path d="M981,286.1 L984,286.0 L987,286.1 L990,285.8 L993,286.5 L996,287.0 L999,286.3 L1002,286.8 L1005,287.1 L1008,286.9 L1011,286.5 L1014,286.2 L1017,286.5 L1020,286.2 L1023,285.6 L1026,284.2 L1029,283.7 L1032,282.6 L1035,280.9 L1038,279.9 L1041,277.9 L1044,276.0 L1047,273.9 L1050,272.8 L1053,270.9 L1056,268.1 L1059,266.1 L1062,264.4 L1065,262.2 L1068,260.7 L1071,258.2 L1074,257.2 L1077,256.1 L1080,255.3 L1083,255.8 L1086,255.5 L1089,256.0 L1092,256.9 L1095,257.6 L1098,258.5 L1101,260.8 L1104,262.2 L1107,263.6 L1110,265.3 L1113,267.2 L1116,268.7 L1119,270.3 L1122,272.6 L1125,274.8 L1128,275.7 L1131,278.4 L1134,279.4 L1137,281.7 L1140,283.1 L1143,284.1 L1146,285.6 L1149,287.8 L1152,289.3 L1155,290.4 L1158,291.4 L1161,292.5 L1164,293.9 L1167,295.2 L1170,296.4 L1173,296.9 L1176,298.8 L1179,300.1 L1182,301.0 L1185,301.5 L1188,302.9 L1191,304.5 L1194,305.3 L1197,306.8 L1200,307.4 L1203,308.2 L1206,308.4 L1209,309.4 L1212,310.3 L1215,311.1 L1218,311.6 L1221,311.4 L1224,312.1 L1227,313.0 L1230,312.4 L1233,312.7 L1236,313.2 L1239,314.1 L1242,314.0 L1245,314.8 L1248,315.3 L1251,315.6 L1254,315.0 L1257,316.1 L1260,316.5 L1263,316.7 L1266,317.1 L1269,317.3 L1272,317.4 L1275,317.9 L1278,317.8 L1281,317.5 L1284,318.0 L1287,318.9 L1290,318.5 L1293,318.8 L1296,319.5 L1299,319.5 L1302,319.8 L1305,319.6 L1308,319.8 L1311,319.5 L1314,319.8 L1317,319.9 L1320,320.4 L1323,320.6 L1326,320.2 L1329,320.9 L1332,320.5 L1335,320.9 L1338,320.7 L1341,321.3 L1344,321.1 L1347,322.1 L1350,321.5 L1353,322.2 L1356,321.8 L1359,321.8 L1362,322.5 L1365,321.9 L1368,322.3 L1371,322.5 L1374,323.0 L1377,322.8 L1380,322.1 L1383,322.7 L1386,323.3 L1389,323.2 L1392,322.7 L1395,322.4 L1395,334 L981,334Z" fill="#86d0c0"/><path d="M981,286.1 L984,286.0 L987,286.1 L990,285.8 L993,286.5 L996,287.0 L999,286.3 L1002,286.8 L1005,287.1 L1008,286.9 L1011,286.5 L1014,286.2 L1017,286.5 L1020,286.2 L1023,285.6 L1026,284.2 L1029,283.7 L1032,282.6 L1035,280.9 L1038,279.9 L1041,277.9 L1044,276.0 L1047,273.9 L1050,272.8 L1053,270.9 L1056,268.1 L1059,266.1 L1062,264.4 L1065,262.2 L1068,260.7 L1071,258.2 L1074,257.2 L1077,256.1 L1080,255.3 L1083,255.8 L1086,255.5 L1089,256.0 L1092,256.9 L1095,257.6 L1098,258.5 L1101,260.8 L1104,262.2 L1107,263.6 L1110,265.3 L1113,267.2 L1116,268.7 L1119,270.3 L1122,272.6 L1125,274.8 L1128,275.7 L1131,278.4 L1134,279.4 L1137,281.7 L1140,283.1 L1143,284.1 L1146,285.6 L1149,287.8 L1152,289.3 L1155,290.4 L1158,291.4 L1161,292.5 L1164,293.9 L1167,295.2 L1170,296.4 L1173,296.9 L1176,298.8 L1179,300.1 L1182,301.0 L1185,301.5 L1188,302.9 L1191,304.5 L1194,305.3 L1197,306.8 L1200,307.4 L1203,308.2 L1206,308.4 L1209,309.4 L1212,310.3 L1215,311.1 L1218,311.6 L1221,311.4 L1224,312.1 L1227,313.0 L1230,312.4 L1233,312.7 L1236,313.2 L1239,314.1 L1242,314.0 L1245,314.8 L1248,315.3 L1251,315.6 L1254,315.0 L1257,316.1 L1260,316.5 L1263,316.7 L1266,317.1 L1269,317.3 L1272,317.4 L1275,317.9 L1278,317.8 L1281,317.5 L1284,318.0 L1287,318.9 L1290,318.5 L1293,318.8 L1296,319.5 L1299,319.5 L1302,319.8 L1305,319.6 L1308,319.8 L1311,319.5 L1314,319.8 L1317,319.9 L1320,320.4 L1323,320.6 L1326,320.2 L1329,320.9 L1332,320.5 L1335,320.9 L1338,320.7 L1341,321.3 L1344,321.1 L1347,322.1 L1350,321.5 L1353,322.2 L1356,321.8 L1359,321.8 L1362,322.5 L1365,321.9 L1368,322.3 L1371,322.5 L1374,323.0 L1377,322.8 L1380,322.1 L1383,322.7 L1386,323.3 L1389,323.2 L1392,322.7 L1395,322.4" fill="none" stroke="#74c8c6" stroke-width="0.9" opacity="0.6"/><path d="M981,289.7 L984,289.8 L987,290.1 L990,290.2 L993,289.7 L996,289.7 L999,290.1 L1002,290.2 L1005,290.0 L1008,290.5 L1011,290.4 L1014,290.1 L1017,289.6 L1020,289.4 L1023,288.2 L1026,288.1 L1029,286.4 L1032,286.2 L1035,284.7 L1038,283.0 L1041,281.4 L1044,280.3 L1047,278.4 L1050,276.9 L1053,274.4 L1056,273.4 L1059,271.1 L1062,269.2 L1065,267.6 L1068,265.5 L1071,263.7 L1074,262.1 L1077,261.3 L1080,260.4 L1083,260.5 L1086,261.4 L1089,261.0 L1092,261.7 L1095,263.4 L1098,264.0 L1101,265.4 L1104,267.0 L1107,268.7 L1110,269.9 L1113,272.1 L1116,272.9 L1119,275.5 L1122,276.6 L1125,278.6 L1128,279.9 L1131,282.0 L1134,283.2 L1137,285.0 L1140,286.2 L1143,288.2 L1146,289.6 L1149,290.3 L1152,292.2 L1155,293.6 L1158,294.0 L1161,295.0 L1164,296.9 L1167,298.0 L1170,298.2 L1173,300.0 L1176,301.3 L1179,301.7 L1182,303.4 L1185,304.0 L1188,305.6 L1191,306.3 L1194,307.2 L1197,307.7 L1200,309.1 L1203,309.9 L1206,310.2 L1209,310.5 L1212,311.1 L1215,311.8 L1218,313.1 L1221,313.3 L1224,313.9 L1227,314.1 L1230,313.7 L1233,314.3 L1236,315.2 L1239,315.4 L1242,315.9 L1245,316.0 L1248,316.2 L1251,316.6 L1254,317.1 L1257,316.8 L1260,316.7 L1263,317.2 L1266,317.1 L1269,317.7 L1272,318.3 L1275,318.1 L1278,318.3 L1281,318.4 L1284,318.9 L1287,319.3 L1290,319.6 L1293,320.1 L1296,319.4 L1299,319.8 L1302,319.7 L1305,320.8 L1308,320.7 L1311,320.8 L1314,321.1 L1317,320.4 L1320,321.5 L1323,321.0 L1326,321.5 L1329,321.3 L1332,321.8 L1335,321.5 L1338,321.6 L1341,321.7 L1344,322.3 L1347,322.1 L1350,321.9 L1353,322.2 L1356,322.5 L1359,322.4 L1362,322.7 L1365,323.1 L1368,323.0 L1371,323.2 L1374,322.8 L1377,323.5 L1380,323.6 L1383,323.3 L1386,322.8 L1389,322.9 L1392,323.7 L1395,323.8 L1395,334 L981,334Z" fill="#8dd3be"/><path d="M981,289.7 L984,289.8 L987,290.1 L990,290.2 L993,289.7 L996,289.7 L999,290.1 L1002,290.2 L1005,290.0 L1008,290.5 L1011,290.4 L1014,290.1 L1017,289.6 L1020,289.4 L1023,288.2 L1026,288.1 L1029,286.4 L1032,286.2 L1035,284.7 L1038,283.0 L1041,281.4 L1044,280.3 L1047,278.4 L1050,276.9 L1053,274.4 L1056,273.4 L1059,271.1 L1062,269.2 L1065,267.6 L1068,265.5 L1071,263.7 L1074,262.1 L1077,261.3 L1080,260.4 L1083,260.5 L1086,261.4 L1089,261.0 L1092,261.7 L1095,263.4 L1098,264.0 L1101,265.4 L1104,267.0 L1107,268.7 L1110,269.9 L1113,272.1 L1116,272.9 L1119,275.5 L1122,276.6 L1125,278.6 L1128,279.9 L1131,282.0 L1134,283.2 L1137,285.0 L1140,286.2 L1143,288.2 L1146,289.6 L1149,290.3 L1152,292.2 L1155,293.6 L1158,294.0 L1161,295.0 L1164,296.9 L1167,298.0 L1170,298.2 L1173,300.0 L1176,301.3 L1179,301.7 L1182,303.4 L1185,304.0 L1188,305.6 L1191,306.3 L1194,307.2 L1197,307.7 L1200,309.1 L1203,309.9 L1206,310.2 L1209,310.5 L1212,311.1 L1215,311.8 L1218,313.1 L1221,313.3 L1224,313.9 L1227,314.1 L1230,313.7 L1233,314.3 L1236,315.2 L1239,315.4 L1242,315.9 L1245,316.0 L1248,316.2 L1251,316.6 L1254,317.1 L1257,316.8 L1260,316.7 L1263,317.2 L1266,317.1 L1269,317.7 L1272,318.3 L1275,318.1 L1278,318.3 L1281,318.4 L1284,318.9 L1287,319.3 L1290,319.6 L1293,320.1 L1296,319.4 L1299,319.8 L1302,319.7 L1305,320.8 L1308,320.7 L1311,320.8 L1314,321.1 L1317,320.4 L1320,321.5 L1323,321.0 L1326,321.5 L1329,321.3 L1332,321.8 L1335,321.5 L1338,321.6 L1341,321.7 L1344,322.3 L1347,322.1 L1350,321.9 L1353,322.2 L1356,322.5 L1359,322.4 L1362,322.7 L1365,323.1 L1368,323.0 L1371,323.2 L1374,322.8 L1377,323.5 L1380,323.6 L1383,323.3 L1386,322.8 L1389,322.9 L1392,323.7 L1395,323.8" fill="none" stroke="#7bccc4" stroke-width="0.9" opacity="0.6"/><path d="M981,292.6 L984,292.7 L987,293.2 L990,293.1 L993,293.3 L996,293.0 L999,293.2 L1002,293.2 L1005,293.9 L1008,292.9 L1011,293.2 L1014,293.5 L1017,292.9 L1020,292.1 L1023,292.3 L1026,290.6 L1029,289.8 L1032,288.6 L1035,287.9 L1038,287.1 L1041,285.1 L1044,283.6 L1047,282.6 L1050,280.1 L1053,278.4 L1056,277.4 L1059,275.0 L1062,273.7 L1065,271.6 L1068,270.3 L1071,269.0 L1074,267.3 L1077,266.3 L1080,266.2 L1083,266.2 L1086,265.7 L1089,266.4 L1092,267.1 L1095,268.1 L1098,268.9 L1101,270.5 L1104,271.4 L1107,273.6 L1110,274.5 L1113,275.9 L1116,277.3 L1119,278.9 L1122,280.5 L1125,282.8 L1128,283.8 L1131,285.4 L1134,287.4 L1137,288.8 L1140,290.0 L1143,290.9 L1146,292.3 L1149,293.8 L1152,294.7 L1155,295.9 L1158,296.8 L1161,297.8 L1164,299.4 L1167,300.2 L1170,301.0 L1173,302.1 L1176,303.3 L1179,304.4 L1182,304.7 L1185,306.6 L1188,307.2 L1191,308.0 L1194,309.6 L1197,310.2 L1200,310.5 L1203,310.8 L1206,311.9 L1209,312.4 L1212,312.9 L1215,313.1 L1218,314.0 L1221,314.1 L1224,315.0 L1227,315.1 L1230,315.1 L1233,316.0 L1236,315.8 L1239,315.7 L1242,316.2 L1245,316.3 L1248,317.0 L1251,317.8 L1254,318.1 L1257,318.0 L1260,317.7 L1263,318.1 L1266,318.3 L1269,318.7 L1272,319.2 L1275,318.7 L1278,319.4 L1281,319.6 L1284,320.0 L1287,320.4 L1290,320.1 L1293,320.5 L1296,320.3 L1299,320.7 L1302,321.1 L1305,320.6 L1308,321.2 L1311,321.3 L1314,321.1 L1317,321.3 L1320,322.1 L1323,321.7 L1326,321.6 L1329,321.8 L1332,322.2 L1335,322.2 L1338,322.2 L1341,322.3 L1344,322.3 L1347,322.7 L1350,322.9 L1353,322.5 L1356,323.1 L1359,322.9 L1362,323.7 L1365,323.7 L1368,322.9 L1371,323.6 L1374,323.3 L1377,323.1 L1380,324.1 L1383,324.2 L1386,324.1 L1389,324.0 L1392,324.5 L1395,324.0 L1395,334 L981,334Z" fill="#94d5bc"/><path d="M981,292.6 L984,292.7 L987,293.2 L990,293.1 L993,293.3 L996,293.0 L999,293.2 L1002,293.2 L1005,293.9 L1008,292.9 L1011,293.2 L1014,293.5 L1017,292.9 L1020,292.1 L1023,292.3 L1026,290.6 L1029,289.8 L1032,288.6 L1035,287.9 L1038,287.1 L1041,285.1 L1044,283.6 L1047,282.6 L1050,280.1 L1053,278.4 L1056,277.4 L1059,275.0 L1062,273.7 L1065,271.6 L1068,270.3 L1071,269.0 L1074,267.3 L1077,266.3 L1080,266.2 L1083,266.2 L1086,265.7 L1089,266.4 L1092,267.1 L1095,268.1 L1098,268.9 L1101,270.5 L1104,271.4 L1107,273.6 L1110,274.5 L1113,275.9 L1116,277.3 L1119,278.9 L1122,280.5 L1125,282.8 L1128,283.8 L1131,285.4 L1134,287.4 L1137,288.8 L1140,290.0 L1143,290.9 L1146,292.3 L1149,293.8 L1152,294.7 L1155,295.9 L1158,296.8 L1161,297.8 L1164,299.4 L1167,300.2 L1170,301.0 L1173,302.1 L1176,303.3 L1179,304.4 L1182,304.7 L1185,306.6 L1188,307.2 L1191,308.0 L1194,309.6 L1197,310.2 L1200,310.5 L1203,310.8 L1206,311.9 L1209,312.4 L1212,312.9 L1215,313.1 L1218,314.0 L1221,314.1 L1224,315.0 L1227,315.1 L1230,315.1 L1233,316.0 L1236,315.8 L1239,315.7 L1242,316.2 L1245,316.3 L1248,317.0 L1251,317.8 L1254,318.1 L1257,318.0 L1260,317.7 L1263,318.1 L1266,318.3 L1269,318.7 L1272,319.2 L1275,318.7 L1278,319.4 L1281,319.6 L1284,320.0 L1287,320.4 L1290,320.1 L1293,320.5 L1296,320.3 L1299,320.7 L1302,321.1 L1305,320.6 L1308,321.2 L1311,321.3 L1314,321.1 L1317,321.3 L1320,322.1 L1323,321.7 L1326,321.6 L1329,321.8 L1332,322.2 L1335,322.2 L1338,322.2 L1341,322.3 L1344,322.3 L1347,322.7 L1350,322.9 L1353,322.5 L1356,323.1 L1359,322.9 L1362,323.7 L1365,323.7 L1368,322.9 L1371,323.6 L1374,323.3 L1377,323.1 L1380,324.1 L1383,324.2 L1386,324.1 L1389,324.0 L1392,324.5 L1395,324.0" fill="none" stroke="#82cec2" stroke-width="0.9" opacity="0.6"/><path d="M981,296.4 L984,296.5 L987,296.3 L990,296.9 L993,296.8 L996,296.2 L999,296.0 L1002,297.0 L1005,296.4 L1008,296.0 L1011,296.0 L1014,296.4 L1017,295.5 L1020,295.3 L1023,295.1 L1026,294.0 L1029,293.5 L1032,292.8 L1035,291.5 L1038,290.2 L1041,288.9 L1044,287.2 L1047,286.0 L1050,284.5 L1053,282.8 L1056,281.2 L1059,279.8 L1062,277.6 L1065,276.5 L1068,275.2 L1071,272.8 L1074,271.9 L1077,271.9 L1080,270.5 L1083,271.3 L1086,271.2 L1089,271.1 L1092,272.3 L1095,272.4 L1098,274.3 L1101,274.8 L1104,276.7 L1107,278.0 L1110,278.6 L1113,280.3 L1116,281.5 L1119,283.5 L1122,284.3 L1125,285.7 L1128,287.2 L1131,289.3 L1134,290.1 L1137,291.5 L1140,292.9 L1143,294.3 L1146,295.5 L1149,297.2 L1152,297.7 L1155,298.8 L1158,300.2 L1161,300.5 L1164,301.3 L1167,302.9 L1170,303.3 L1173,304.8 L1176,305.7 L1179,306.2 L1182,307.1 L1185,307.8 L1188,309.5 L1191,309.9 L1194,310.6 L1197,311.2 L1200,311.9 L1203,313.3 L1206,313.0 L1209,314.0 L1212,314.5 L1215,314.8 L1218,315.2 L1221,315.5 L1224,315.6 L1227,316.6 L1230,316.9 L1233,316.8 L1236,316.7 L1239,317.7 L1242,317.2 L1245,317.4 L1248,318.2 L1251,318.7 L1254,318.6 L1257,318.4 L1260,319.5 L1263,318.9 L1266,319.3 L1269,320.2 L1272,320.2 L1275,320.3 L1278,319.8 L1281,320.8 L1284,320.5 L1287,320.3 L1290,321.3 L1293,321.6 L1296,320.8 L1299,321.4 L1302,322.0 L1305,321.6 L1308,321.7 L1311,322.3 L1314,322.0 L1317,322.7 L1320,322.7 L1323,322.8 L1326,322.8 L1329,322.3 L1332,322.9 L1335,322.9 L1338,322.9 L1341,323.1 L1344,323.0 L1347,322.9 L1350,323.8 L1353,323.3 L1356,323.1 L1359,324.1 L1362,323.7 L1365,323.9 L1368,323.6 L1371,323.5 L1374,323.8 L1377,324.4 L1380,323.9 L1383,324.6 L1386,324.1 L1389,324.8 L1392,324.1 L1395,324.4 L1395,334 L981,334Z" fill="#9bd8b9"/><path d="M981,296.4 L984,296.5 L987,296.3 L990,296.9 L993,296.8 L996,296.2 L999,296.0 L1002,297.0 L1005,296.4 L1008,296.0 L1011,296.0 L1014,296.4 L1017,295.5 L1020,295.3 L1023,295.1 L1026,294.0 L1029,293.5 L1032,292.8 L1035,291.5 L1038,290.2 L1041,288.9 L1044,287.2 L1047,286.0 L1050,284.5 L1053,282.8 L1056,281.2 L1059,279.8 L1062,277.6 L1065,276.5 L1068,275.2 L1071,272.8 L1074,271.9 L1077,271.9 L1080,270.5 L1083,271.3 L1086,271.2 L1089,271.1 L1092,272.3 L1095,272.4 L1098,274.3 L1101,274.8 L1104,276.7 L1107,278.0 L1110,278.6 L1113,280.3 L1116,281.5 L1119,283.5 L1122,284.3 L1125,285.7 L1128,287.2 L1131,289.3 L1134,290.1 L1137,291.5 L1140,292.9 L1143,294.3 L1146,295.5 L1149,297.2 L1152,297.7 L1155,298.8 L1158,300.2 L1161,300.5 L1164,301.3 L1167,302.9 L1170,303.3 L1173,304.8 L1176,305.7 L1179,306.2 L1182,307.1 L1185,307.8 L1188,309.5 L1191,309.9 L1194,310.6 L1197,311.2 L1200,311.9 L1203,313.3 L1206,313.0 L1209,314.0 L1212,314.5 L1215,314.8 L1218,315.2 L1221,315.5 L1224,315.6 L1227,316.6 L1230,316.9 L1233,316.8 L1236,316.7 L1239,317.7 L1242,317.2 L1245,317.4 L1248,318.2 L1251,318.7 L1254,318.6 L1257,318.4 L1260,319.5 L1263,318.9 L1266,319.3 L1269,320.2 L1272,320.2 L1275,320.3 L1278,319.8 L1281,320.8 L1284,320.5 L1287,320.3 L1290,321.3 L1293,321.6 L1296,320.8 L1299,321.4 L1302,322.0 L1305,321.6 L1308,321.7 L1311,322.3 L1314,322.0 L1317,322.7 L1320,322.7 L1323,322.8 L1326,322.8 L1329,322.3 L1332,322.9 L1335,322.9 L1338,322.9 L1341,323.1 L1344,323.0 L1347,322.9 L1350,323.8 L1353,323.3 L1356,323.1 L1359,324.1 L1362,323.7 L1365,323.9 L1368,323.6 L1371,323.5 L1374,323.8 L1377,324.4 L1380,323.9 L1383,324.6 L1386,324.1 L1389,324.8 L1392,324.1 L1395,324.4" fill="none" stroke="#89d1bf" stroke-width="0.9" opacity="0.6"/><path d="M981,299.0 L984,299.1 L987,299.8 L990,300.0 L993,299.9 L996,299.9 L999,299.6 L1002,299.9 L1005,299.7 L1008,299.4 L1011,299.2 L1014,298.6 L1017,298.3 L1020,298.1 L1023,297.8 L1026,296.7 L1029,296.8 L1032,295.4 L1035,294.6 L1038,293.6 L1041,291.7 L1044,291.1 L1047,289.8 L1050,287.6 L1053,286.0 L1056,285.3 L1059,283.8 L1062,282.3 L1065,280.4 L1068,279.1 L1071,277.3 L1074,276.4 L1077,275.9 L1080,275.9 L1083,275.2 L1086,276.3 L1089,275.7 L1092,277.3 L1095,277.2 L1098,278.7 L1101,279.8 L1104,281.1 L1107,281.8 L1110,283.3 L1113,284.2 L1116,286.1 L1119,286.6 L1122,288.8 L1125,289.8 L1128,290.5 L1131,292.8 L1134,293.4 L1137,294.4 L1140,295.8 L1143,296.8 L1146,298.2 L1149,299.8 L1152,301.1 L1155,301.6 L1158,302.8 L1161,303.6 L1164,304.3 L1167,304.8 L1170,305.5 L1173,306.2 L1176,307.5 L1179,308.0 L1182,309.5 L1185,309.9 L1188,311.0 L1191,311.7 L1194,312.6 L1197,312.7 L1200,313.5 L1203,314.5 L1206,314.5 L1209,315.4 L1212,316.2 L1215,316.0 L1218,316.9 L1221,316.9 L1224,317.5 L1227,317.4 L1230,317.8 L1233,318.0 L1236,317.7 L1239,318.3 L1242,318.6 L1245,318.7 L1248,319.2 L1251,319.7 L1254,319.8 L1257,320.0 L1260,319.5 L1263,320.3 L1266,320.4 L1269,320.9 L1272,320.1 L1275,320.5 L1278,321.5 L1281,321.0 L1284,321.6 L1287,321.6 L1290,321.6 L1293,321.8 L1296,322.0 L1299,322.6 L1302,322.3 L1305,322.7 L1308,322.3 L1311,322.8 L1314,322.8 L1317,323.1 L1320,323.3 L1323,322.6 L1326,323.6 L1329,323.3 L1332,323.0 L1335,323.3 L1338,323.1 L1341,323.3 L1344,324.0 L1347,324.0 L1350,324.2 L1353,323.6 L1356,323.6 L1359,323.9 L1362,324.1 L1365,324.4 L1368,324.1 L1371,324.6 L1374,324.5 L1377,324.3 L1380,324.9 L1383,324.2 L1386,324.8 L1389,324.5 L1392,324.4 L1395,325.0 L1395,334 L981,334Z" fill="#a2dbb7"/><path d="M981,302.6 L984,302.9 L987,302.9 L990,302.1 L993,302.8 L996,302.8 L999,302.9 L1002,302.6 L1005,302.1 L1008,301.8 L1011,302.2 L1014,301.5 L1017,301.8 L1020,301.2 L1023,300.9 L1026,299.7 L1029,298.9 L1032,298.6 L1035,297.4 L1038,296.0 L1041,295.1 L1044,293.8 L1047,292.7 L1050,291.2 L1053,289.6 L1056,289.0 L1059,287.5 L1062,286.0 L1065,284.1 L1068,282.7 L1071,282.1 L1074,281.3 L1077,280.5 L1080,279.8 L1083,280.3 L1086,280.3 L1089,280.5 L1092,281.3 L1095,281.8 L1098,282.8 L1101,283.9 L1104,285.2 L1107,285.4 L1110,287.1 L1113,288.6 L1116,289.5 L1119,290.7 L1122,292.2 L1125,292.6 L1128,294.6 L1131,295.6 L1134,296.7 L1137,297.6 L1140,299.1 L1143,299.7 L1146,301.2 L1149,301.9 L1152,303.6 L1155,304.3 L1158,304.8 L1161,305.8 L1164,306.2 L1167,307.1 L1170,307.5 L1173,309.0 L1176,309.7 L1179,310.5 L1182,310.6 L1185,312.1 L1188,312.1 L1191,313.4 L1194,314.0 L1197,314.1 L1200,315.1 L1203,316.1 L1206,316.3 L1209,316.3 L1212,317.2 L1215,317.1 L1218,318.0 L1221,317.8 L1224,317.7 L1227,318.9 L1230,318.2 L1233,318.6 L1236,319.3 L1239,318.8 L1242,319.5 L1245,320.0 L1248,320.0 L1251,319.9 L1254,320.6 L1257,320.8 L1260,320.8 L1263,321.0 L1266,320.9 L1269,321.1 L1272,321.9 L1275,322.0 L1278,321.2 L1281,321.6 L1284,321.7 L1287,322.5 L1290,322.0 L1293,322.1 L1296,322.9 L1299,322.4 L1302,323.3 L1305,322.9 L1308,323.5 L1311,323.5 L1314,323.0 L1317,323.7 L1320,323.4 L1323,323.3 L1326,323.2 L1329,323.9 L1332,323.9 L1335,323.7 L1338,324.3 L1341,323.8 L1344,324.1 L1347,323.8 L1350,324.2 L1353,324.8 L1356,324.5 L1359,324.2 L1362,324.3 L1365,324.8 L1368,324.5 L1371,325.2 L1374,324.4 L1377,325.3 L1380,325.1 L1383,325.4 L1386,325.0 L1389,324.8 L1392,325.0 L1395,325.6 L1395,334 L981,334Z" fill="#a8ddb5"/><path d="M981,305.2 L984,305.2 L987,305.3 L990,305.4 L993,305.0 L996,304.9 L999,305.3 L1002,305.2 L1005,304.7 L1008,304.3 L1011,305.0 L1014,304.6 L1017,304.2 L1020,303.6 L1023,303.6 L1026,302.4 L1029,301.4 L1032,300.5 L1035,299.8 L1038,299.1 L1041,297.8 L1044,297.2 L1047,295.7 L1050,294.3 L1053,293.3 L1056,291.9 L1059,290.7 L1062,289.3 L1065,288.1 L1068,286.8 L1071,286.1 L1074,284.7 L1077,284.7 L1080,284.0 L1083,284.6 L1086,284.0 L1089,284.8 L1092,285.2 L1095,286.1 L1098,286.4 L1101,287.3 L1104,288.2 L1107,289.6 L1110,290.7 L1113,291.2 L1116,292.5 L1119,293.6 L1122,295.5 L1125,296.1 L1128,297.4 L1131,298.2 L1134,299.7 L1137,300.9 L1140,301.9 L1143,302.2 L1146,303.7 L1149,304.7 L1152,305.1 L1155,306.6 L1158,306.9 L1161,307.6 L1164,308.6 L1167,309.3 L1170,309.9 L1173,310.9 L1176,311.3 L1179,311.9 L1182,312.3 L1185,313.5 L1188,314.0 L1191,314.8 L1194,315.3 L1197,315.5 L1200,316.0 L1203,316.6 L1206,317.0 L1209,318.1 L1212,318.1 L1215,318.1 L1218,318.9 L1221,319.1 L1224,318.7 L1227,319.6 L1230,319.3 L1233,320.3 L1236,319.6 L1239,319.9 L1242,320.1 L1245,320.9 L1248,321.1 L1251,321.0 L1254,320.7 L1257,321.2 L1260,321.7 L1263,321.2 L1266,322.2 L1269,322.3 L1272,322.5 L1275,322.4 L1278,322.5 L1281,323.0 L1284,322.4 L1287,322.6 L1290,322.5 L1293,322.7 L1296,323.5 L1299,322.9 L1302,323.7 L1305,323.4 L1308,324.0 L1311,324.0 L1314,324.0 L1317,324.2 L1320,323.5 L1323,323.8 L1326,324.0 L1329,324.1 L1332,324.5 L1335,324.8 L1338,324.7 L1341,325.0 L1344,324.8 L1347,324.5 L1350,324.8 L1353,325.1 L1356,325.2 L1359,324.8 L1362,324.9 L1365,325.2 L1368,324.8 L1371,325.6 L1374,324.7 L1377,325.5 L1380,325.4 L1383,325.1 L1386,325.6 L1389,325.7 L1392,326.3 L1395,326.3 L1395,334 L981,334Z" fill="#aedfb8"/><path d="M981,307.6 L984,308.3 L987,307.6 L990,308.2 L993,307.5 L996,307.4 L999,307.2 L1002,307.5 L1005,307.4 L1008,307.1 L1011,307.0 L1014,306.6 L1017,306.9 L1020,306.6 L1023,305.9 L1026,305.3 L1029,303.8 L1032,303.1 L1035,302.2 L1038,301.2 L1041,301.1 L1044,299.9 L1047,298.8 L1050,297.3 L1053,295.7 L1056,294.9 L1059,293.3 L1062,293.0 L1065,291.3 L1068,290.2 L1071,289.9 L1074,288.5 L1077,288.7 L1080,287.9 L1083,288.3 L1086,287.9 L1089,289.1 L1092,289.0 L1095,289.6 L1098,290.6 L1101,291.3 L1104,291.9 L1107,292.7 L1110,294.1 L1113,294.6 L1116,296.4 L1119,296.9 L1122,297.8 L1125,299.0 L1128,299.8 L1131,301.0 L1134,302.3 L1137,303.1 L1140,304.1 L1143,305.0 L1146,306.1 L1149,307.3 L1152,307.7 L1155,308.8 L1158,309.2 L1161,309.5 L1164,310.1 L1167,311.5 L1170,311.7 L1173,312.3 L1176,313.0 L1179,314.0 L1182,314.2 L1185,314.8 L1188,315.5 L1191,315.7 L1194,316.8 L1197,317.3 L1200,317.8 L1203,318.1 L1206,318.5 L1209,319.1 L1212,318.8 L1215,319.9 L1218,319.3 L1221,320.3 L1224,319.8 L1227,320.6 L1230,320.2 L1233,320.2 L1236,320.9 L1239,321.3 L1242,321.5 L1245,321.7 L1248,322.0 L1251,321.2 L1254,321.7 L1257,321.6 L1260,322.4 L1263,322.3 L1266,322.7 L1269,322.9 L1272,323.3 L1275,323.1 L1278,323.4 L1281,323.2 L1284,322.8 L1287,323.8 L1290,323.1 L1293,323.2 L1296,324.1 L1299,323.6 L1302,324.1 L1305,323.6 L1308,323.8 L1311,324.4 L1314,323.8 L1317,324.4 L1320,324.9 L1323,324.2 L1326,324.8 L1329,324.9 L1332,324.9 L1335,325.1 L1338,325.1 L1341,324.5 L1344,324.7 L1347,325.1 L1350,325.6 L1353,324.9 L1356,325.4 L1359,325.0 L1362,325.8 L1365,325.4 L1368,325.5 L1371,325.7 L1374,325.3 L1377,325.9 L1380,326.0 L1383,326.2 L1386,325.7 L1389,325.8 L1392,325.8 L1395,326.7 L1395,334 L981,334Z" fill="#b4e2ba"/><path d="M981,310.7 L984,310.3 L987,309.8 L990,310.6 L993,310.1 L996,310.1 L999,309.8 L1002,309.3 L1005,310.1 L1008,309.1 L1011,309.1 L1014,309.6 L1017,308.4 L1020,308.4 L1023,307.8 L1026,307.0 L1029,306.9 L1032,305.6 L1035,304.4 L1038,304.0 L1041,302.6 L1044,302.3 L1047,301.4 L1050,300.4 L1053,298.5 L1056,298.0 L1059,296.6 L1062,295.7 L1065,294.5 L1068,293.5 L1071,292.5 L1074,292.4 L1077,291.4 L1080,292.2 L1083,291.3 L1086,292.4 L1089,292.0 L1092,292.3 L1095,293.5 L1098,293.9 L1101,294.9 L1104,295.5 L1107,296.5 L1110,296.8 L1113,298.3 L1116,299.1 L1119,300.4 L1122,300.4 L1125,301.4 L1128,303.0 L1131,304.2 L1134,304.7 L1137,305.9 L1140,306.7 L1143,307.4 L1146,308.3 L1149,309.3 L1152,309.4 L1155,310.4 L1158,311.4 L1161,311.5 L1164,312.3 L1167,312.7 L1170,313.3 L1173,314.2 L1176,314.9 L1179,315.7 L1182,315.8 L1185,316.1 L1188,316.8 L1191,317.1 L1194,317.8 L1197,318.6 L1200,319.1 L1203,319.0 L1206,319.3 L1209,319.5 L1212,319.8 L1215,320.4 L1218,320.4 L1221,321.2 L1224,321.1 L1227,321.0 L1230,321.3 L1233,321.0 L1236,321.9 L1239,322.0 L1242,321.8 L1245,322.3 L1248,322.0 L1251,322.1 L1254,322.3 L1257,322.4 L1260,322.9 L1263,323.1 L1266,323.3 L1269,322.8 L1272,323.6 L1275,323.4 L1278,323.5 L1281,323.7 L1284,323.8 L1287,323.6 L1290,323.9 L1293,324.3 L1296,324.5 L1299,324.8 L1302,324.1 L1305,324.9 L1308,324.9 L1311,324.9 L1314,325.3 L1317,324.5 L1320,325.2 L1323,325.4 L1326,324.6 L1329,325.2 L1332,325.6 L1335,325.0 L1338,325.7 L1341,325.8 L1344,325.4 L1347,325.1 L1350,325.3 L1353,325.9 L1356,325.6 L1359,325.5 L1362,325.7 L1365,326.3 L1368,325.6 L1371,325.4 L1374,326.4 L1377,325.8 L1380,326.0 L1383,326.6 L1386,326.0 L1389,326.0 L1392,326.9 L1395,326.4 L1395,334 L981,334Z" fill="#b9e4bd"/><path d="M981,312.8 L984,312.2 L987,312.4 L990,312.0 L993,312.1 L996,312.2 L999,311.6 L1002,311.4 L1005,311.7 L1008,311.2 L1011,311.3 L1014,310.8 L1017,310.4 L1020,310.5 L1023,310.4 L1026,309.7 L1029,308.6 L1032,307.8 L1035,306.6 L1038,306.0 L1041,305.2 L1044,304.9 L1047,303.1 L1050,303.0 L1053,301.5 L1056,300.5 L1059,299.3 L1062,299.0 L1065,297.3 L1068,296.9 L1071,296.1 L1074,295.2 L1077,294.9 L1080,295.5 L1083,295.4 L1086,295.5 L1089,296.0 L1092,295.6 L1095,296.7 L1098,297.4 L1101,297.5 L1104,298.5 L1107,299.8 L1110,300.0 L1113,301.2 L1116,301.5 L1119,302.8 L1122,303.3 L1125,304.4 L1128,305.2 L1131,306.6 L1134,307.3 L1137,307.9 L1140,309.0 L1143,309.6 L1146,310.8 L1149,310.9 L1152,311.9 L1155,312.6 L1158,312.9 L1161,313.1 L1164,313.7 L1167,314.7 L1170,314.8 L1173,315.9 L1176,316.1 L1179,317.1 L1182,317.6 L1185,318.0 L1188,318.1 L1191,318.3 L1194,319.3 L1197,319.9 L1200,320.4 L1203,320.0 L1206,320.3 L1209,321.3 L1212,321.3 L1215,321.3 L1218,321.7 L1221,321.3 L1224,321.9 L1227,322.1 L1230,322.2 L1233,321.9 L1236,322.0 L1239,322.6 L1242,323.0 L1245,322.4 L1248,322.4 L1251,322.6 L1254,323.5 L1257,323.2 L1260,323.4 L1263,324.1 L1266,323.8 L1269,323.6 L1272,324.1 L1275,323.5 L1278,323.9 L1281,324.4 L1284,324.0 L1287,324.0 L1290,324.6 L1293,324.5 L1296,325.2 L1299,324.4 L1302,325.2 L1305,324.9 L1308,325.4 L1311,325.1 L1314,325.4 L1317,325.1 L1320,325.0 L1323,325.3 L1326,325.7 L1329,325.3 L1332,325.3 L1335,325.5 L1338,325.3 L1341,325.5 L1344,325.9 L1347,325.9 L1350,326.0 L1353,325.7 L1356,325.5 L1359,325.6 L1362,325.9 L1365,325.8 L1368,326.3 L1371,326.0 L1374,326.6 L1377,326.4 L1380,326.6 L1383,326.7 L1386,326.6 L1389,326.7 L1392,326.7 L1395,326.6 L1395,334 L981,334Z" fill="#bfe6bf"/><path d="M981,314.2 L984,314.5 L987,314.8 L990,314.9 L993,313.8 L996,313.6 L999,313.9 L1002,313.7 L1005,314.0 L1008,313.8 L1011,313.1 L1014,312.9 L1017,312.8 L1020,312.7 L1023,311.5 L1026,311.2 L1029,310.2 L1032,310.0 L1035,308.6 L1038,308.7 L1041,307.5 L1044,306.7 L1047,305.3 L1050,304.6 L1053,303.9 L1056,303.4 L1059,302.1 L1062,301.0 L1065,300.9 L1068,299.8 L1071,299.0 L1074,298.2 L1077,298.0 L1080,298.5 L1083,297.8 L1086,298.4 L1089,298.8 L1092,298.9 L1095,299.8 L1098,300.5 L1101,301.1 L1104,301.6 L1107,301.8 L1110,302.4 L1113,303.5 L1116,304.2 L1119,304.8 L1122,306.3 L1125,306.4 L1128,307.9 L1131,308.8 L1134,308.8 L1137,310.4 L1140,310.7 L1143,311.3 L1146,312.0 L1149,312.6 L1152,313.6 L1155,314.1 L1158,315.0 L1161,315.5 L1164,315.2 L1167,316.0 L1170,316.4 L1173,316.7 L1176,317.2 L1179,317.7 L1182,318.7 L1185,318.8 L1188,319.0 L1191,319.6 L1194,320.2 L1197,320.7 L1200,320.7 L1203,321.5 L1206,321.3 L1209,321.9 L1212,322.0 L1215,321.8 L1218,322.5 L1221,322.3 L1224,322.6 L1227,322.8 L1230,323.0 L1233,322.9 L1236,322.6 L1239,323.5 L1242,323.7 L1245,323.4 L1248,323.6 L1251,323.4 L1254,324.2 L1257,324.1 L1260,323.7 L1263,324.4 L1266,324.7 L1269,324.2 L1272,324.9 L1275,324.5 L1278,324.3 L1281,324.9 L1284,324.6 L1287,325.1 L1290,325.1 L1293,324.7 L1296,325.2 L1299,325.6 L1302,325.3 L1305,325.4 L1308,325.8 L1311,325.5 L1314,325.6 L1317,325.7 L1320,326.0 L1323,325.4 L1326,325.4 L1329,326.1 L1332,326.0 L1335,325.8 L1338,326.4 L1341,326.5 L1344,326.2 L1347,326.7 L1350,326.6 L1353,326.5 L1356,326.1 L1359,325.9 L1362,326.6 L1365,326.7 L1368,326.4 L1371,326.5 L1374,326.7 L1377,326.4 L1380,326.9 L1383,326.8 L1386,326.7 L1389,326.7 L1392,327.3 L1395,327.2 L1395,334 L981,334Z" fill="#c5e8c2"/><path d="M981,317.0 L984,316.9 L987,316.1 L990,316.0 L993,316.5 L996,315.8 L999,315.9 L1002,315.3 L1005,314.9 L1008,315.0 L1011,315.2 L1014,315.0 L1017,314.5 L1020,314.0 L1023,313.6 L1026,312.9 L1029,312.4 L1032,312.0 L1035,310.6 L1038,310.3 L1041,309.8 L1044,308.9 L1047,307.4 L1050,307.4 L1053,306.4 L1056,304.9 L1059,304.1 L1062,303.3 L1065,302.4 L1068,302.6 L1071,301.4 L1074,301.5 L1077,300.5 L1080,300.3 L1083,301.3 L1086,301.4 L1089,301.9 L1092,302.0 L1095,302.3 L1098,303.0 L1101,302.9 L1104,304.0 L1107,304.5 L1110,304.9 L1113,306.0 L1116,306.5 L1119,307.3 L1122,307.9 L1125,308.6 L1128,309.4 L1131,310.5 L1134,311.6 L1137,312.3 L1140,313.0 L1143,313.7 L1146,313.8 L1149,315.2 L1152,315.0 L1155,315.4 L1158,316.2 L1161,316.9 L1164,316.9 L1167,317.6 L1170,317.7 L1173,318.8 L1176,318.7 L1179,319.1 L1182,319.6 L1185,320.4 L1188,320.9 L1191,320.9 L1194,321.2 L1197,321.7 L1200,321.5 L1203,322.1 L1206,322.7 L1209,322.8 L1212,322.2 L1215,323.2 L1218,322.9 L1221,323.6 L1224,323.1 L1227,323.1 L1230,323.5 L1233,324.0 L1236,323.6 L1239,324.2 L1242,324.1 L1245,323.9 L1248,323.9 L1251,324.2 L1254,324.2 L1257,324.3 L1260,324.7 L1263,325.0 L1266,324.8 L1269,324.4 L1272,324.6 L1275,324.8 L1278,325.2 L1281,324.8 L1284,324.8 L1287,325.1 L1290,325.2 L1293,325.0 L1296,325.6 L1299,326.1 L1302,325.7 L1305,326.0 L1308,326.2 L1311,326.2 L1314,326.4 L1317,325.9 L1320,326.2 L1323,325.7 L1326,326.5 L1329,326.1 L1332,326.2 L1335,326.7 L1338,326.1 L1341,326.1 L1344,326.8 L1347,326.6 L1350,326.1 L1353,326.1 L1356,326.5 L1359,326.2 L1362,327.0 L1365,326.4 L1368,326.5 L1371,326.7 L1374,326.9 L1377,326.8 L1380,327.1 L1383,327.1 L1386,327.1 L1389,327.0 L1392,328.0 L1395,327.8 L1395,334 L981,334Z" fill="#caeac4"/><path d="M981,318.7 L984,318.4 L987,318.5 L990,317.3 L993,317.3 L996,317.0 L999,317.2 L1002,316.9 L1005,316.4 L1008,316.7 L1011,316.1 L1014,316.1 L1017,315.7 L1020,315.9 L1023,315.0 L1026,314.3 L1029,313.4 L1032,313.2 L1035,312.7 L1038,312.0 L1041,311.5 L1044,310.6 L1047,309.3 L1050,308.4 L1053,308.3 L1056,307.5 L1059,306.4 L1062,306.0 L1065,305.0 L1068,304.2 L1071,303.5 L1074,303.0 L1077,303.5 L1080,303.7 L1083,303.8 L1086,303.6 L1089,304.0 L1092,304.7 L1095,305.0 L1098,305.2 L1101,305.6 L1104,306.3 L1107,306.5 L1110,307.1 L1113,308.2 L1116,309.2 L1119,309.4 L1122,309.9 L1125,310.5 L1128,311.4 L1131,312.4 L1134,312.8 L1137,314.0 L1140,313.9 L1143,314.7 L1146,315.6 L1149,316.1 L1152,317.0 L1155,317.5 L1158,318.0 L1161,318.0 L1164,317.8 L1167,318.8 L1170,319.1 L1173,319.4 L1176,319.6 L1179,320.4 L1182,321.0 L1185,320.6 L1188,321.5 L1191,321.6 L1194,322.1 L1197,322.8 L1200,323.2 L1203,323.1 L1206,322.8 L1209,323.7 L1212,323.1 L1215,323.4 L1218,324.0 L1221,323.6 L1224,323.6 L1227,324.4 L1230,324.5 L1233,324.0 L1236,324.1 L1239,324.1 L1242,324.0 L1245,324.3 L1248,325.1 L1251,324.3 L1254,324.5 L1257,324.6 L1260,324.5 L1263,325.1 L1266,325.4 L1269,325.6 L1272,325.4 L1275,325.7 L1278,325.0 L1281,325.3 L1284,326.1 L1287,325.3 L1290,325.5 L1293,325.8 L1296,325.7 L1299,326.0 L1302,325.6 L1305,325.8 L1308,326.6 L1311,325.8 L1314,326.7 L1317,326.0 L1320,326.8 L1323,326.6 L1326,326.6 L1329,326.1 L1332,326.1 L1335,326.8 L1338,326.3 L1341,326.3 L1344,327.0 L1347,327.1 L1350,326.3 L1353,327.3 L1356,326.9 L1359,326.8 L1362,326.5 L1365,326.9 L1368,327.5 L1371,326.8 L1374,326.7 L1377,326.8 L1380,326.8 L1383,327.1 L1386,327.8 L1389,327.2 L1392,327.4 L1395,328.3 L1395,334 L981,334Z" fill="#ceecc7"/><path d="M981,319.6 L984,319.9 L987,319.7 L990,319.1 L993,318.9 L996,318.4 L999,318.5 L1002,318.9 L1005,317.8 L1008,318.1 L1011,317.4 L1014,317.2 L1017,317.5 L1020,316.7 L1023,316.0 L1026,315.6 L1029,315.4 L1032,314.7 L1035,313.5 L1038,313.0 L1041,313.0 L1044,311.6 L1047,311.2 L1050,310.3 L1053,310.0 L1056,309.0 L1059,308.5 L1062,307.6 L1065,306.6 L1068,306.0 L1071,305.5 L1074,305.9 L1077,305.0 L1080,304.9 L1083,306.0 L1086,305.4 L1089,306.4 L1092,306.0 L1095,306.7 L1098,306.9 L1101,308.0 L1104,308.3 L1107,308.9 L1110,309.6 L1113,310.3 L1116,310.3 L1119,311.2 L1122,311.6 L1125,311.9 L1128,313.3 L1131,313.7 L1134,314.6 L1137,314.7 L1140,315.7 L1143,316.2 L1146,317.1 L1149,317.0 L1152,317.8 L1155,318.4 L1158,318.3 L1161,319.1 L1164,319.7 L1167,319.7 L1170,320.3 L1173,320.6 L1176,320.5 L1179,321.0 L1182,322.0 L1185,321.7 L1188,322.1 L1191,322.1 L1194,322.6 L1197,322.8 L1200,323.8 L1203,323.8 L1206,324.1 L1209,324.4 L1212,324.1 L1215,324.5 L1218,324.2 L1221,324.2 L1224,324.8 L1227,324.9 L1230,325.0 L1233,324.6 L1236,325.0 L1239,324.7 L1242,325.4 L1245,325.4 L1248,324.8 L1251,325.6 L1254,324.9 L1257,324.9 L1260,325.6 L1263,325.2 L1266,325.5 L1269,325.7 L1272,325.2 L1275,326.0 L1278,325.6 L1281,325.8 L1284,325.8 L1287,326.3 L1290,326.3 L1293,326.0 L1296,325.8 L1299,326.1 L1302,326.3 L1305,326.0 L1308,326.1 L1311,326.8 L1314,326.7 L1317,327.0 L1320,327.1 L1323,327.0 L1326,326.6 L1329,326.4 L1332,326.6 L1335,326.8 L1338,326.9 L1341,326.9 L1344,326.8 L1347,327.3 L1350,326.8 L1353,327.0 L1356,327.5 L1359,327.4 L1362,327.0 L1365,326.9 L1368,327.5 L1371,326.8 L1374,326.9 L1377,327.4 L1380,327.4 L1383,327.1 L1386,327.1 L1389,327.5 L1392,328.2 L1395,328.1 L1395,334 L981,334Z" fill="#d1edcb"/><path d="M981,321.1 L984,320.4 L987,321.0 L990,320.5 L993,320.7 L996,320.2 L999,320.0 L1002,319.4 L1005,319.7 L1008,319.6 L1011,319.3 L1014,318.7 L1017,318.7 L1020,318.1 L1023,317.2 L1026,316.6 L1029,316.0 L1032,315.5 L1035,314.8 L1038,314.5 L1041,314.0 L1044,313.2 L1047,312.4 L1050,311.9 L1053,310.9 L1056,310.4 L1059,310.0 L1062,309.0 L1065,308.2 L1068,308.4 L1071,307.9 L1074,307.2 L1077,307.1 L1080,307.3 L1083,307.5 L1086,307.3 L1089,307.4 L1092,307.9 L1095,308.8 L1098,308.6 L1101,309.4 L1104,309.6 L1107,310.1 L1110,310.6 L1113,311.4 L1116,311.6 L1119,312.1 L1122,312.7 L1125,313.4 L1128,314.3 L1131,314.5 L1134,315.1 L1137,316.2 L1140,316.7 L1143,317.7 L1146,317.6 L1149,318.5 L1152,318.9 L1155,318.9 L1158,320.2 L1161,319.8 L1164,320.0 L1167,320.7 L1170,320.7 L1173,321.4 L1176,321.5 L1179,321.6 L1182,321.8 L1185,322.8 L1188,322.7 L1191,323.5 L1194,323.5 L1197,324.2 L1200,323.8 L1203,323.9 L1206,324.1 L1209,324.7 L1212,324.6 L1215,324.4 L1218,324.3 L1221,324.9 L1224,325.3 L1227,325.0 L1230,324.5 L1233,324.6 L1236,324.7 L1239,324.9 L1242,324.8 L1245,324.9 L1248,325.6 L1251,325.9 L1254,325.3 L1257,326.1 L1260,325.7 L1263,326.1 L1266,326.3 L1269,326.3 L1272,325.5 L1275,325.8 L1278,326.2 L1281,326.6 L1284,325.8 L1287,326.1 L1290,326.7 L1293,326.0 L1296,326.4 L1299,326.4 L1302,326.8 L1305,327.1 L1308,326.4 L1311,327.0 L1314,327.0 L1317,327.1 L1320,326.9 L1323,327.3 L1326,326.8 L1329,326.9 L1332,326.7 L1335,327.3 L1338,327.0 L1341,326.9 L1344,326.8 L1347,327.4 L1350,327.3 L1353,327.5 L1356,327.2 L1359,327.3 L1362,327.0 L1365,327.6 L1368,326.9 L1371,327.4 L1374,327.7 L1377,327.7 L1380,327.1 L1383,327.3 L1386,328.1 L1389,328.2 L1392,328.5 L1395,328.7 L1395,334 L981,334Z" fill="#d4eece"/><path d="M981,322.2 L984,321.6 L987,321.5 L990,321.5 L993,321.4 L996,320.5 L999,320.6 L1002,320.5 L1005,320.3 L1008,319.8 L1011,320.0 L1014,320.1 L1017,319.3 L1020,319.0 L1023,318.2 L1026,317.8 L1029,317.6 L1032,316.4 L1035,316.5 L1038,315.9 L1041,314.5 L1044,314.7 L1047,313.5 L1050,313.2 L1053,312.5 L1056,311.4 L1059,311.1 L1062,310.5 L1065,310.2 L1068,309.2 L1071,309.3 L1074,309.3 L1077,308.9 L1080,308.8 L1083,308.5 L1086,309.1 L1089,309.2 L1092,309.9 L1095,310.2 L1098,310.5 L1101,310.5 L1104,311.5 L1107,311.9 L1110,311.9 L1113,313.1 L1116,313.4 L1119,313.4 L1122,314.7 L1125,314.5 L1128,315.3 L1131,316.3 L1134,316.7 L1137,317.3 L1140,318.0 L1143,318.4 L1146,318.8 L1149,319.1 L1152,319.4 L1155,320.5 L1158,320.8 L1161,320.9 L1164,321.4 L1167,321.3 L1170,321.5 L1173,321.9 L1176,322.7 L1179,322.1 L1182,322.9 L1185,322.9 L1188,323.7 L1191,323.6 L1194,323.9 L1197,324.2 L1200,324.5 L1203,324.9 L1206,324.6 L1209,325.2 L1212,324.5 L1215,324.7 L1218,324.6 L1221,324.7 L1224,325.5 L1227,325.5 L1230,325.0 L1233,325.1 L1236,325.4 L1239,325.8 L1242,325.9 L1245,325.9 L1248,325.8 L1251,325.4 L1254,325.7 L1257,325.6 L1260,326.0 L1263,326.1 L1266,325.8 L1269,325.9 L1272,326.5 L1275,325.8 L1278,326.7 L1281,326.8 L1284,326.9 L1287,326.4 L1290,326.6 L1293,326.7 L1296,326.8 L1299,327.2 L1302,327.0 L1305,326.6 L1308,327.2 L1311,326.9 L1314,327.1 L1317,327.2 L1320,326.5 L1323,327.3 L1326,327.3 L1329,327.1 L1332,327.2 L1335,327.2 L1338,326.9 L1341,327.3 L1344,326.8 L1347,327.3 L1350,327.5 L1353,327.3 L1356,327.5 L1359,327.9 L1362,327.9 L1365,327.2 L1368,327.9 L1371,327.7 L1374,327.2 L1377,327.5 L1380,327.4 L1383,327.3 L1386,327.9 L1389,328.6 L1392,328.1 L1395,328.8 L1395,334 L981,334Z" fill="#d7f0d2"/><path d="M981,322.6 L984,322.3 L987,322.5 L990,322.4 L993,321.5 L996,321.7 L999,321.4 L1002,321.7 L1005,321.5 L1008,320.7 L1011,321.0 L1014,320.7 L1017,319.9 L1020,319.7 L1023,318.9 L1026,319.0 L1029,318.3 L1032,317.9 L1035,317.2 L1038,316.5 L1041,315.9 L1044,315.1 L1047,314.0 L1050,313.9 L1053,312.7 L1056,312.2 L1059,312.2 L1062,310.9 L1065,310.5 L1068,310.1 L1071,310.5 L1074,309.6 L1077,309.4 L1080,310.2 L1083,309.6 L1086,310.6 L1089,310.7 L1092,311.1 L1095,311.6 L1098,311.6 L1101,312.2 L1104,311.9 L1107,313.1 L1110,313.3 L1113,313.9 L1116,313.8 L1119,314.9 L1122,315.6 L1125,315.3 L1128,316.1 L1131,316.9 L1134,317.8 L1137,317.7 L1140,318.2 L1143,318.9 L1146,319.8 L1149,320.4 L1152,320.4 L1155,320.8 L1158,321.1 L1161,321.3 L1164,321.6 L1167,321.6 L1170,322.3 L1173,323.0 L1176,322.7 L1179,323.3 L1182,323.0 L1185,323.8 L1188,324.1 L1191,324.3 L1194,324.4 L1197,324.6 L1200,325.0 L1203,325.4 L1206,324.7 L1209,324.8 L1212,325.5 L1215,325.7 L1218,325.4 L1221,325.4 L1224,325.7 L1227,325.2 L1230,325.4 L1233,325.3 L1236,325.8 L1239,325.6 L1242,325.6 L1245,326.1 L1248,326.4 L1251,325.8 L1254,326.3 L1257,326.0 L1260,326.5 L1263,326.3 L1266,326.1 L1269,326.1 L1272,325.9 L1275,326.5 L1278,326.4 L1281,326.3 L1284,326.5 L1287,326.5 L1290,327.0 L1293,326.5 L1296,327.4 L1299,326.9 L1302,327.1 L1305,327.0 L1308,327.4 L1311,327.4 L1314,327.2 L1317,327.1 L1320,327.4 L1323,327.6 L1326,327.1 L1329,327.5 L1332,327.8 L1335,327.3 L1338,327.1 L1341,327.1 L1344,327.6 L1347,327.6 L1350,327.9 L1353,327.9 L1356,327.3 L1359,327.3 L1362,327.4 L1365,327.3 L1368,327.9 L1371,328.1 L1374,328.1 L1377,327.5 L1380,328.2 L1383,327.6 L1386,327.9 L1389,328.5 L1392,328.0 L1395,328.2 L1395,334 L981,334Z" fill="#dbf1d5"/><path d="M981,323.0 L984,323.3 L987,322.4 L990,322.8 L993,322.7 L996,322.0 L999,321.7 L1002,322.1 L1005,321.3 L1008,321.0 L1011,321.0 L1014,321.1 L1017,320.2 L1020,320.0 L1023,319.6 L1026,319.5 L1029,318.5 L1032,318.4 L1035,317.1 L1038,316.6 L1041,316.3 L1044,316.0 L1047,314.9 L1050,314.1 L1053,313.4 L1056,313.2 L1059,312.2 L1062,312.3 L1065,311.9 L1068,310.8 L1071,310.6 L1074,311.0 L1077,310.7 L1080,310.9 L1083,310.6 L1086,310.6 L1089,311.1 L1092,311.9 L1095,311.7 L1098,312.1 L1101,312.6 L1104,313.0 L1107,313.4 L1110,314.4 L1113,314.0 L1116,314.3 L1119,315.7 L1122,316.2 L1125,316.8 L1128,316.8 L1131,317.8 L1134,318.4 L1137,318.2 L1140,319.3 L1143,320.0 L1146,320.3 L1149,320.6 L1152,320.8 L1155,321.2 L1158,321.3 L1161,321.4 L1164,322.2 L1167,322.2 L1170,322.9 L1173,322.4 L1176,323.6 L1179,323.6 L1182,324.1 L1185,324.3 L1188,324.6 L1191,324.5 L1194,324.2 L1197,325.2 L1200,324.8 L1203,325.0 L1206,325.5 L1209,325.4 L1212,325.3 L1215,325.9 L1218,325.7 L1221,325.4 L1224,325.4 L1227,326.1 L1230,325.7 L1233,326.1 L1236,325.7 L1239,325.6 L1242,326.0 L1245,326.4 L1248,325.8 L1251,326.4 L1254,326.6 L1257,326.6 L1260,326.6 L1263,325.9 L1266,326.6 L1269,326.9 L1272,326.1 L1275,326.4 L1278,326.4 L1281,326.7 L1284,326.7 L1287,326.8 L1290,327.2 L1293,326.4 L1296,326.5 L1299,326.7 L1302,326.7 L1305,326.7 L1308,327.6 L1311,327.5 L1314,326.8 L1317,327.2 L1320,327.1 L1323,327.1 L1326,327.2 L1329,327.5 L1332,327.5 L1335,327.3 L1338,327.1 L1341,327.3 L1344,327.1 L1347,327.6 L1350,327.8 L1353,327.5 L1356,327.2 L1359,327.3 L1362,327.6 L1365,327.8 L1368,328.0 L1371,327.7 L1374,328.1 L1377,328.0 L1380,327.8 L1383,327.8 L1386,328.1 L1389,328.6 L1392,328.4 L1395,328.9 L1395,334 L981,334Z" fill="#def2d8"/><path d="M981,323.1 L984,323.3 L987,323.0 L990,323.0 L993,322.8 L996,322.0 L999,321.7 L1002,322.3 L1005,321.5 L1008,321.2 L1011,321.8 L1014,321.0 L1017,321.1 L1020,320.4 L1023,320.1 L1026,319.1 L1029,318.9 L1032,318.6 L1035,317.6 L1038,317.2 L1041,316.6 L1044,315.4 L1047,315.5 L1050,314.7 L1053,313.8 L1056,312.9 L1059,313.2 L1062,312.2 L1065,312.0 L1068,311.8 L1071,311.4 L1074,311.4 L1077,310.8 L1080,311.2 L1083,311.0 L1086,311.7 L1089,311.9 L1092,311.5 L1095,311.8 L1098,312.3 L1101,313.4 L1104,313.3 L1107,313.9 L1110,314.0 L1113,314.6 L1116,314.9 L1119,315.4 L1122,316.1 L1125,316.6 L1128,317.5 L1131,317.8 L1134,318.6 L1137,319.1 L1140,319.8 L1143,320.0 L1146,320.0 L1149,321.1 L1152,321.6 L1155,321.9 L1158,321.8 L1161,322.2 L1164,322.0 L1167,322.9 L1170,322.9 L1173,322.8 L1176,322.8 L1179,323.9 L1182,324.3 L1185,323.6 L1188,324.6 L1191,324.5 L1194,324.4 L1197,324.8 L1200,325.4 L1203,325.7 L1206,325.0 L1209,325.6 L1212,325.1 L1215,325.8 L1218,325.5 L1221,326.1 L1224,326.2 L1227,325.8 L1230,326.3 L1233,325.7 L1236,325.5 L1239,326.1 L1242,325.6 L1245,325.8 L1248,326.1 L1251,326.3 L1254,325.9 L1257,325.9 L1260,326.7 L1263,326.2 L1266,326.9 L1269,326.9 L1272,326.5 L1275,326.6 L1278,326.7 L1281,326.9 L1284,326.9 L1287,326.9 L1290,327.0 L1293,327.4 L1296,327.0 L1299,327.0 L1302,327.3 L1305,326.9 L1308,327.0 L1311,327.7 L1314,327.3 L1317,327.3 L1320,326.8 L1323,327.2 L1326,327.4 L1329,326.9 L1332,327.5 L1335,327.6 L1338,327.0 L1341,327.6 L1344,327.5 L1347,327.7 L1350,327.5 L1353,327.8 L1356,327.9 L1359,327.2 L1362,327.3 L1365,327.9 L1368,328.2 L1371,327.6 L1374,327.8 L1377,328.0 L1380,327.7 L1383,327.8 L1386,327.9 L1389,328.3 L1392,328.6 L1395,328.5 L1395,332.3 L1392,332.1 L1389,332.0 L1386,331.7 L1383,331.5 L1380,331.5 L1377,331.5 L1374,331.4 L1371,331.4 L1368,331.4 L1365,331.3 L1362,331.3 L1359,331.3 L1356,331.3 L1353,331.2 L1350,331.2 L1347,331.2 L1344,331.1 L1341,331.1 L1338,331.1 L1335,331.1 L1332,331.0 L1329,331.0 L1326,331.0 L1323,330.9 L1320,330.9 L1317,330.9 L1314,330.8 L1311,330.8 L1308,330.8 L1305,330.7 L1302,330.7 L1299,330.7 L1296,330.6 L1293,330.6 L1290,330.5 L1287,330.5 L1284,330.4 L1281,330.4 L1278,330.3 L1275,330.2 L1272,330.2 L1269,330.1 L1266,330.1 L1263,330.0 L1260,330.0 L1257,329.9 L1254,329.9 L1251,329.8 L1248,329.8 L1245,329.7 L1242,329.7 L1239,329.6 L1236,329.5 L1233,329.5 L1230,329.4 L1227,329.4 L1224,329.3 L1221,329.3 L1218,329.2 L1215,329.2 L1212,329.1 L1209,329.1 L1206,329.0 L1203,328.9 L1200,328.8 L1197,328.6 L1194,328.4 L1191,328.1 L1188,327.9 L1185,327.6 L1182,327.4 L1179,327.1 L1176,326.9 L1173,326.6 L1170,326.4 L1167,326.1 L1164,325.9 L1161,325.6 L1158,325.4 L1155,325.1 L1152,324.8 L1149,324.4 L1146,323.9 L1143,323.4 L1140,322.9 L1137,322.3 L1134,321.8 L1131,321.2 L1128,320.7 L1125,320.1 L1122,319.6 L1119,319.1 L1116,318.7 L1113,318.2 L1110,317.8 L1107,317.4 L1104,317.0 L1101,316.5 L1098,316.2 L1095,315.8 L1092,315.5 L1089,315.2 L1086,314.9 L1083,314.7 L1080,314.5 L1077,314.5 L1074,314.6 L1071,314.7 L1068,315.0 L1065,315.4 L1062,315.9 L1059,316.4 L1056,317.0 L1053,317.6 L1050,318.2 L1047,318.8 L1044,319.4 L1041,320.0 L1038,320.6 L1035,321.2 L1032,321.8 L1029,322.4 L1026,323.0 L1023,323.5 L1020,324.0 L1017,324.3 L1014,324.6 L1011,324.9 L1008,325.1 L1005,325.3 L1002,325.6 L999,325.8 L996,326.0 L993,326.3 L990,326.5 L987,326.7 L984,326.8 L981,327.0Z" fill="#e1f3dc"/><path d="M1068,147.7 L1071,142.4 L1074,137.9 L1077,134.7" fill="none" stroke="#fff" stroke-width="1.1" opacity="1" stroke-linecap="round"/><path d="M1104,166.7 L1107,170.8" fill="none" stroke="#fff" stroke-width="0.8" opacity="1" stroke-linecap="round"/><path d="M1125,239.5 L1128,242.3 L1131,245.0 L1134,247.6" fill="none" stroke="#fff" stroke-width="1.1" opacity="1" stroke-linecap="round"/><path d="M1134,257.4 L1137,259.7 L1140,261.9 L1143,264.1 L1146,266.3 L1149,268.3" fill="none" stroke="#fff" stroke-width="1.2" opacity="1" stroke-linecap="round"/><path d="M1029,228.8 L1032,226.9 L1035,224.5 L1038,221.9 L1041,218.8" fill="none" stroke="#fff" stroke-width="0.8" opacity="1" stroke-linecap="round"/><path d="M1008,198.5 L1011,198.8 L1014,198.8 L1017,198.5 L1020,197.9 L1023,196.9 L1026,195.4" fill="none" stroke="#fff" stroke-width="0.7" opacity="1" stroke-linecap="round"/><path d="M1146,209.4 L1149,213.2" fill="none" stroke="#fff" stroke-width="0.8" opacity="1" stroke-linecap="round"/><path d="M1002,213.6 L1005,214.3 L1008,214.8 L1011,215.0 L1014,215.0 L1017,214.7 L1020,214.1" fill="none" stroke="#fff" stroke-width="0.8" opacity="1" stroke-linecap="round"/><path d="M1110,149.9 L1113,154.9 L1116,160.0 L1119,165.0 L1122,169.9" fill="none" stroke="#fff" stroke-width="1.2" opacity="1" stroke-linecap="round"/><path d="M1041,236.1 L1044,233.2 L1047,230.0 L1050,226.6 L1053,223.1 L1056,219.7" fill="none" stroke="#fff" stroke-width="0.7" opacity="1" stroke-linecap="round"/><path d="M1053,201.9 L1056,197.8 L1059,193.6" fill="none" stroke="#fff" stroke-width="1.0" opacity="1" stroke-linecap="round"/><path d="M1116,223.1 L1119,226.3 L1122,229.4 L1125,232.5 L1128,235.5 L1131,238.4 L1134,241.2" fill="none" stroke="#fff" stroke-width="0.9" opacity="1" stroke-linecap="round"/><path d="M1023,277.5 L1026,276.7 L1029,275.6 L1032,274.4" fill="none" stroke="#fff" stroke-width="0.9" opacity="1" stroke-linecap="round"/><path d="M1023,223.5 L1026,222.2 L1029,220.5" fill="none" stroke="#fff" stroke-width="0.6" opacity="1" stroke-linecap="round"/><path d="M1068,157.2 L1071,152.2 L1074,148.0 L1077,144.9 L1080,143.1" fill="none" stroke="#fff" stroke-width="0.8" opacity="1" stroke-linecap="round"/><path d="M990,256.0 L993,256.5 L996,256.9" fill="none" stroke="#fff" stroke-width="0.7" opacity="1" stroke-linecap="round"/><path d="M1140,226.8 L1143,230.0 L1146,233.2 L1149,236.2 L1152,239.1 L1155,241.9 L1158,244.6 L1161,247.2" fill="none" stroke="#fff" stroke-width="1.1" opacity="1" stroke-linecap="round"/><path d="M987,193.2 L990,194.4 L993,195.4 L996,196.5 L999,197.4 L1002,198.3" fill="none" stroke="#fff" stroke-width="1.1" opacity="1" stroke-linecap="round"/><path d="M1101,196.8 L1104,199.8" fill="none" stroke="#fff" stroke-width="1.0" opacity="1" stroke-linecap="round"/><path d="M999,232.4 L1002,233.0" fill="none" stroke="#fff" stroke-width="0.8" opacity="1" stroke-linecap="round"/><path d="M1074,101.1 L1077,97.2 L1080,94.9 L1083,94.2 L1086,94.3 L1089,95.3 L1092,97.2 L1095,99.9" fill="none" stroke="#fff" stroke-width="1.6" opacity="1" stroke-linecap="round"/><path d="M1074,109.8 L1077,106.0 L1080,103.8 L1083,103.1 L1086,103.2 L1089,104.2 L1092,106.0 L1095,108.7" fill="none" stroke="#fff" stroke-width="2.1" opacity="1" stroke-linecap="round"/><path d="M1077,121.5 L1080,119.4 L1083,118.8 L1086,118.9 L1089,119.8 L1092,121.5" fill="none" stroke="#fff" stroke-width="1.4" opacity="1" stroke-linecap="round"/><path d="M1077,134.7 L1080,132.8 L1083,132.2 L1086,132.4 L1089,133.2" fill="none" stroke="#fff" stroke-width="1.7" opacity="1" stroke-linecap="round"/><path d="M1071,155.1 L1074,151.0 L1077,148.0 L1080,146.2 L1083,145.7 L1086,145.8 L1089,146.6 L1092,148.2 L1095,150.3" fill="none" stroke="#fff" stroke-width="1.7" opacity="1" stroke-linecap="round"/><path d="M1077,159.0 L1080,157.3 L1083,156.9 L1086,157.0 L1089,157.8 L1092,159.2 L1095,161.3 L1098,164.0" fill="none" stroke="#fff" stroke-width="1.5" opacity="1" stroke-linecap="round"/><path d="M1074,172.7 L1077,170.0 L1080,168.5 L1083,168.1 L1086,168.2 L1089,169.0 L1092,170.3 L1095,172.3 L1098,174.8" fill="none" stroke="#fff" stroke-width="1.5" opacity="1" stroke-linecap="round"/><path d="M1074,181.3 L1077,178.9 L1080,177.4 L1083,177.0 L1086,177.2 L1089,177.9 L1092,179.2 L1095,181.0" fill="none" stroke="#fff" stroke-width="1.4" opacity="1" stroke-linecap="round"/><path d="M1074,190.0 L1077,187.7 L1080,186.4 L1083,186.0 L1086,186.2 L1089,186.9 L1092,188.1 L1095,189.8 L1098,192.1" fill="none" stroke="#fff" stroke-width="1.6" opacity="1" stroke-linecap="round"/><path d="M1074,198.7 L1077,196.5 L1080,195.3 L1083,195.0 L1086,195.1 L1089,195.8 L1092,196.9 L1095,198.6" fill="none" stroke="#fff" stroke-width="1.6" opacity="1" stroke-linecap="round"/><path d="M1074,207.3 L1077,205.3 L1080,204.2 L1083,203.9 L1086,204.1 L1089,204.7 L1092,205.8" fill="none" stroke="#fff" stroke-width="1.9" opacity="1" stroke-linecap="round"/><path d="M1071,218.5 L1074,216.0 L1077,214.2 L1080,213.1 L1083,212.9 L1086,213.1 L1089,213.7 L1092,214.7" fill="none" stroke="#fff" stroke-width="1.4" opacity="1" stroke-linecap="round"/><path d="M1071,227.0 L1074,224.7 L1077,223.0 L1080,222.1 L1083,221.9 L1086,222.0 L1089,222.6 L1092,223.6" fill="none" stroke="#fff" stroke-width="1.6" opacity="1" stroke-linecap="round"/><path d="M1074,233.3 L1077,231.8 L1080,231.0 L1083,230.8 L1086,231.0 L1089,231.5 L1092,232.4 L1095,233.7 L1098,235.2 L1101,237.1" fill="none" stroke="#fff" stroke-width="1.3" opacity="1" stroke-linecap="round"/><path d="M1074,244.2 L1077,242.9 L1080,242.2 L1083,242.0 L1086,242.2 L1089,242.7 L1092,243.5 L1095,244.6" fill="none" stroke="#fff" stroke-width="1.7" opacity="1" stroke-linecap="round"/><path d="M990,231.8 L993,232.5 L996,233.2 L999,233.8 L1002,234.4 L1005,234.9 L1008,235.2 L1011,235.4 L1014,235.3 L1017,235.0 L1020,234.5 L1023,233.6 L1026,232.4 L1029,230.9 L1032,229.0 L1035,226.7 L1038,224.1 L1041,221.1 L1044,217.8" fill="none" stroke="#fff" stroke-width="2.0" opacity="1" stroke-linecap="round"/><path d="M1047,220.6 L1050,216.9 L1053,213.2 L1056,209.4 L1059,205.5 L1062,201.4 L1065,197.2 L1068,192.9 L1071,188.9 L1074,185.7" fill="none" stroke="#fff" stroke-width="1.6" opacity="1" stroke-linecap="round"/><path d="M1092,190.3 L1095,192.0 L1098,194.2 L1101,196.8 L1104,199.9 L1107,203.1 L1110,206.5 L1113,209.9 L1116,213.4 L1119,216.9 L1122,220.3 L1125,223.6 L1128,226.9 L1131,230.0 L1134,233.1 L1137,236.1 L1140,239.0 L1143,241.8 L1146,244.6 L1149,247.3 L1152,249.9 L1155,252.4" fill="none" stroke="#fff" stroke-width="1.8" opacity="1" stroke-linecap="round"/><path d="M1095,198.6 L1098,200.7 L1101,203.2 L1104,206.1 L1107,209.2 L1110,212.4 L1113,215.7 L1116,219.0 L1119,222.3 L1122,225.5 L1125,228.7 L1128,231.8 L1131,234.8 L1134,237.8 L1137,240.6 L1140,243.4 L1143,246.1 L1146,248.8 L1149,251.3" fill="none" stroke="#fff" stroke-width="1.3" opacity="1" stroke-linecap="round"/><path d="M1062,226.4 L1065,223.0 L1068,219.5 L1071,216.4 L1074,213.8 L1077,212.0" fill="none" stroke="#fff" stroke-width="1.2" opacity="1" stroke-linecap="round"/><path d="M1047,309.9 L1050,309.1 L1053,308.3 L1056,307.5 L1059,306.7 L1062,306.0 L1065,305.3 L1068,304.7 L1071,304.1 L1074,303.8 L1077,303.6 L1080,303.5 L1083,303.6 L1086,303.9 L1089,304.2 L1092,304.5 L1095,304.9 L1098,305.4 L1101,305.9 L1104,306.5 L1107,307.1 L1110,307.7 L1113,308.3 L1116,309.0 L1119,309.6 L1122,310.3 L1125,311.0 L1128,311.7 L1131,312.4 L1134,313.1 L1137,313.8 L1140,314.5 L1143,315.2 L1146,315.9 L1149,316.5" fill="none" stroke="#fff" stroke-width="1.6" opacity="1" stroke-linecap="round"/><path d="M1050,304.9 L1053,303.9 L1056,303.0 L1059,302.1 L1062,301.2 L1065,300.3 L1068,299.5 L1071,298.9 L1074,298.4 L1077,298.1 L1080,298.0 L1083,298.0 L1086,298.3 L1089,298.6 L1092,299.0 L1095,299.4 L1098,300.0 L1101,300.6 L1104,301.3 L1107,302.1 L1110,302.8 L1113,303.6 L1116,304.3 L1119,305.1 L1122,305.9 L1125,306.7 L1128,307.6 L1131,308.4 L1134,309.2 L1137,310.1 L1140,310.9" fill="none" stroke="#fff" stroke-width="1.4" opacity="1" stroke-linecap="round"/><path d="M1062,295.4 L1065,294.4 L1068,293.4 L1071,292.5 L1074,291.9 L1077,291.4 L1080,291.3 L1083,291.3 L1086,291.5 L1089,291.9 L1092,292.3 L1095,292.9 L1098,293.5 L1101,294.3 L1104,295.1 L1107,296.0 L1110,296.9" fill="none" stroke="#fff" stroke-width="1.1" opacity="1" stroke-linecap="round"/><path d="M1002,206.0 L1005,206.8 L1008,207.3 L1011,207.5" fill="none" stroke="#fff" stroke-width="1.5" opacity="1" stroke-linecap="round"/><rect x="1272.8" y="285.3" width="3" height="7" rx="1.4" fill="#c9e8c4"/><rect x="1289.2" y="285.3" width="3.2" height="9" rx="1.5" fill="#5fb8c8"/></g><line x1="1067.3" y1="322.7" x2="1091.5" y2="52" stroke="#000" stroke-width="7.5"/><path d="M1075,73 L1092.5,47 L1106,78" fill="none" stroke="#000" stroke-width="7.5" stroke-linejoin="miter" stroke-linecap="round"/><rect x="1191.3" y="48.5" width="182.2" height="183.1" fill="#10130b"/><clipPath id="iclip"><rect x="1191.3" y="48.5" width="182.2" height="183.1"/></clipPath><g clip-path="url(#iclip)"><circle cx="1225.5" cy="82.7" r="5.8" fill="rgb(50,190,40)" opacity="0.90" filter="url(#glow)"/><circle cx="1225.5" cy="82.7" r="2.7" fill="rgb(110,255,80)" filter="url(#blur1)"/><circle cx="1295.2" cy="89.5" r="5.6" fill="rgb(47,180,38)" opacity="0.88" filter="url(#glow)"/><circle cx="1295.2" cy="89.5" r="2.5" fill="rgb(104,248,76)" filter="url(#blur1)"/><circle cx="1243.5" cy="110.8" r="5.4" fill="rgb(30,114,24)" opacity="0.74" filter="url(#glow)"/><circle cx="1243.5" cy="110.8" r="2.4" fill="rgb(66,201,48)" filter="url(#blur1)"/><circle cx="1196.2" cy="61.4" r="5.4" fill="rgb(25,95,20)" opacity="0.70" filter="url(#glow)"/><circle cx="1196.2" cy="61.4" r="2.4" fill="rgb(55,187,40)" filter="url(#blur1)"/><circle cx="1330.1" cy="52.4" r="5.4" fill="rgb(30,114,24)" opacity="0.74" filter="url(#glow)"/><circle cx="1330.1" cy="52.4" r="2.4" fill="rgb(66,201,48)" filter="url(#blur1)"/><circle cx="1370.6" cy="92.9" r="5.4" fill="rgb(30,114,24)" opacity="0.74" filter="url(#glow)"/><circle cx="1370.6" cy="92.9" r="2.4" fill="rgb(66,201,48)" filter="url(#blur1)"/><circle cx="1195.1" cy="117.6" r="5.4" fill="rgb(30,114,24)" opacity="0.74" filter="url(#glow)"/><circle cx="1195.1" cy="117.6" r="2.4" fill="rgb(66,201,48)" filter="url(#blur1)"/><circle cx="1284" cy="143.5" r="5.2" fill="rgb(40,152,32)" opacity="0.82" filter="url(#glow)"/><circle cx="1284" cy="143.5" r="2.2" fill="rgb(88,228,64)" filter="url(#blur1)"/><circle cx="1343.6" cy="153.6" r="5.6" fill="rgb(45,171,36)" opacity="0.86" filter="url(#glow)"/><circle cx="1343.6" cy="153.6" r="2.5" fill="rgb(99,241,72)" filter="url(#blur1)"/><circle cx="1305.3" cy="168.2" r="5.6" fill="rgb(47,180,38)" opacity="0.88" filter="url(#glow)"/><circle cx="1305.3" cy="168.2" r="2.5" fill="rgb(104,248,76)" filter="url(#blur1)"/><circle cx="1257" cy="179.5" r="5.4" fill="rgb(30,114,24)" opacity="0.74" filter="url(#glow)"/><circle cx="1257" cy="179.5" r="2.4" fill="rgb(66,201,48)" filter="url(#blur1)"/><circle cx="1204.1" cy="202" r="5.4" fill="rgb(35,133,28)" opacity="0.78" filter="url(#glow)"/><circle cx="1204.1" cy="202" r="2.4" fill="rgb(77,214,56)" filter="url(#blur1)"/><circle cx="1225.5" cy="196.3" r="5.2" fill="rgb(20,76,16)" opacity="0.66" filter="url(#glow)"/><circle cx="1225.5" cy="196.3" r="2.2" fill="rgb(44,174,32)" filter="url(#blur1)"/><circle cx="1261.5" cy="216.6" r="5.4" fill="rgb(30,114,24)" opacity="0.74" filter="url(#glow)"/><circle cx="1261.5" cy="216.6" r="2.4" fill="rgb(66,201,48)" filter="url(#blur1)"/><circle cx="1289.6" cy="214.3" r="5.4" fill="rgb(37,142,30)" opacity="0.80" filter="url(#glow)"/><circle cx="1289.6" cy="214.3" r="2.4" fill="rgb(82,221,60)" filter="url(#blur1)"/><circle cx="1204.1" cy="171.6" r="5.2" fill="rgb(17,66,14)" opacity="0.64" filter="url(#glow)"/><circle cx="1204.1" cy="171.6" r="2.2" fill="rgb(38,167,28)" filter="url(#blur1)"/><circle cx="1347" cy="103" r="5.2" fill="rgb(15,57,12)" opacity="0.62" filter="url(#glow)"/><circle cx="1347" cy="103" r="2.2" fill="rgb(33,160,24)" filter="url(#blur1)"/><circle cx="1330" cy="118" r="5.2" fill="rgb(12,47,10)" opacity="0.60" filter="url(#glow)"/><circle cx="1330" cy="118" r="2.2" fill="rgb(27,153,20)" filter="url(#blur1)"/><circle cx="1240" cy="177" r="5.2" fill="rgb(15,57,12)" opacity="0.62" filter="url(#glow)"/><circle cx="1240" cy="177" r="2.2" fill="rgb(33,160,24)" filter="url(#blur1)"/><circle cx="1226.5" cy="80.2" r="3" fill="#c06030" opacity="0.35" filter="url(#blur1)"/><circle cx="1296.2" cy="87.0" r="3" fill="#c06030" opacity="0.35" filter="url(#blur1)"/><circle cx="1344.6" cy="151.1" r="3" fill="#c06030" opacity="0.35" filter="url(#blur1)"/><circle cx="1290.6" cy="211.8" r="3" fill="#c06030" opacity="0.35" filter="url(#blur1)"/></g><circle cx="1284" cy="143.9" r="19.1" fill="none" stroke="#fff" stroke-width="8.3"/><text x="1290.6" y="202.3" font-family="Liberation Sans, sans-serif" font-size="35.5" fill="#fff">1 µm</text><rect x="1329" y="207.6" width="26.3" height="7.4" fill="#fff"/><rect x="981" y="22.4" width="413.5999999999999" height="310.40000000000003" fill="none" stroke="#000" stroke-width="2.4"/><line x1="976.5" y1="332.8" x2="981" y2="332.8" stroke="#000" stroke-width="1.3"/><text x="969.4" y="347.3" font-family="Liberation Sans, sans-serif" font-size="37" text-anchor="end">0.0</text><line x1="976.5" y1="270.7" x2="981" y2="270.7" stroke="#000" stroke-width="1.3"/><text x="969.4" y="285.2" font-family="Liberation Sans, sans-serif" font-size="37" text-anchor="end">0.1</text><line x1="976.5" y1="208.6" x2="981" y2="208.6" stroke="#000" stroke-width="1.3"/><text x="969.4" y="223.1" font-family="Liberation Sans, sans-serif" font-size="37" text-anchor="end">0.2</text><line x1="976.5" y1="146.6" x2="981" y2="146.6" stroke="#000" stroke-width="1.3"/><text x="969.4" y="161.1" font-family="Liberation Sans, sans-serif" font-size="37" text-anchor="end">0.3</text><line x1="976.5" y1="84.5" x2="981" y2="84.5" stroke="#000" stroke-width="1.3"/><text x="969.4" y="99.0" font-family="Liberation Sans, sans-serif" font-size="37" text-anchor="end">0.4</text><line x1="976.5" y1="22.4" x2="981" y2="22.4" stroke="#000" stroke-width="1.3"/><text x="969.4" y="36.9" font-family="Liberation Sans, sans-serif" font-size="37" text-anchor="end">0.5</text><line x1="1040.1" y1="332.8" x2="1040.1" y2="337.3" stroke="#000" stroke-width="1.3"/><text x="1040.1" y="372.6" font-family="Liberation Sans, sans-serif" font-size="37" text-anchor="middle">500</text><line x1="1158.3" y1="332.8" x2="1158.3" y2="337.3" stroke="#000" stroke-width="1.3"/><text x="1158.3" y="372.6" font-family="Liberation Sans, sans-serif" font-size="37" text-anchor="middle">600</text><line x1="1276.4" y1="332.8" x2="1276.4" y2="337.3" stroke="#000" stroke-width="1.3"/><text x="1276.4" y="372.6" font-family="Liberation Sans, sans-serif" font-size="37" text-anchor="middle">700</text><line x1="1394.6" y1="332.8" x2="1394.6" y2="337.3" stroke="#000" stroke-width="1.3"/><text x="1394.6" y="372.6" font-family="Liberation Sans, sans-serif" font-size="37" text-anchor="middle">800</text><text x="1196.3" y="403.2" font-family="Liberation Sans, sans-serif" font-size="36.7" text-anchor="middle">Wavelength (nm)</text><text transform="translate(902.6,181.6) rotate(-90)" font-family="Liberation Sans, sans-serif" font-size="37.2" text-anchor="middle">DF intensity (%)</text><text x="882" y="45.6" font-family="Liberation Sans, sans-serif" font-weight="bold" font-size="53">c</text><linearGradient id="cbg" x1="0" y1="1" x2="0" y2="0"><stop offset="0.0" stop-color="#e1f3dc"/><stop offset="0.1" stop-color="#d5eecf"/><stop offset="0.2" stop-color="#c6e9c2"/><stop offset="0.3" stop-color="#b0e0b8"/><stop offset="0.4" stop-color="#96d6bb"/><stop offset="0.5" stop-color="#7bccc4"/><stop offset="0.6" stop-color="#60bdcd"/><stop offset="0.7" stop-color="#46abce"/><stop offset="0.8" stop-color="#3193c2"/><stop offset="0.9" stop-color="#1c7cb6"/><stop offset="1.0" stop-color="#0866aa"/></linearGradient><rect x="1400.9" y="30" width="17.6" height="294.7" fill="url(#cbg)" stroke="#0f4461" stroke-width="3.8"/><text x="1427.6" y="63.9" font-family="Liberation Sans, sans-serif" font-size="36.6">40 h</text><text x="1427.6" y="333.6" font-family="Liberation Sans, sans-serif" font-size="36.6">4 h</text><clipPath id="dclip"><rect x="6" y="375" width="366" height="499.7"/></clipPath><g clip-path="url(#dclip)"><rect x="6" y="375" width="366" height="499.7" fill="#cdcdcd"/><rect x="6" y="375" width="366" height="499.7" filter="url(#noiseD2)" opacity="0.42"/><rect x="6" y="375" width="366" height="499.7" filter="url(#noiseD)" opacity="0.8"/><g fill="#0a0a0a" stroke="#0a0a0a" stroke-width="0.8" stroke-linejoin="round"><polygon points="69.0,375.3 71.8,373.2 74.0,375.7 74.0,377.3 72.7,381.9 69.7,381.3 67.1,380.7"/><polygon points="74.8,384.3 71.5,383.1 70.8,379.8 73.2,379.4 75.7,382.3"/><polygon points="179.7,379.5 178.3,378.1 180.2,374.7 182.9,374.8 183.5,378.9"/><polygon points="181.8,376.9 183.3,376.3 183.9,377.9 183.7,379.0 182.7,379.2 182.1,379.3 181.9,377.8"/><polygon points="61.1,405.6 58.8,405.8 57.2,404.0 59.2,403.0 60.7,404.0"/><polygon points="69.8,416.3 71.8,415.1 75.4,416.5 75.8,419.6 73.6,420.0 71.0,418.0"/><polygon points="76.4,416.9 75.5,418.5 73.7,417.6 72.9,415.8 74.1,414.6 75.2,415.2"/><polygon points="128.6,415.5 126.3,415.3 123.7,411.7 125.9,411.2 129.8,412.3"/><polygon points="128.7,412.1 127.7,412.2 127.0,411.2 127.3,410.1 127.9,409.3 129.0,410.5"/><polygon points="175.4,405.5 174.4,407.3 172.9,408.4 170.4,406.9 170.3,403.7 172.8,403.5"/><polygon points="171.0,404.0 171.2,402.8 173.0,401.5 174.3,402.7 173.3,404.6"/><polygon points="104.7,456.8 105.4,460.0 102.5,462.1 99.9,459.3 101.8,455.9"/><polygon points="71.1,464.2 72.0,466.6 70.7,468.4 69.1,467.2 69.4,463.4"/><polygon points="69.5,469.5 69.6,468.0 70.4,467.7 72.1,467.6 71.9,468.8 71.2,469.7"/><polygon points="72.6,470.3 76.0,471.3 76.0,472.9 74.6,474.0 73.9,474.7 71.6,472.9 70.4,470.8"/><polygon points="72.5,472.3 73.2,473.5 72.7,474.1 71.1,474.7 70.5,474.3 70.0,473.2 71.2,472.2"/><polygon points="51.9,474.1 49.8,474.9 49.3,473.4 50.4,470.7 51.6,471.4"/><polygon points="47.6,471.8 48.0,470.5 49.4,470.8 49.5,471.8 48.7,473.1"/><polygon points="34.5,473.7 34.0,475.2 32.8,476.2 31.8,476.0 31.8,474.7 32.0,473.9 33.4,473.1"/><polygon points="169.7,470.2 168.5,471.9 165.4,470.9 166.1,468.7 167.6,467.3 169.5,466.9 169.8,467.8"/><polygon points="158.4,484.9 156.2,484.0 155.0,481.7 158.2,481.0 160.7,480.7 161.3,483.4"/><polygon points="159.8,484.1 160.9,485.1 160.2,485.9 158.5,485.6 158.3,484.2"/><polygon points="169.1,481.1 169.9,478.0 171.1,478.2 172.6,479.8 171.0,483.1"/><polygon points="114.9,503.1 116.4,501.6 119.2,502.0 119.9,503.6 119.1,505.7 116.5,504.9"/><polygon points="115.5,503.5 116.6,504.6 116.9,505.7 115.9,506.1 114.0,505.3 113.9,504.3"/><polygon points="133.8,510.7 134.3,512.8 132.6,514.4 131.6,513.7 130.7,512.0 131.9,509.7"/><polygon points="160.5,505.9 160.0,507.4 157.5,508.0 155.2,506.5 157.5,505.1"/><polygon points="161.2,503.8 160.1,505.4 158.0,505.7 157.5,504.7 159.2,503.5"/><polygon points="43.1,520.8 42.4,519.1 44.3,516.6 45.5,516.2 47.5,515.8 47.0,518.8 45.3,520.0"/><polygon points="43.4,518.4 41.7,516.9 42.1,516.2 42.7,514.9 44.5,516.1 44.1,517.3"/><polygon points="325.1,379.1 327.2,377.2 329.7,379.5 329.5,381.8 327.1,381.7"/><polygon points="353.2,378.7 348.7,378.1 348.0,375.3 351.4,373.6 352.6,375.5"/><polygon points="217.4,402.7 218.1,400.4 221.7,401.7 222.0,402.9 221.8,404.8 219.9,406.2 218.4,404.5"/><polygon points="221.5,405.4 220.9,404.9 221.6,403.3 222.1,402.9 223.7,403.1 222.9,404.0"/><polygon points="263.5,397.8 263.3,395.6 265.6,394.9 267.2,395.7 266.2,398.5 265.1,399.1"/><polygon points="265.6,394.2 267.0,394.3 267.8,395.8 267.1,396.4 265.6,395.6"/><polygon points="288.2,399.2 288.0,400.8 285.9,401.5 283.9,399.0 284.8,397.1 286.5,396.8"/><polygon points="289.1,397.5 289.1,399.5 287.7,400.5 286.8,399.4 287.1,397.1 288.3,397.3"/><polygon points="326.5,402.4 327.4,403.0 326.4,405.5 324.3,406.0 322.8,404.7 324.9,402.2"/><polygon points="372.7,401.2 372.1,402.7 370.3,403.3 369.9,401.9 370.9,399.9 372.2,399.7"/><polygon points="294.9,430.5 296.8,430.3 299.5,431.9 301.2,433.5 299.3,435.2 296.2,433.6 295.8,432.0"/><polygon points="217.8,449.2 219.0,445.6 222.6,444.9 223.7,447.2 220.9,450.3"/><polygon points="364.7,453.0 366.6,454.9 366.9,457.3 366.1,459.4 362.4,459.0 362.2,456.2 362.5,455.3"/><polygon points="266.3,464.6 264.7,465.5 263.1,464.6 263.1,463.0 263.9,462.0 265.9,462.3 266.5,463.3"/><polygon points="226.4,483.8 224.2,482.5 222.7,480.0 225.6,479.3 227.7,480.4 229.4,483.7"/><polygon points="226.7,480.6 225.9,479.4 226.9,477.8 229.6,478.0 229.1,480.0"/><polygon points="336.4,491.5 333.6,489.8 332.5,487.2 335.9,485.0 339.0,488.0"/><polygon points="334.7,489.5 333.3,491.5 330.8,490.1 332.2,488.3 334.6,488.0"/><polygon points="297.2,496.3 295.8,494.4 294.9,493.3 297.4,492.0 298.9,492.3 300.7,494.6 299.7,495.7"/><polygon points="243.7,505.5 245.3,506.9 245.6,509.8 244.6,511.5 243.5,511.4 241.6,509.7 242.4,507.7"/><polygon points="245.2,509.5 244.4,508.4 246.6,507.0 247.8,508.6 246.6,509.9"/><polygon points="287.9,528.4 285.7,525.2 286.6,521.6 289.3,523.1 290.3,525.9"/><polygon points="79.7,535.7 78.5,533.0 78.8,531.3 81.2,531.6 84.0,535.7 82.1,535.8"/><polygon points="112.6,532.2 113.9,533.8 115.4,536.3 113.9,537.5 111.8,535.8 109.9,533.5"/><polygon points="113.1,535.3 115.2,534.8 115.7,535.2 116.2,536.9 114.8,537.7 114.0,537.5"/><polygon points="45.1,543.3 45.4,546.3 42.2,547.7 40.0,546.4 42.5,542.4"/><polygon points="41.5,546.2 40.7,547.1 38.7,545.8 38.5,544.0 39.6,543.2 41.2,544.3"/><polygon points="103.3,590.8 101.0,589.5 101.9,586.1 104.4,585.0 105.0,586.4 104.6,588.7"/><polygon points="104.2,590.9 102.8,590.7 103.8,589.3 104.4,588.3 106.5,588.7 106.6,589.6 105.8,590.9"/><polygon points="119.3,581.6 121.0,582.5 121.7,583.5 120.9,586.3 118.9,587.6 117.3,585.2 117.7,583.9"/><polygon points="117.4,583.6 119.2,583.7 118.8,585.5 117.8,586.4 116.3,586.1 116.6,584.2"/><polygon points="177.2,587.3 176.1,587.3 175.3,583.8 177.3,582.9 178.0,584.2"/><polygon points="176.2,585.9 178.6,586.0 178.4,587.3 176.4,587.9 174.9,587.0"/><polygon points="151.0,601.9 151.5,599.5 153.0,597.8 153.8,599.1 155.2,600.8 153.4,602.3 152.4,602.6"/><polygon points="151.3,598.7 151.1,598.1 152.9,597.4 153.4,598.2 153.2,599.0 152.3,599.1"/><polygon points="19.5,607.6 22.3,609.3 25.3,611.4 24.7,614.0 21.5,614.3 19.2,612.6 19.4,611.2"/><polygon points="65.5,623.1 66.8,622.9 67.1,624.5 65.6,625.5 64.3,625.6 64.0,623.8"/><polygon points="96.8,625.4 94.6,626.9 92.2,625.6 91.2,623.3 93.2,622.4 95.8,623.1"/><polygon points="95.6,623.4 94.7,623.7 93.2,623.2 92.4,621.9 93.5,620.9 95.1,621.1 95.6,621.7"/><polygon points="162.0,626.1 159.9,627.3 158.1,626.5 159.2,624.6 160.7,624.0 163.1,624.3"/><polygon points="178.1,645.6 180.7,645.8 180.2,648.3 177.6,648.8 174.9,646.7"/><polygon points="66.8,647.2 65.3,649.2 63.1,648.4 64.1,645.7 66.0,645.7"/><polygon points="65.5,646.7 64.9,645.8 64.9,645.0 66.5,645.5 66.9,646.4"/><polygon points="42.0,654.7 39.3,657.5 38.6,657.9 37.0,656.7 37.1,654.6 38.3,652.8 40.9,652.8"/><polygon points="38.7,657.0 40.7,656.4 42.2,656.6 41.6,658.1 41.0,658.5 38.9,659.0 38.2,657.7"/><polygon points="18.5,666.0 17.2,667.7 15.2,665.8 14.2,664.0 15.8,663.0 17.6,662.7 18.4,663.8"/><polygon points="18.6,667.3 17.0,667.4 16.3,666.7 18.0,665.4 19.0,666.0"/><polygon points="123.8,689.8 125.8,690.3 125.8,693.5 125.2,695.6 122.8,695.6 120.6,693.8 122.0,690.8"/><polygon points="120.6,694.6 119.2,692.4 121.8,692.4 123.6,693.6 122.6,695.0"/><polygon points="33.6,696.7 30.2,697.3 29.1,696.5 29.3,694.5 31.6,693.4 34.3,694.9"/><polygon points="31.7,695.7 32.2,695.0 33.7,695.0 33.9,697.1 33.0,698.6 31.6,697.5"/><polygon points="175.7,694.0 177.8,693.5 180.1,694.8 178.7,696.7 178.0,697.1 175.1,697.4 173.9,694.9"/><polygon points="179.6,693.1 180.1,695.1 179.3,696.3 178.3,695.4 178.2,693.9 178.7,692.5"/><polygon points="360.8,548.4 360.8,550.7 357.1,552.1 354.4,551.1 357.5,548.4"/><polygon points="358.6,550.1 359.2,548.9 361.0,548.1 361.6,549.4 361.2,551.7 359.1,551.9"/><polygon points="221.0,555.8 220.1,554.9 219.7,552.5 221.9,551.2 222.8,553.3 222.7,555.4"/><polygon points="220.5,553.1 219.3,551.6 221.0,551.2 222.3,551.7 222.8,552.8"/><polygon points="192.5,574.4 191.1,573.7 192.3,570.2 194.0,569.9 195.7,570.8 195.3,573.3 195.0,574.9"/><polygon points="216.8,580.6 218.1,580.7 219.0,581.5 219.0,583.5 217.4,583.5 216.9,582.7"/><polygon points="241.7,582.2 241.7,578.9 243.9,577.2 246.4,578.4 247.0,581.5 244.8,584.8 242.6,583.4"/><polygon points="241.4,582.8 241.9,581.9 243.9,582.1 245.1,582.9 244.7,584.2 243.9,584.8 241.8,584.3"/><polygon points="311.6,585.2 314.6,581.5 316.7,583.0 316.9,587.1 313.3,589.5"/><polygon points="313.5,585.2 312.3,584.8 311.6,583.0 312.7,582.0 314.1,583.6"/><polygon points="367.6,583.2 367.9,585.8 366.9,587.9 365.0,587.4 364.8,584.0 366.2,582.6"/><polygon points="366.2,582.1 366.8,583.9 364.9,585.0 363.3,584.8 364.2,583.1"/><polygon points="210.5,598.1 208.9,599.1 206.4,597.6 207.7,594.2 209.6,595.5"/><polygon points="210.1,596.8 209.3,596.0 209.1,595.0 211.3,594.3 212.2,595.0 211.3,596.1"/><polygon points="235.0,602.0 234.4,600.7 235.0,600.0 236.8,601.3 236.6,602.2"/><polygon points="301.4,607.7 297.6,608.1 295.9,607.1 294.7,604.4 296.2,603.7 299.3,605.2"/><polygon points="369.3,601.6 367.4,600.9 365.7,598.5 368.4,598.2 371.2,600.3"/><polygon points="371.7,599.5 371.4,601.2 370.8,601.9 369.1,601.9 368.1,601.2 369.2,599.9 370.6,599.6"/><polygon points="224.4,641.9 224.3,639.5 227.1,637.5 229.0,638.3 229.0,641.2 226.1,644.2"/><polygon points="222.8,640.3 222.9,637.6 224.1,637.1 225.7,638.0 225.0,641.4 224.0,641.4"/><polygon points="179.5,645.5 179.7,644.2 182.1,643.5 182.9,644.1 182.1,645.7 181.2,646.7 180.1,646.7"/><polygon points="325.5,649.6 326.6,650.9 327.8,654.7 324.3,655.1 322.2,654.7 322.1,652.4"/><polygon points="325.3,654.7 323.2,655.8 320.8,654.8 322.2,653.2 324.4,653.5"/><polygon points="286.1,656.4 288.1,656.2 289.7,659.0 287.2,661.1 284.7,660.3"/><polygon points="353.8,673.6 354.3,672.7 356.3,673.7 355.9,675.6 354.9,678.4 353.4,676.9"/><polygon points="262.2,695.3 263.9,697.6 260.6,698.8 258.8,697.1 259.7,694.2"/><polygon points="260.8,694.5 259.4,695.5 258.2,695.0 258.3,692.9 260.5,692.6"/><polygon points="44.1,715.7 44.9,714.1 47.5,714.9 48.4,716.5 48.6,719.9 45.5,718.9"/><polygon points="79.6,713.9 81.4,716.2 81.0,719.3 79.0,719.0 78.2,716.1"/><polygon points="81.2,717.6 82.6,718.4 82.4,719.8 81.4,720.0 80.3,718.4"/><polygon points="22.0,731.3 24.2,732.5 24.7,734.7 21.5,736.1 20.2,733.2"/><polygon points="21.0,733.5 20.4,733.0 20.2,732.0 20.8,730.9 22.0,730.9 22.3,731.5 22.1,733.4"/><polygon points="133.1,769.1 132.0,768.3 132.1,766.2 133.9,765.3 135.6,764.8 136.8,765.7 135.4,767.4"/><polygon points="151.0,762.4 153.2,762.5 155.2,763.8 153.7,765.4 151.9,767.0 149.7,764.9"/><polygon points="153.0,765.2 154.1,765.1 155.3,765.5 154.9,766.2 153.4,766.5 152.4,765.8"/><polygon points="118.4,776.1 121.1,777.8 121.3,779.1 120.2,780.8 117.9,781.2 116.6,780.5 116.6,778.4"/><polygon points="37.0,786.6 37.6,787.5 34.6,788.6 31.9,787.7 31.7,786.3 32.3,785.0 35.7,784.2"/><polygon points="36.6,784.2 37.8,785.8 37.0,787.1 35.1,786.2 34.2,784.5"/><polygon points="145.5,817.1 143.7,818.7 143.3,819.8 141.4,818.8 139.8,817.3 142.1,815.0 144.2,815.1"/><polygon points="143.2,817.8 144.2,817.6 144.9,818.7 144.5,819.7 142.3,820.7 141.7,819.5 141.8,817.9"/><polygon points="30.5,824.6 28.5,825.8 27.9,824.9 28.2,824.0 29.8,822.7 30.4,823.5"/><polygon points="68.6,829.7 69.4,829.0 70.7,830.0 70.7,831.0 69.3,831.4 68.0,830.3"/><polygon points="129.2,829.6 129.4,831.7 128.2,833.7 127.1,833.7 124.8,831.9 125.6,830.2 126.7,829.5"/><polygon points="161.9,840.9 163.1,842.3 163.9,845.3 161.4,845.0 160.2,843.4 160.5,841.2"/><polygon points="160.0,841.6 161.2,842.6 161.1,844.1 159.2,843.4 158.7,842.1"/><polygon points="47.8,860.5 47.5,859.3 47.8,856.6 50.8,857.1 52.6,858.0 53.0,859.9 50.5,860.7"/><polygon points="50.8,858.4 50.5,857.3 52.0,856.9 54.5,856.9 53.7,858.1 53.2,859.7 51.2,859.6"/><polygon points="80.6,875.0 80.0,871.8 80.4,869.8 83.0,871.0 85.3,873.5 83.9,876.3"/><polygon points="247.7,708.7 247.5,710.5 245.6,711.7 245.1,711.0 244.9,708.3 245.8,706.4 246.6,706.9"/><polygon points="245.4,709.6 245.3,710.6 244.1,711.1 243.6,710.4 242.9,709.1 244.0,708.2 245.0,708.9"/><polygon points="237.7,717.6 236.0,718.2 233.7,716.8 233.4,714.2 235.5,714.0 237.2,715.1"/><polygon points="333.6,722.7 334.4,723.8 332.6,725.4 329.9,725.6 328.4,724.7 330.2,722.0"/><polygon points="217.4,751.5 216.4,749.3 217.5,747.5 220.5,746.7 220.8,748.4 220.0,750.5 218.3,752.0"/><polygon points="220.0,748.8 220.9,748.2 222.0,748.7 221.2,750.3 220.3,750.6"/><polygon points="195.2,769.4 193.9,767.6 196.6,767.1 199.6,768.7 199.2,770.7 198.3,771.5 197.1,771.2"/><polygon points="229.5,772.3 229.9,768.1 231.9,768.2 233.1,771.3 233.6,773.4 231.1,774.2"/><polygon points="279.5,768.9 278.3,769.4 276.4,768.5 275.9,766.6 277.1,764.6 278.0,764.0 279.8,764.9"/><polygon points="278.9,765.9 280.4,765.6 281.0,767.0 281.1,768.4 278.8,767.3"/><polygon points="339.9,757.3 341.0,755.2 343.7,756.4 346.4,758.4 346.4,760.0 343.8,760.8 341.7,759.3"/><polygon points="327.1,799.0 327.5,802.7 324.7,803.8 322.3,801.8 324.4,799.9"/><polygon points="354.1,813.5 351.8,815.0 350.7,814.1 350.5,812.4 351.6,810.9 353.2,810.8 353.9,812.5"/><polygon points="249.2,824.5 250.9,823.8 252.1,823.9 251.2,827.3 249.8,828.0 248.7,826.9"/><polygon points="278.0,830.1 276.3,828.9 275.8,826.1 277.5,825.6 280.0,826.8 281.1,829.8"/><polygon points="235.7,834.0 232.8,834.9 232.2,832.1 234.9,829.0 236.3,831.1"/><polygon points="232.2,833.2 231.1,833.9 230.5,832.3 230.6,831.7 231.8,831.1 233.0,831.5 232.9,832.6"/><polygon points="322.9,837.3 320.4,835.4 319.2,833.6 320.6,831.8 323.8,831.7 324.7,834.4 324.9,835.5"/><polygon points="322.0,831.8 322.6,833.0 321.4,834.4 320.1,834.7 318.7,832.8 319.3,830.9 320.5,830.7"/><polygon points="204.9,839.9 204.5,836.8 206.6,836.1 208.7,839.0 207.5,840.5"/><polygon points="207.0,837.1 208.2,836.6 210.6,838.5 210.1,839.8 208.0,840.0"/><polygon points="195.4,868.2 195.2,865.6 196.1,864.6 198.2,865.5 200.0,868.7 199.6,869.2 198.7,870.6"/><polygon points="197.6,864.1 199.2,864.2 200.4,864.8 199.8,866.1 198.9,866.5 197.3,865.7"/><polygon points="335.5,867.9 333.6,870.1 331.2,869.3 329.4,866.9 332.7,866.1"/><polygon points="331.6,865.3 332.7,864.2 333.0,866.0 332.2,867.2 330.6,867.2"/></g></g><text x="14.8" y="423" font-family="Liberation Sans, sans-serif" font-weight="bold" font-size="53">d</text><rect x="25" y="839.6" width="109.2" height="7.7" fill="#000"/><text x="38.4" y="827.2" font-family="Liberation Sans, sans-serif" font-size="40">5 µm</text><clipPath id="eclip"><rect x="376.9" y="374" width="361.1" height="500.7"/></clipPath><g clip-path="url(#eclip)"><linearGradient id="eg" x1="0" y1="0" x2="1" y2="1"><stop offset="0" stop-color="#c2c2c2"/><stop offset="1" stop-color="#bcbcbc"/></linearGradient><rect x="376.9" y="374" width="361.1" height="500.7" fill="url(#eg)"/><rect x="376.9" y="374" width="361.1" height="500.7" filter="url(#noiseE)" opacity="0.25"/><linearGradient id="shg" x1="0" y1="0" x2="1" y2="0"><stop offset="0" stop-color="#8a8a8a"/><stop offset="1" stop-color="#4a4a4a"/></linearGradient><g filter="url(#blur06)" opacity="0.95"><path d="M383.4,381.9 C386.9,385.7 393.8,386.0 396.9,382.9 L396.5,381.6 Z" fill="url(#shg)"/><ellipse cx="390.3" cy="381.3" rx="5.9" ry="1.2" fill="#fbfbfb"/></g><g filter="url(#blur06)" opacity="0.95"><path d="M472.0,392.6 C475.1,396.1 481.5,396.4 484.3,393.5 L484.0,392.3 Z" fill="url(#shg)"/><ellipse cx="478.3" cy="392.1" rx="5.4" ry="1.1" fill="#fbfbfb"/></g><g filter="url(#blur06)" opacity="1.00"><path d="M416.3,425.9 C420.4,430.3 428.4,430.7 432.0,427.1 L431.6,425.6 Z" fill="url(#shg)"/><ellipse cx="424.4" cy="425.3" rx="6.8" ry="1.4" fill="#fbfbfb"/></g><g filter="url(#blur06)" opacity="0.66"><path d="M427.8,450.0 C430.1,452.5 434.7,452.8 436.8,450.7 L436.5,449.7 Z" fill="url(#shg)"/><ellipse cx="432.4" cy="449.6" rx="3.9" ry="0.9" fill="#fbfbfb"/></g><g filter="url(#blur06)" opacity="0.85"><path d="M453.4,495.7 C456.0,498.5 461.2,498.8 463.5,496.5 L463.3,495.4 Z" fill="url(#shg)"/><ellipse cx="458.6" cy="495.3" rx="4.4" ry="0.9" fill="#fbfbfb"/></g><g filter="url(#blur06)" opacity="0.38"><path d="M458.6,381.9 C460.3,383.8 463.7,384.0 465.3,382.4 L465.1,381.6 Z" fill="url(#shg)"/><ellipse cx="462.0" cy="381.6" rx="2.9" ry="0.9" fill="#fbfbfb"/></g><g filter="url(#blur06)" opacity="0.38"><path d="M501.2,405.0 C503.0,406.9 506.4,407.1 508.0,405.5 L507.8,404.7 Z" fill="url(#shg)"/><ellipse cx="504.7" cy="404.7" rx="2.9" ry="0.9" fill="#fbfbfb"/></g><g filter="url(#blur06)" opacity="0.33"><path d="M502.6,441.7 C504.3,443.6 507.7,443.8 509.3,442.2 L509.1,441.4 Z" fill="url(#shg)"/><ellipse cx="506.0" cy="441.4" rx="2.9" ry="0.9" fill="#fbfbfb"/></g><g filter="url(#blur06)" opacity="0.33"><path d="M433.8,468.5 C435.5,470.4 438.9,470.6 440.5,469.0 L440.3,468.2 Z" fill="url(#shg)"/><ellipse cx="437.2" cy="468.2" rx="2.9" ry="0.9" fill="#fbfbfb"/></g><g filter="url(#blur06)" opacity="0.95"><path d="M627.1,389.1 C630.2,392.6 636.6,392.9 639.4,390.0 L639.1,388.8 Z" fill="url(#shg)"/><ellipse cx="633.4" cy="388.6" rx="5.4" ry="1.1" fill="#fbfbfb"/></g><g filter="url(#blur06)" opacity="0.95"><path d="M614.7,417.4 C617.8,420.9 624.2,421.2 627.0,418.3 L626.7,417.1 Z" fill="url(#shg)"/><ellipse cx="621.0" cy="416.9" rx="5.4" ry="1.1" fill="#fbfbfb"/></g><g filter="url(#blur06)" opacity="0.57"><path d="M668.7,406.3 C670.7,408.5 674.7,408.7 676.5,406.9 L676.3,406.0 Z" fill="url(#shg)"/><ellipse cx="672.7" cy="406.0" rx="3.4" ry="0.9" fill="#fbfbfb"/></g><g filter="url(#blur06)" opacity="0.85"><path d="M695.6,439.8 C698.5,443.0 704.3,443.2 706.9,440.7 L706.6,439.5 Z" fill="url(#shg)"/><ellipse cx="701.4" cy="439.3" rx="4.9" ry="1.0" fill="#fbfbfb"/></g><g filter="url(#blur06)" opacity="0.85"><path d="M582.8,462.2 C585.6,465.4 591.4,465.6 594.0,463.1 L593.7,461.9 Z" fill="url(#shg)"/><ellipse cx="588.5" cy="461.7" rx="4.9" ry="1.0" fill="#fbfbfb"/></g><g filter="url(#blur06)" opacity="1.00"><path d="M566.8,477.1 C570.2,480.9 577.2,481.2 580.3,478.1 L579.9,476.8 Z" fill="url(#shg)"/><ellipse cx="573.7" cy="476.5" rx="5.9" ry="1.2" fill="#fbfbfb"/></g><g filter="url(#blur06)" opacity="1.00"><path d="M682.0,509.1 C685.4,512.9 692.4,513.2 695.5,510.1 L695.1,508.8 Z" fill="url(#shg)"/><ellipse cx="688.9" cy="508.5" rx="5.9" ry="1.2" fill="#fbfbfb"/></g><g filter="url(#blur06)" opacity="0.66"><path d="M618.3,508.1 C620.6,510.6 625.2,510.9 627.3,508.8 L627.0,507.8 Z" fill="url(#shg)"/><ellipse cx="622.9" cy="507.7" rx="3.9" ry="0.9" fill="#fbfbfb"/></g><g filter="url(#blur06)" opacity="0.57"><path d="M719.4,532.6 C721.4,534.8 725.4,535.0 727.2,533.2 L727.0,532.3 Z" fill="url(#shg)"/><ellipse cx="723.4" cy="532.3" rx="3.4" ry="0.9" fill="#fbfbfb"/></g><g filter="url(#blur06)" opacity="0.38"><path d="M689.2,424.5 C691.0,426.4 694.4,426.6 696.0,425.0 L695.8,424.2 Z" fill="url(#shg)"/><ellipse cx="692.7" cy="424.2" rx="2.9" ry="0.9" fill="#fbfbfb"/></g><g filter="url(#blur06)" opacity="0.38"><path d="M719.9,391.0 C721.7,392.9 725.1,393.1 726.7,391.5 L726.5,390.7 Z" fill="url(#shg)"/><ellipse cx="723.4" cy="390.7" rx="2.9" ry="0.9" fill="#fbfbfb"/></g><g filter="url(#blur06)" opacity="0.33"><path d="M659.6,472.4 C661.4,474.3 664.8,474.5 666.4,472.9 L666.2,472.1 Z" fill="url(#shg)"/><ellipse cx="663.1" cy="472.1" rx="2.9" ry="0.9" fill="#fbfbfb"/></g><g filter="url(#blur06)" opacity="0.33"><path d="M556.3,430.3 C558.1,432.2 561.5,432.4 563.1,430.8 L562.9,430.0 Z" fill="url(#shg)"/><ellipse cx="559.8" cy="430.0" rx="2.9" ry="0.9" fill="#fbfbfb"/></g><g filter="url(#blur06)" opacity="0.33"><path d="M591.8,392.0 C593.5,393.9 596.9,394.1 598.5,392.5 L598.3,391.7 Z" fill="url(#shg)"/><ellipse cx="595.2" cy="391.7" rx="2.9" ry="0.9" fill="#fbfbfb"/></g><g filter="url(#blur06)" opacity="1.00"><path d="M463.2,558.9 C467.0,563.0 474.4,563.4 477.8,560.0 L477.4,558.6 Z" fill="url(#shg)"/><ellipse cx="470.7" cy="558.3" rx="6.4" ry="1.3" fill="#fbfbfb"/></g><g filter="url(#blur06)" opacity="0.85"><path d="M375.2,615.0 C377.5,617.5 382.1,617.8 384.2,615.7 L383.9,614.7 Z" fill="url(#shg)"/><ellipse cx="379.8" cy="614.6" rx="3.9" ry="0.9" fill="#fbfbfb"/></g><g filter="url(#blur06)" opacity="1.00"><path d="M509.1,666.6 C512.9,670.7 520.3,671.1 523.7,667.7 L523.3,666.3 Z" fill="url(#shg)"/><ellipse cx="516.6" cy="666.0" rx="6.4" ry="1.3" fill="#fbfbfb"/></g><g filter="url(#blur06)" opacity="0.95"><path d="M705.6,579.0 C708.7,582.5 715.1,582.8 717.9,579.9 L717.6,578.7 Z" fill="url(#shg)"/><ellipse cx="711.9" cy="578.5" rx="5.4" ry="1.1" fill="#fbfbfb"/></g><g filter="url(#blur06)" opacity="1.00"><path d="M665.2,598.7 C668.6,602.5 675.6,602.8 678.7,599.7 L678.3,598.4 Z" fill="url(#shg)"/><ellipse cx="672.1" cy="598.1" rx="5.9" ry="1.2" fill="#fbfbfb"/></g><g filter="url(#blur06)" opacity="1.00"><path d="M595.0,613.8 C598.4,617.6 605.4,617.9 608.5,614.8 L608.1,613.5 Z" fill="url(#shg)"/><ellipse cx="601.9" cy="613.2" rx="5.9" ry="1.2" fill="#fbfbfb"/></g><g filter="url(#blur06)" opacity="0.57"><path d="M639.6,640.6 C641.8,643.0 646.2,643.2 648.2,641.3 L647.9,640.3 Z" fill="url(#shg)"/><ellipse cx="644.0" cy="640.3" rx="3.7" ry="0.9" fill="#fbfbfb"/></g><g filter="url(#blur06)" opacity="0.57"><path d="M672.7,656.5 C674.9,658.9 679.3,659.1 681.3,657.2 L681.0,656.2 Z" fill="url(#shg)"/><ellipse cx="677.1" cy="656.2" rx="3.7" ry="0.9" fill="#fbfbfb"/></g><g filter="url(#blur06)" opacity="0.28"><path d="M556.9,551.3 C558.4,552.9 561.2,553.0 562.5,551.7 L562.4,551.0 Z" fill="url(#shg)"/><ellipse cx="559.8" cy="551.1" rx="2.4" ry="0.9" fill="#fbfbfb"/></g><g filter="url(#blur06)" opacity="0.28"><path d="M642.0,560.8 C643.5,562.4 646.3,562.5 647.6,561.2 L647.5,560.5 Z" fill="url(#shg)"/><ellipse cx="644.9" cy="560.6" rx="2.4" ry="0.9" fill="#fbfbfb"/></g><g filter="url(#blur06)" opacity="0.28"><path d="M710.9,563.7 C712.4,565.3 715.2,565.4 716.5,564.1 L716.4,563.4 Z" fill="url(#shg)"/><ellipse cx="713.8" cy="563.5" rx="2.4" ry="0.9" fill="#fbfbfb"/></g><g filter="url(#blur06)" opacity="0.28"><path d="M650.6,587.6 C652.1,589.2 654.9,589.3 656.2,588.0 L656.1,587.3 Z" fill="url(#shg)"/><ellipse cx="653.5" cy="587.4" rx="2.4" ry="0.9" fill="#fbfbfb"/></g><g filter="url(#blur06)" opacity="0.76"><path d="M399.8,709.7 C402.4,712.5 407.6,712.8 409.9,710.5 L409.7,709.4 Z" fill="url(#shg)"/><ellipse cx="405.0" cy="709.3" rx="4.4" ry="0.9" fill="#fbfbfb"/></g><g filter="url(#blur06)" opacity="0.85"><path d="M406.6,757.1 C409.5,760.3 415.3,760.6 417.9,758.0 L417.6,756.8 Z" fill="url(#shg)"/><ellipse cx="412.4" cy="756.6" rx="4.9" ry="1.0" fill="#fbfbfb"/></g><g filter="url(#blur06)" opacity="0.47"><path d="M397.3,816.0 C399.3,818.2 403.3,818.4 405.1,816.6 L404.9,815.7 Z" fill="url(#shg)"/><ellipse cx="401.3" cy="815.7" rx="3.4" ry="0.9" fill="#fbfbfb"/></g><g filter="url(#blur06)" opacity="1.00"><path d="M515.8,839.6 C519.8,844.0 527.8,844.4 531.4,840.8 L531.0,839.3 Z" fill="url(#shg)"/><ellipse cx="523.8" cy="839.0" rx="6.8" ry="1.4" fill="#fbfbfb"/></g><g filter="url(#blur06)" opacity="0.85"><path d="M407.2,864.9 C410.3,868.4 416.7,868.7 419.5,865.8 L419.2,864.6 Z" fill="url(#shg)"/><ellipse cx="413.5" cy="864.4" rx="5.4" ry="1.1" fill="#fbfbfb"/></g><ellipse cx="620.4" cy="769.7" rx="115.6" ry="99.5" fill="#a4a4a4" stroke="#000" stroke-width="2.3"/><linearGradient id="lensg" x1="0" y1="0" x2="0" y2="1"><stop offset="0" stop-color="#bababa"/><stop offset="0.28" stop-color="#b0b0b0"/><stop offset="0.5" stop-color="#8c8c8c"/><stop offset="0.75" stop-color="#787878"/><stop offset="1" stop-color="#848484"/></linearGradient><filter id="blur25" x="-50%" y="-50%" width="200%" height="200%"><feGaussianBlur stdDeviation="2.6"/></filter><g filter="url(#blur25)"><ellipse cx="624" cy="762" rx="31" ry="12" transform="rotate(8 624 762)" fill="url(#lensg)"/></g><clipPath id="eins"><ellipse cx="620.4" cy="769.7" rx="114" ry="98"/></clipPath><rect x="505" y="671" width="232" height="198" clip-path="url(#eins)" filter="url(#noiseE)" opacity="0.25"/></g><text x="391.3" y="418.6" font-family="Liberation Sans, sans-serif" font-weight="bold" font-size="53">e</text><rect x="407.4" y="839.6" width="84.6" height="7.7" fill="#000"/><text x="398.2" y="827.9" font-family="Liberation Sans, sans-serif" font-size="42.5">1 µm</text><text x="551.3" y="826.1" font-family="Liberation Sans, sans-serif" font-size="42.2">100 nm</text><rect x="632.5" y="833.7" width="37.1" height="6.7" fill="#000"/><text x="763" y="423.2" font-family="Liberation Sans, sans-serif" font-weight="bold" font-size="53">f</text><clipPath id="fclip"><rect x="868" y="418.7" width="593" height="393"/></clipPath><g clip-path="url(#fclip)"><polyline points="866,781 900,782 938,778 970,782 1013.6,780 1029.6,779.2 1047.2,781.1 1068,779.2 1085.6,766.4 1104,731.2 1115.8,700 1122.1,685.8 1140.1,653.4 1158.1,639.9 1177,633.6 1195,630 1213.9,628.2 1231.9,632.7 1250.8,652.5 1261.6,680 1270.4,696 1286.1,742.7 1305.3,767.4 1323.3,779.8 1359.3,782.5 1400,784.5 1433.6,784.4 1462,781.3" fill="none" stroke="#34495f" stroke-width="2.9" stroke-linejoin="round"/><polyline points="866,785 920,787 960,786 1000,783 1030.7,779.1 1048,761.8 1066.6,730.8 1083.4,698.4 1104.1,672.3 1123,660.6 1141,657 1158.1,656.1 1177,658.4 1195,669.6 1203.2,680 1213,691.2 1232,726.4 1249.6,764.8 1268,786.4 1285,786.6 1361,786.6 1433,790 1462,790" fill="none" stroke="#2a3a4c" stroke-width="2.9" stroke-linejoin="round"/><polyline points="866,778 919,774.4 938,774.4 956,776.8 986,778.4 993,776 1012,760.8 1029.5,733.9 1049.3,690 1053.6,680 1060,669.6 1067.2,653.4 1085.2,631.8 1104.1,621 1122.1,620.1 1140.1,632.7 1155,652 1176,680 1194.4,695.2 1213.6,709.6 1232,729.6 1249.6,753.6 1267.2,772.8 1285,782 1307.5,786 1362,787.8 1400,784.5 1430,782.5 1449.7,789.6 1462,789.5" fill="none" stroke="#2c3d50" stroke-width="2.9" stroke-linejoin="round"/><polyline points="866,783 920,785 960,784 1000,781 1011,779 1027,763 1045.6,737.6 1065.4,690 1069.6,680 1101.4,599.4 1118,560 1134.5,524.7 1152.6,494.8 1170.7,475.9 1188.8,476.7 1199,505 1209.4,540 1238.4,680 1242.4,699.2 1260.8,754.4 1278.3,779.8 1300,782 1340,785.5 1380,786.5 1420,783.5 1449.7,785.5 1462,786" fill="none" stroke="#34495f" stroke-width="2.9" stroke-linejoin="round"/><polyline points="866,792 900,791 940,790 990,790 1030,788 1052,770 1062,745 1072.6,718 1086.4,681.6 1104,697.6 1121.6,752.8 1140,792.8 1158.4,794.4 1176.8,792.8 1194.4,788 1212,785.6 1231.2,784.8 1248.8,782.9 1265.6,783.2 1287.2,780.7 1329.5,782 1362,785.2 1407.5,790.1 1433.5,793.4" fill="none" stroke="#5f87ae" stroke-width="2.9" stroke-linejoin="round"/><polyline points="866,794 920,795 956,792 1013,792 1032,789 1050.5,766.7 1059.2,742 1069.1,714.7 1079,690 1104.1,605.7 1122.1,576.9 1141,590.4 1158.1,637.2 1171.2,680 1194.4,757.6 1212.8,793.6 1232,793.6 1277.5,791.7 1323,791.7 1358.7,794.3 1394.5,788.5 1433.5,785.6" fill="none" stroke="#6089b0" stroke-width="2.9" stroke-linejoin="round"/><polyline points="866,786 920,788 960,788 1000,784 1009.7,775.4 1015.9,766.7 1032,730.8 1040.6,702.4 1045.6,680 1060,628.2 1081.7,558.6 1085.7,547.6 1103,507.4 1121.1,472 1140,449.9 1158.9,436.5 1177,435.3 1195.1,459.4 1209,495 1225.6,540 1232.8,556.2 1249,626.4 1259.8,676.8 1267.2,724.8 1286,779 1320,781.5 1360,783.5 1400,787.5 1433,790.5" fill="none" stroke="#56799c" stroke-width="2.9" stroke-linejoin="round"/></g><line x1="986.8" y1="775.5" x2="1078.7" y2="496.2" stroke="#000" stroke-width="4.4" stroke-dasharray="16.5 11"/><text x="959.8" y="562" font-family="Liberation Sans, sans-serif" font-size="37"><tspan font-style="italic">δ</tspan>=20°</text><rect x="866.8" y="417.5" width="595.0" height="395.5" fill="none" stroke="#000" stroke-width="2.9"/><line x1="860.8" y1="780.7" x2="866.8" y2="780.7" stroke="#000" stroke-width="1.2"/><text x="858.0" y="797.2" font-family="Liberation Sans, sans-serif" font-size="37" text-anchor="end">0</text><line x1="860.8" y1="705.0" x2="866.8" y2="705.0" stroke="#000" stroke-width="1.2"/><line x1="860.8" y1="629.3" x2="866.8" y2="629.3" stroke="#000" stroke-width="1.2"/><text x="858.0" y="645.8" font-family="Liberation Sans, sans-serif" font-size="37" text-anchor="end">10</text><line x1="860.8" y1="553.6" x2="866.8" y2="553.6" stroke="#000" stroke-width="1.2"/><line x1="860.8" y1="477.9" x2="866.8" y2="477.9" stroke="#000" stroke-width="1.2"/><text x="858.0" y="494.4" font-family="Liberation Sans, sans-serif" font-size="37" text-anchor="end">20</text><line x1="866.8" y1="813" x2="866.8" y2="818" stroke="#000" stroke-width="1.2"/><text x="863.4" y="852" font-family="Liberation Sans, sans-serif" font-size="37.3" text-anchor="middle">0.0</text><line x1="966.0" y1="813" x2="966.0" y2="818" stroke="#000" stroke-width="1.2"/><line x1="1065.1" y1="813" x2="1065.1" y2="818" stroke="#000" stroke-width="1.2"/><text x="1057.1" y="852" font-family="Liberation Sans, sans-serif" font-size="37.3" text-anchor="middle">0.1</text><line x1="1164.3" y1="813" x2="1164.3" y2="818" stroke="#000" stroke-width="1.2"/><line x1="1263.5" y1="813" x2="1263.5" y2="818" stroke="#000" stroke-width="1.2"/><text x="1257.0" y="852" font-family="Liberation Sans, sans-serif" font-size="37.3" text-anchor="middle">0.2</text><line x1="1362.6" y1="813" x2="1362.6" y2="818" stroke="#000" stroke-width="1.2"/><line x1="1461.8" y1="813" x2="1461.8" y2="818" stroke="#000" stroke-width="1.2"/><text x="1448.8" y="852" font-family="Liberation Sans, sans-serif" font-size="37.3" text-anchor="middle">0.3</text><text x="1170" y="876.7" font-family="Liberation Sans, sans-serif" font-size="37" text-anchor="middle"><tspan font-style="italic">x</tspan> (µm)</text><text transform="translate(800,626.5) rotate(-90)" font-family="Liberation Sans, sans-serif" font-size="37" text-anchor="middle"><tspan font-style="italic">z</tspan> (nm)</text><rect x="1247.7" y="435.2" width="134.4" height="133.6" fill="#0b0b0b" stroke="#3a3a3a" stroke-width="1"/><clipPath id="fiq"><rect x="1248" y="435.5" width="134" height="133"/></clipPath><g clip-path="url(#fiq)"><g filter="url(#blur2)"><path d="M1279,496 L1300,494 L1336,509 L1327,526 L1295,515 Z" fill="#9a9a9a"/><ellipse cx="1300" cy="502" rx="15" ry="5.5" transform="rotate(12 1300 502)" fill="#ececec"/><ellipse cx="1315" cy="442" rx="6" ry="3" fill="#555"/></g></g><text x="1253" y="471.6" font-family="Liberation Sans, sans-serif" font-size="36.5" fill="#fff">100 nm</text><rect x="1324" y="483.8" width="52.7" height="7.5" fill="#fff"/><linearGradient id="gcb" x1="0" y1="0" x2="0" y2="1"><stop offset="0" stop-color="#fff"/><stop offset="1" stop-color="#000"/></linearGradient><rect x="1387.4" y="437.2" width="14.6" height="133" fill="url(#gcb)"/><path d="M1402,437.2 L1402,570.2 M1387.4,437.6 L1408.5,437.6 M1402,488.8 L1408,488.8 M1387.4,569.8 L1408.5,569.8" stroke="#333" stroke-width="1.3" fill="none"/><text x="1419.6" y="456.3" font-family="Liberation Sans, sans-serif" font-size="35" font-style="italic">z</text><text x="1408.5" y="502" font-family="Liberation Sans, sans-serif" font-size="35">20</text><text x="1408.5" y="530.3" font-family="Liberation Sans, sans-serif" font-size="35">nm</text><text x="1410.5" y="586" font-family="Liberation Sans, sans-serif" font-size="35">0</text></svg>
</body></html>
